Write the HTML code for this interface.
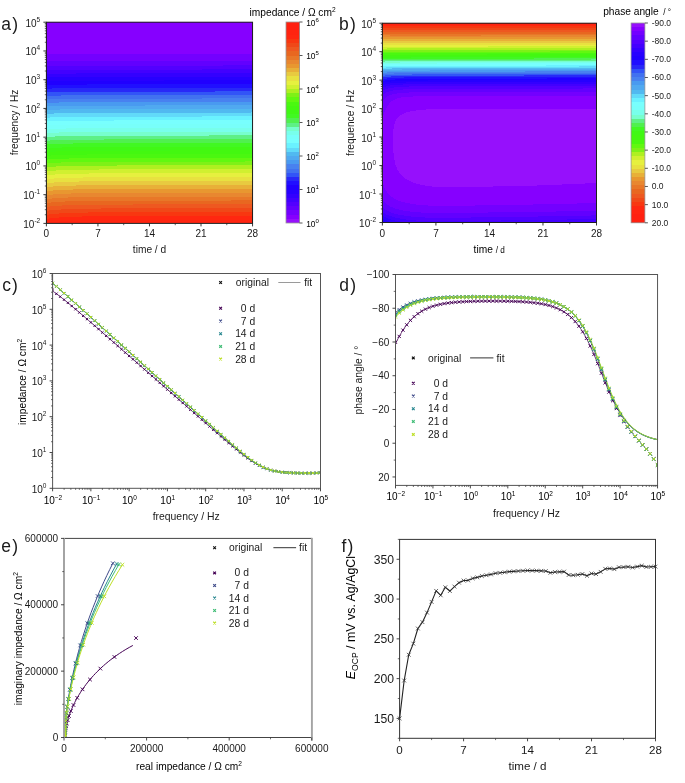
<!DOCTYPE html>
<html><head><meta charset="utf-8"><style>
html,body{margin:0;padding:0;background:#fff;overflow:hidden;}
svg{display:block;filter:blur(0.35px);}
text{font-family:"Liberation Sans", sans-serif;}
</style></head><body>
<svg width="685" height="783" viewBox="0 0 685 783">
<rect width="685" height="783" fill="#fff"/>
<g shape-rendering="crispEdges"><rect x="46.4" y="22.2" width="206.15" height="0.8" fill="#8600ff"/><rect x="46.4" y="23" width="206.15" height="1" fill="#8600ff"/><rect x="46.4" y="24" width="206.15" height="1" fill="#8600ff"/><rect x="46.4" y="25" width="206.15" height="1" fill="#8600ff"/><rect x="46.4" y="26" width="206.15" height="1" fill="#8600ff"/><rect x="46.4" y="27" width="206.15" height="1" fill="#8600ff"/><rect x="46.4" y="28" width="206.15" height="1" fill="#8600ff"/><rect x="46.4" y="29" width="206.15" height="1" fill="#8600ff"/><rect x="46.4" y="30" width="206.15" height="1" fill="#8600ff"/><rect x="46.4" y="31" width="206.15" height="1" fill="#8600ff"/><rect x="46.4" y="32" width="206.15" height="1" fill="#8600ff"/><rect x="46.4" y="33" width="206.15" height="1" fill="#8600ff"/><rect x="46.4" y="34" width="206.15" height="1" fill="#8600ff"/><rect x="46.4" y="35" width="206.15" height="1" fill="#8600ff"/><rect x="46.4" y="36" width="206.15" height="1" fill="#8600ff"/><rect x="46.4" y="37" width="206.15" height="1" fill="#8600ff"/><rect x="46.4" y="38" width="206.15" height="1" fill="#8600ff"/><rect x="46.4" y="39" width="206.15" height="1" fill="#8600ff"/><rect x="46.4" y="40" width="206.15" height="1" fill="#8600ff"/><rect x="46.4" y="41" width="206.15" height="1" fill="#8600ff"/><rect x="46.4" y="42" width="206.15" height="1" fill="#8600ff"/><rect x="46.4" y="43" width="206.15" height="1" fill="#8600ff"/><rect x="46.4" y="44" width="206.15" height="1" fill="#8600ff"/><rect x="46.4" y="45" width="206.15" height="1" fill="#8600ff"/><rect x="46.4" y="46" width="206.15" height="1" fill="#8600ff"/><rect x="46.4" y="47" width="206.15" height="1" fill="#8600ff"/><rect x="46.4" y="48" width="206.15" height="1" fill="#8600ff"/><rect x="46.4" y="49" width="206.15" height="1" fill="#8600ff"/><rect x="46.4" y="50" width="206.15" height="1" fill="#8600ff"/><rect x="46.4" y="51" width="206.15" height="1" fill="#8600ff"/><rect x="46.4" y="52" width="206.15" height="1" fill="#8600ff"/><rect x="46.4" y="53" width="206.15" height="1" fill="#8600ff"/><rect x="46.4" y="54" width="206.15" height="1" fill="#7300ff"/><rect x="46.4" y="55" width="206.15" height="1" fill="#7300ff"/><rect x="46.4" y="56" width="206.15" height="1" fill="#7300ff"/><rect x="46.4" y="57" width="206.15" height="1" fill="#7300ff"/><rect x="46.4" y="58" width="206.15" height="1" fill="#7300ff"/><rect x="46.4" y="59" width="206.15" height="1" fill="#7300ff"/><rect x="46.4" y="60" width="206.15" height="1" fill="#7300ff"/><rect x="46.4" y="61" width="206.15" height="1" fill="#6200ff"/><rect x="46.4" y="62" width="206.15" height="1" fill="#6200ff"/><rect x="46.4" y="63" width="206.15" height="1" fill="#6200ff"/><rect x="46.4" y="64" width="206.15" height="1" fill="#6200ff"/><rect x="46.4" y="65" width="176.6" height="1" fill="#6200ff"/><rect x="223" y="65" width="29.55" height="1" fill="#5200ff"/><rect x="46.4" y="66" width="206.15" height="1" fill="#5200ff"/><rect x="46.4" y="67" width="206.15" height="1" fill="#5200ff"/><rect x="46.4" y="68" width="206.15" height="1" fill="#5200ff"/><rect x="46.4" y="69" width="155.6" height="1" fill="#5200ff"/><rect x="202" y="69" width="50.55" height="1" fill="#4200ff"/><rect x="46.4" y="70" width="206.15" height="1" fill="#4200ff"/><rect x="46.4" y="71" width="206.15" height="1" fill="#4200ff"/><rect x="46.4" y="72" width="206.15" height="1" fill="#4200ff"/><rect x="46.4" y="73" width="29.6" height="1" fill="#4200ff"/><rect x="76" y="73" width="176.55" height="1" fill="#3300ff"/><rect x="46.4" y="74" width="206.15" height="1" fill="#3300ff"/><rect x="46.4" y="75" width="206.15" height="1" fill="#3300ff"/><rect x="46.4" y="76" width="206.15" height="1" fill="#3300ff"/><rect x="46.4" y="77" width="206.15" height="1" fill="#2700ff"/><rect x="46.4" y="78" width="206.15" height="1" fill="#2700ff"/><rect x="46.4" y="79" width="206.15" height="1" fill="#2700ff"/><rect x="46.4" y="80" width="117.6" height="1" fill="#2700ff"/><rect x="164" y="80" width="88.55" height="1" fill="#2000ff"/><rect x="46.4" y="81" width="206.15" height="1" fill="#2000ff"/><rect x="46.4" y="82" width="206.15" height="1" fill="#2000ff"/><rect x="46.4" y="83" width="206.15" height="1" fill="#2000ff"/><rect x="46.4" y="84" width="40.6" height="1" fill="#2000ff"/><rect x="87" y="84" width="165.55" height="1" fill="#200fff"/><rect x="46.4" y="85" width="206.15" height="1" fill="#200fff"/><rect x="46.4" y="86" width="206.15" height="1" fill="#200fff"/><rect x="46.4" y="87" width="206.15" height="1" fill="#200fff"/><rect x="46.4" y="88" width="5.6" height="1" fill="#200fff"/><rect x="52" y="88" width="200.55" height="1" fill="#2828f8"/><rect x="46.4" y="89" width="206.15" height="1" fill="#2828f8"/><rect x="46.4" y="90" width="206.15" height="1" fill="#2828f8"/><rect x="46.4" y="91" width="168.6" height="1" fill="#2828f8"/><rect x="215" y="91" width="37.55" height="1" fill="#3254f7"/><rect x="46.4" y="92" width="206.15" height="1" fill="#3254f7"/><rect x="46.4" y="93" width="206.15" height="1" fill="#3254f7"/><rect x="46.4" y="94" width="206.15" height="1" fill="#3254f7"/><rect x="46.4" y="95" width="14.6" height="1" fill="#3254f7"/><rect x="61" y="95" width="191.55" height="1" fill="#4171f0"/><rect x="46.4" y="96" width="206.15" height="1" fill="#4171f0"/><rect x="46.4" y="97" width="206.15" height="1" fill="#4171f0"/><rect x="46.4" y="98" width="155.6" height="1" fill="#4171f0"/><rect x="202" y="98" width="50.55" height="1" fill="#4881f0"/><rect x="46.4" y="99" width="206.15" height="1" fill="#4881f0"/><rect x="46.4" y="100" width="206.15" height="1" fill="#4881f0"/><rect x="46.4" y="101" width="206.15" height="1" fill="#4881f0"/><rect x="46.4" y="102" width="12.6" height="1" fill="#4881f0"/><rect x="59" y="102" width="193.55" height="1" fill="#499af0"/><rect x="46.4" y="103" width="206.15" height="1" fill="#499af0"/><rect x="46.4" y="104" width="206.15" height="1" fill="#499af0"/><rect x="46.4" y="105" width="98.6" height="1" fill="#499af0"/><rect x="145" y="105" width="107.55" height="1" fill="#50a9f0"/><rect x="46.4" y="106" width="206.15" height="1" fill="#50a9f0"/><rect x="46.4" y="107" width="206.15" height="1" fill="#50a9f0"/><rect x="46.4" y="108" width="206.15" height="1" fill="#50a9f0"/><rect x="46.4" y="109" width="13.6" height="1" fill="#50a9f0"/><rect x="60" y="109" width="192.55" height="1" fill="#51b9f0"/><rect x="46.4" y="110" width="206.15" height="1" fill="#51b9f0"/><rect x="46.4" y="111" width="206.15" height="1" fill="#51b9f0"/><rect x="46.4" y="112" width="204.6" height="1" fill="#51b9f0"/><rect x="251" y="112" width="1.55" height="1" fill="#61daf9"/><rect x="46.4" y="113" width="7.6" height="1" fill="#51b9f0"/><rect x="54" y="113" width="198.55" height="1" fill="#61daf9"/><rect x="46.4" y="114" width="206.15" height="1" fill="#61daf9"/><rect x="46.4" y="115" width="206.15" height="1" fill="#61daf9"/><rect x="46.4" y="116" width="155.6" height="1" fill="#61daf9"/><rect x="202" y="116" width="50.55" height="1" fill="#6af2ff"/><rect x="46.4" y="117" width="3.6" height="1" fill="#61daf9"/><rect x="50" y="117" width="202.55" height="1" fill="#6af2ff"/><rect x="46.4" y="118" width="206.15" height="1" fill="#6af2ff"/><rect x="46.4" y="119" width="206.15" height="1" fill="#6af2ff"/><rect x="46.4" y="120" width="67.6" height="1" fill="#6af2ff"/><rect x="114" y="120" width="138.55" height="1" fill="#78fffe"/><rect x="46.4" y="121" width="0.6" height="1" fill="#6af2ff"/><rect x="47" y="121" width="205.55" height="1" fill="#78fffe"/><rect x="46.4" y="122" width="206.15" height="1" fill="#78fffe"/><rect x="46.4" y="123" width="206.15" height="1" fill="#78fffe"/><rect x="46.4" y="124" width="31.6" height="1" fill="#78fffe"/><rect x="78" y="124" width="174.55" height="1" fill="#78fffa"/><rect x="46.4" y="125" width="206.15" height="1" fill="#78fffa"/><rect x="46.4" y="126" width="206.15" height="1" fill="#78fffa"/><rect x="46.4" y="127" width="206.15" height="1" fill="#78fffa"/><rect x="46.4" y="128" width="19.6" height="1" fill="#78fffa"/><rect x="66" y="128" width="186.55" height="1" fill="#78ffeb"/><rect x="46.4" y="129" width="206.15" height="1" fill="#78ffeb"/><rect x="46.4" y="130" width="206.15" height="1" fill="#78ffeb"/><rect x="46.4" y="131" width="206.15" height="1" fill="#78ffeb"/><rect x="46.4" y="132" width="12.6" height="1" fill="#78ffeb"/><rect x="59" y="132" width="193.55" height="1" fill="#77fecd"/><rect x="46.4" y="133" width="206.15" height="1" fill="#77fecd"/><rect x="46.4" y="134" width="206.15" height="1" fill="#77fecd"/><rect x="46.4" y="135" width="162.6" height="1" fill="#77fecd"/><rect x="209" y="135" width="43.55" height="1" fill="#5ef086"/><rect x="46.4" y="136" width="8.6" height="1" fill="#77fecd"/><rect x="55" y="136" width="197.55" height="1" fill="#5ef086"/><rect x="46.4" y="137" width="206.15" height="1" fill="#5ef086"/><rect x="46.4" y="138" width="206.15" height="1" fill="#5ef086"/><rect x="46.4" y="139" width="57.6" height="1" fill="#5ef086"/><rect x="104" y="139" width="148.55" height="1" fill="#50f04f"/><rect x="46.4" y="140" width="3.6" height="1" fill="#5ef086"/><rect x="50" y="140" width="202.55" height="1" fill="#50f04f"/><rect x="46.4" y="141" width="206.15" height="1" fill="#50f04f"/><rect x="46.4" y="142" width="206.15" height="1" fill="#50f04f"/><rect x="46.4" y="143" width="26.6" height="1" fill="#50f04f"/><rect x="73" y="143" width="179.55" height="1" fill="#41f822"/><rect x="46.4" y="144" width="0.6" height="1" fill="#50f04f"/><rect x="47" y="144" width="205.55" height="1" fill="#41f822"/><rect x="46.4" y="145" width="206.15" height="1" fill="#41f822"/><rect x="46.4" y="146" width="206.15" height="1" fill="#41f822"/><rect x="46.4" y="147" width="15.6" height="1" fill="#41f822"/><rect x="62" y="147" width="190.55" height="1" fill="#40f815"/><rect x="46.4" y="148" width="206.15" height="1" fill="#40f815"/><rect x="46.4" y="149" width="206.15" height="1" fill="#40f815"/><rect x="46.4" y="150" width="123.6" height="1" fill="#40f815"/><rect x="170" y="150" width="82.55" height="1" fill="#43f810"/><rect x="46.4" y="151" width="9.6" height="1" fill="#40f815"/><rect x="56" y="151" width="196.55" height="1" fill="#43f810"/><rect x="46.4" y="152" width="206.15" height="1" fill="#43f810"/><rect x="46.4" y="153" width="206.15" height="1" fill="#43f810"/><rect x="46.4" y="154" width="40.6" height="1" fill="#43f810"/><rect x="87" y="154" width="165.55" height="1" fill="#4af810"/><rect x="46.4" y="155" width="4.6" height="1" fill="#43f810"/><rect x="51" y="155" width="201.55" height="1" fill="#4af810"/><rect x="46.4" y="156" width="206.15" height="1" fill="#4af810"/><rect x="46.4" y="157" width="206.15" height="1" fill="#4af810"/><rect x="46.4" y="158" width="22.6" height="1" fill="#4af810"/><rect x="69" y="158" width="183.55" height="1" fill="#61f810"/><rect x="46.4" y="159" width="1.6" height="1" fill="#4af810"/><rect x="48" y="159" width="204.55" height="1" fill="#61f810"/><rect x="46.4" y="160" width="206.15" height="1" fill="#61f810"/><rect x="46.4" y="161" width="198.6" height="1" fill="#61f810"/><rect x="245" y="161" width="7.55" height="1" fill="#7ef117"/><rect x="46.4" y="162" width="14.6" height="1" fill="#61f810"/><rect x="61" y="162" width="191.55" height="1" fill="#7ef117"/><rect x="46.4" y="163" width="206.15" height="1" fill="#7ef117"/><rect x="46.4" y="164" width="206.15" height="1" fill="#7ef117"/><rect x="46.4" y="165" width="70.6" height="1" fill="#7ef117"/><rect x="117" y="165" width="135.55" height="1" fill="#aef020"/><rect x="46.4" y="166" width="9.6" height="1" fill="#7ef117"/><rect x="56" y="166" width="196.55" height="1" fill="#aef020"/><rect x="46.4" y="167" width="206.15" height="1" fill="#aef020"/><rect x="46.4" y="168" width="206.15" height="1" fill="#aef020"/><rect x="46.4" y="169" width="52.6" height="1" fill="#aef020"/><rect x="99" y="169" width="153.55" height="1" fill="#d0f030"/><rect x="46.4" y="170" width="9.6" height="1" fill="#aef020"/><rect x="56" y="170" width="196.55" height="1" fill="#d0f030"/><rect x="46.4" y="171" width="206.15" height="1" fill="#d0f030"/><rect x="46.4" y="172" width="206.15" height="1" fill="#d0f030"/><rect x="46.4" y="173" width="42.6" height="1" fill="#d0f030"/><rect x="89" y="173" width="163.55" height="1" fill="#e6f03f"/><rect x="46.4" y="174" width="8.6" height="1" fill="#d0f030"/><rect x="55" y="174" width="197.55" height="1" fill="#e6f03f"/><rect x="46.4" y="175" width="206.15" height="1" fill="#e6f03f"/><rect x="46.4" y="176" width="206.15" height="1" fill="#e6f03f"/><rect x="46.4" y="177" width="36.6" height="1" fill="#e6f03f"/><rect x="83" y="177" width="169.55" height="1" fill="#e8e140"/><rect x="46.4" y="178" width="7.6" height="1" fill="#e6f03f"/><rect x="54" y="178" width="198.55" height="1" fill="#e8e140"/><rect x="46.4" y="179" width="206.15" height="1" fill="#e8e140"/><rect x="46.4" y="180" width="206.15" height="1" fill="#e8e140"/><rect x="46.4" y="181" width="32.6" height="1" fill="#e8e140"/><rect x="79" y="181" width="173.55" height="1" fill="#e8ca40"/><rect x="46.4" y="182" width="7.6" height="1" fill="#e8e140"/><rect x="54" y="182" width="198.55" height="1" fill="#e8ca40"/><rect x="46.4" y="183" width="206.15" height="1" fill="#e8ca40"/><rect x="46.4" y="184" width="206.15" height="1" fill="#e8ca40"/><rect x="46.4" y="185" width="29.6" height="1" fill="#e8ca40"/><rect x="76" y="185" width="176.55" height="1" fill="#e8b038"/><rect x="46.4" y="186" width="6.6" height="1" fill="#e8ca40"/><rect x="53" y="186" width="199.55" height="1" fill="#e8b038"/><rect x="46.4" y="187" width="206.15" height="1" fill="#e8b038"/><rect x="46.4" y="188" width="206.15" height="1" fill="#e8b038"/><rect x="46.4" y="189" width="26.6" height="1" fill="#e8b038"/><rect x="73" y="189" width="179.55" height="1" fill="#e89730"/><rect x="46.4" y="190" width="6.6" height="1" fill="#e8b038"/><rect x="53" y="190" width="199.55" height="1" fill="#e89730"/><rect x="46.4" y="191" width="206.15" height="1" fill="#e89730"/><rect x="46.4" y="192" width="206.15" height="1" fill="#e89730"/><rect x="46.4" y="193" width="24.6" height="1" fill="#e89730"/><rect x="71" y="193" width="181.55" height="1" fill="#e88730"/><rect x="46.4" y="194" width="6.6" height="1" fill="#e89730"/><rect x="53" y="194" width="199.55" height="1" fill="#e88730"/><rect x="46.4" y="195" width="206.15" height="1" fill="#e88730"/><rect x="46.4" y="196" width="206.15" height="1" fill="#e88730"/><rect x="46.4" y="197" width="21.6" height="1" fill="#e88730"/><rect x="68" y="197" width="184.55" height="1" fill="#e87728"/><rect x="46.4" y="198" width="5.6" height="1" fill="#e88730"/><rect x="52" y="198" width="200.55" height="1" fill="#e87728"/><rect x="46.4" y="199" width="206.15" height="1" fill="#e87728"/><rect x="46.4" y="200" width="184.6" height="1" fill="#e87728"/><rect x="231" y="200" width="21.55" height="1" fill="#e86720"/><rect x="46.4" y="201" width="18.6" height="1" fill="#e87728"/><rect x="65" y="201" width="187.55" height="1" fill="#e86720"/><rect x="46.4" y="202" width="4.6" height="1" fill="#e87728"/><rect x="51" y="202" width="201.55" height="1" fill="#e86720"/><rect x="46.4" y="203" width="206.15" height="1" fill="#e86720"/><rect x="46.4" y="204" width="86.6" height="1" fill="#e86720"/><rect x="133" y="204" width="119.55" height="1" fill="#ee5820"/><rect x="46.4" y="205" width="15.6" height="1" fill="#e86720"/><rect x="62" y="205" width="190.55" height="1" fill="#ee5820"/><rect x="46.4" y="206" width="3.6" height="1" fill="#e86720"/><rect x="50" y="206" width="202.55" height="1" fill="#ee5820"/><rect x="46.4" y="207" width="206.15" height="1" fill="#ee5820"/><rect x="46.4" y="208" width="54.6" height="1" fill="#ee5820"/><rect x="101" y="208" width="151.55" height="1" fill="#f04818"/><rect x="46.4" y="209" width="14.6" height="1" fill="#ee5820"/><rect x="61" y="209" width="191.55" height="1" fill="#f04818"/><rect x="46.4" y="210" width="2.6" height="1" fill="#ee5820"/><rect x="49" y="210" width="203.55" height="1" fill="#f04818"/><rect x="46.4" y="211" width="206.15" height="1" fill="#f04818"/><rect x="46.4" y="212" width="41.6" height="1" fill="#f04818"/><rect x="88" y="212" width="164.55" height="1" fill="#f83710"/><rect x="46.4" y="213" width="12.6" height="1" fill="#f04818"/><rect x="59" y="213" width="193.55" height="1" fill="#f83710"/><rect x="46.4" y="214" width="2.6" height="1" fill="#f04818"/><rect x="49" y="214" width="203.55" height="1" fill="#f83710"/><rect x="46.4" y="215" width="206.15" height="1" fill="#f83710"/><rect x="46.4" y="216" width="35.6" height="1" fill="#f83710"/><rect x="82" y="216" width="170.55" height="1" fill="#ff2710"/><rect x="46.4" y="217" width="12.6" height="1" fill="#f83710"/><rect x="59" y="217" width="193.55" height="1" fill="#ff2710"/><rect x="46.4" y="218" width="2.6" height="1" fill="#f83710"/><rect x="49" y="218" width="203.55" height="1" fill="#ff2710"/><rect x="46.4" y="219" width="206.15" height="1" fill="#ff2710"/><rect x="46.4" y="220" width="33.6" height="1" fill="#ff2710"/><rect x="80" y="220" width="172.55" height="1" fill="#ff2410"/><rect x="46.4" y="221" width="12.6" height="1" fill="#ff2710"/><rect x="59" y="221" width="193.55" height="1" fill="#ff2410"/><rect x="46.4" y="222" width="3.6" height="1" fill="#ff2710"/><rect x="50" y="222" width="202.55" height="1" fill="#ff2410"/><rect x="46.4" y="223" width="206.15" height="0.4" fill="#ff2410"/></g>
<rect x="46.4" y="22.2" width="206.15" height="201.2" fill="none" stroke="#1e1e1e" stroke-width="1"/>
<line x1="43.4" y1="223.4" x2="46.4" y2="223.4" stroke="#222" stroke-width="0.9"/>
<line x1="44.8" y1="214.75" x2="46.4" y2="214.75" stroke="#222" stroke-width="0.7"/>
<line x1="44.8" y1="209.69" x2="46.4" y2="209.69" stroke="#222" stroke-width="0.7"/>
<line x1="44.8" y1="206.1" x2="46.4" y2="206.1" stroke="#222" stroke-width="0.7"/>
<line x1="44.8" y1="203.31" x2="46.4" y2="203.31" stroke="#222" stroke-width="0.7"/>
<line x1="44.8" y1="201.03" x2="46.4" y2="201.03" stroke="#222" stroke-width="0.7"/>
<line x1="44.8" y1="199.11" x2="46.4" y2="199.11" stroke="#222" stroke-width="0.7"/>
<line x1="44.8" y1="197.44" x2="46.4" y2="197.44" stroke="#222" stroke-width="0.7"/>
<line x1="44.8" y1="195.97" x2="46.4" y2="195.97" stroke="#222" stroke-width="0.7"/>
<line x1="43.4" y1="194.66" x2="46.4" y2="194.66" stroke="#222" stroke-width="0.9"/>
<line x1="44.8" y1="186" x2="46.4" y2="186" stroke="#222" stroke-width="0.7"/>
<line x1="44.8" y1="180.94" x2="46.4" y2="180.94" stroke="#222" stroke-width="0.7"/>
<line x1="44.8" y1="177.35" x2="46.4" y2="177.35" stroke="#222" stroke-width="0.7"/>
<line x1="44.8" y1="174.57" x2="46.4" y2="174.57" stroke="#222" stroke-width="0.7"/>
<line x1="44.8" y1="172.29" x2="46.4" y2="172.29" stroke="#222" stroke-width="0.7"/>
<line x1="44.8" y1="170.37" x2="46.4" y2="170.37" stroke="#222" stroke-width="0.7"/>
<line x1="44.8" y1="168.7" x2="46.4" y2="168.7" stroke="#222" stroke-width="0.7"/>
<line x1="44.8" y1="167.23" x2="46.4" y2="167.23" stroke="#222" stroke-width="0.7"/>
<line x1="43.4" y1="165.91" x2="46.4" y2="165.91" stroke="#222" stroke-width="0.9"/>
<line x1="44.8" y1="157.26" x2="46.4" y2="157.26" stroke="#222" stroke-width="0.7"/>
<line x1="44.8" y1="152.2" x2="46.4" y2="152.2" stroke="#222" stroke-width="0.7"/>
<line x1="44.8" y1="148.61" x2="46.4" y2="148.61" stroke="#222" stroke-width="0.7"/>
<line x1="44.8" y1="145.82" x2="46.4" y2="145.82" stroke="#222" stroke-width="0.7"/>
<line x1="44.8" y1="143.55" x2="46.4" y2="143.55" stroke="#222" stroke-width="0.7"/>
<line x1="44.8" y1="141.62" x2="46.4" y2="141.62" stroke="#222" stroke-width="0.7"/>
<line x1="44.8" y1="139.96" x2="46.4" y2="139.96" stroke="#222" stroke-width="0.7"/>
<line x1="44.8" y1="138.49" x2="46.4" y2="138.49" stroke="#222" stroke-width="0.7"/>
<line x1="43.4" y1="137.17" x2="46.4" y2="137.17" stroke="#222" stroke-width="0.9"/>
<line x1="44.8" y1="128.52" x2="46.4" y2="128.52" stroke="#222" stroke-width="0.7"/>
<line x1="44.8" y1="123.46" x2="46.4" y2="123.46" stroke="#222" stroke-width="0.7"/>
<line x1="44.8" y1="119.87" x2="46.4" y2="119.87" stroke="#222" stroke-width="0.7"/>
<line x1="44.8" y1="117.08" x2="46.4" y2="117.08" stroke="#222" stroke-width="0.7"/>
<line x1="44.8" y1="114.81" x2="46.4" y2="114.81" stroke="#222" stroke-width="0.7"/>
<line x1="44.8" y1="112.88" x2="46.4" y2="112.88" stroke="#222" stroke-width="0.7"/>
<line x1="44.8" y1="111.21" x2="46.4" y2="111.21" stroke="#222" stroke-width="0.7"/>
<line x1="44.8" y1="109.74" x2="46.4" y2="109.74" stroke="#222" stroke-width="0.7"/>
<line x1="43.4" y1="108.43" x2="46.4" y2="108.43" stroke="#222" stroke-width="0.9"/>
<line x1="44.8" y1="99.78" x2="46.4" y2="99.78" stroke="#222" stroke-width="0.7"/>
<line x1="44.8" y1="94.71" x2="46.4" y2="94.71" stroke="#222" stroke-width="0.7"/>
<line x1="44.8" y1="91.12" x2="46.4" y2="91.12" stroke="#222" stroke-width="0.7"/>
<line x1="44.8" y1="88.34" x2="46.4" y2="88.34" stroke="#222" stroke-width="0.7"/>
<line x1="44.8" y1="86.06" x2="46.4" y2="86.06" stroke="#222" stroke-width="0.7"/>
<line x1="44.8" y1="84.14" x2="46.4" y2="84.14" stroke="#222" stroke-width="0.7"/>
<line x1="44.8" y1="82.47" x2="46.4" y2="82.47" stroke="#222" stroke-width="0.7"/>
<line x1="44.8" y1="81" x2="46.4" y2="81" stroke="#222" stroke-width="0.7"/>
<line x1="43.4" y1="79.69" x2="46.4" y2="79.69" stroke="#222" stroke-width="0.9"/>
<line x1="44.8" y1="71.03" x2="46.4" y2="71.03" stroke="#222" stroke-width="0.7"/>
<line x1="44.8" y1="65.97" x2="46.4" y2="65.97" stroke="#222" stroke-width="0.7"/>
<line x1="44.8" y1="62.38" x2="46.4" y2="62.38" stroke="#222" stroke-width="0.7"/>
<line x1="44.8" y1="59.6" x2="46.4" y2="59.6" stroke="#222" stroke-width="0.7"/>
<line x1="44.8" y1="57.32" x2="46.4" y2="57.32" stroke="#222" stroke-width="0.7"/>
<line x1="44.8" y1="55.4" x2="46.4" y2="55.4" stroke="#222" stroke-width="0.7"/>
<line x1="44.8" y1="53.73" x2="46.4" y2="53.73" stroke="#222" stroke-width="0.7"/>
<line x1="44.8" y1="52.26" x2="46.4" y2="52.26" stroke="#222" stroke-width="0.7"/>
<line x1="43.4" y1="50.94" x2="46.4" y2="50.94" stroke="#222" stroke-width="0.9"/>
<line x1="44.8" y1="42.29" x2="46.4" y2="42.29" stroke="#222" stroke-width="0.7"/>
<line x1="44.8" y1="37.23" x2="46.4" y2="37.23" stroke="#222" stroke-width="0.7"/>
<line x1="44.8" y1="33.64" x2="46.4" y2="33.64" stroke="#222" stroke-width="0.7"/>
<line x1="44.8" y1="30.85" x2="46.4" y2="30.85" stroke="#222" stroke-width="0.7"/>
<line x1="44.8" y1="28.58" x2="46.4" y2="28.58" stroke="#222" stroke-width="0.7"/>
<line x1="44.8" y1="26.65" x2="46.4" y2="26.65" stroke="#222" stroke-width="0.7"/>
<line x1="44.8" y1="24.99" x2="46.4" y2="24.99" stroke="#222" stroke-width="0.7"/>
<line x1="44.8" y1="23.52" x2="46.4" y2="23.52" stroke="#222" stroke-width="0.7"/>
<line x1="43.4" y1="22.2" x2="46.4" y2="22.2" stroke="#222" stroke-width="0.9"/>
<text x="40.2" y="227.9" font-size="10" text-anchor="end" fill="#1a1a1a">10<tspan font-size="6.5" dy="-5.0">-2</tspan></text>
<text x="40.2" y="199.16" font-size="10" text-anchor="end" fill="#1a1a1a">10<tspan font-size="6.5" dy="-5.0">-1</tspan></text>
<text x="40.2" y="170.41" font-size="10" text-anchor="end" fill="#1a1a1a">10<tspan font-size="6.5" dy="-5.0">0</tspan></text>
<text x="40.2" y="141.67" font-size="10" text-anchor="end" fill="#1a1a1a">10<tspan font-size="6.5" dy="-5.0">1</tspan></text>
<text x="40.2" y="112.93" font-size="10" text-anchor="end" fill="#1a1a1a">10<tspan font-size="6.5" dy="-5.0">2</tspan></text>
<text x="40.2" y="84.19" font-size="10" text-anchor="end" fill="#1a1a1a">10<tspan font-size="6.5" dy="-5.0">3</tspan></text>
<text x="40.2" y="55.44" font-size="10" text-anchor="end" fill="#1a1a1a">10<tspan font-size="6.5" dy="-5.0">4</tspan></text>
<text x="40.2" y="26.7" font-size="10" text-anchor="end" fill="#1a1a1a">10<tspan font-size="6.5" dy="-5.0">5</tspan></text>
<line x1="46.4" y1="223.4" x2="46.4" y2="226.4" stroke="#222" stroke-width="0.9"/>
<text x="46.4" y="236.6" font-size="10" text-anchor="middle" fill="#1a1a1a">0</text>
<line x1="97.94" y1="223.4" x2="97.94" y2="226.4" stroke="#222" stroke-width="0.9"/>
<text x="97.94" y="236.6" font-size="10" text-anchor="middle" fill="#1a1a1a">7</text>
<line x1="149.47" y1="223.4" x2="149.47" y2="226.4" stroke="#222" stroke-width="0.9"/>
<text x="149.47" y="236.6" font-size="10" text-anchor="middle" fill="#1a1a1a">14</text>
<line x1="201.01" y1="223.4" x2="201.01" y2="226.4" stroke="#222" stroke-width="0.9"/>
<text x="201.01" y="236.6" font-size="10" text-anchor="middle" fill="#1a1a1a">21</text>
<line x1="252.55" y1="223.4" x2="252.55" y2="226.4" stroke="#222" stroke-width="0.9"/>
<text x="252.55" y="236.6" font-size="10" text-anchor="middle" fill="#1a1a1a">28</text>
<line x1="72.17" y1="223.4" x2="72.17" y2="225.2" stroke="#222" stroke-width="0.7"/>
<line x1="123.71" y1="223.4" x2="123.71" y2="225.2" stroke="#222" stroke-width="0.7"/>
<line x1="175.24" y1="223.4" x2="175.24" y2="225.2" stroke="#222" stroke-width="0.7"/>
<line x1="226.78" y1="223.4" x2="226.78" y2="225.2" stroke="#222" stroke-width="0.7"/>
<text x="149.5" y="253.4" font-size="10.2" text-anchor="middle" fill="#1a1a1a">time / d</text>
<text x="18.2" y="122.5" font-size="10.2" text-anchor="middle" fill="#1a1a1a" transform="rotate(-90 18.2 122.5)">frequency / Hz</text>
<text x="1.3" y="29.5" font-size="17.5" text-anchor="start" fill="#1a1a1a">a<tspan dx="1.1">)</tspan></text>
<g shape-rendering="crispEdges"><rect x="286" y="22" width="13.5" height="4" fill="#ff2010"/><rect x="286" y="26" width="13.5" height="4" fill="#ff2010"/><rect x="286" y="30" width="13.5" height="5" fill="#ff2410"/><rect x="286" y="35" width="13.5" height="4" fill="#ff2710"/><rect x="286" y="39" width="13.5" height="4" fill="#f83710"/><rect x="286" y="43" width="13.5" height="4" fill="#f04818"/><rect x="286" y="47" width="13.5" height="4" fill="#ee5820"/><rect x="286" y="51" width="13.5" height="5" fill="#e86720"/><rect x="286" y="56" width="13.5" height="4" fill="#e87728"/><rect x="286" y="60" width="13.5" height="4" fill="#e88730"/><rect x="286" y="64" width="13.5" height="4" fill="#e89730"/><rect x="286" y="68" width="13.5" height="4" fill="#e8b038"/><rect x="286" y="72" width="13.5" height="4" fill="#e8ca40"/><rect x="286" y="76" width="13.5" height="5" fill="#e8e140"/><rect x="286" y="81" width="13.5" height="4" fill="#e6f03f"/><rect x="286" y="85" width="13.5" height="4" fill="#d0f030"/><rect x="286" y="89" width="13.5" height="4" fill="#aef020"/><rect x="286" y="93" width="13.5" height="4" fill="#7ef117"/><rect x="286" y="97" width="13.5" height="5" fill="#61f810"/><rect x="286" y="102" width="13.5" height="4" fill="#4af810"/><rect x="286" y="106" width="13.5" height="4" fill="#43f810"/><rect x="286" y="110" width="13.5" height="4" fill="#40f815"/><rect x="286" y="114" width="13.5" height="4" fill="#41f822"/><rect x="286" y="118" width="13.5" height="5" fill="#50f04f"/><rect x="286" y="123" width="13.5" height="4" fill="#5ef086"/><rect x="286" y="127" width="13.5" height="4" fill="#77fecd"/><rect x="286" y="131" width="13.5" height="4" fill="#78ffeb"/><rect x="286" y="135" width="13.5" height="4" fill="#78fffa"/><rect x="286" y="139" width="13.5" height="4" fill="#78fffe"/><rect x="286" y="143" width="13.5" height="5" fill="#6af2ff"/><rect x="286" y="148" width="13.5" height="4" fill="#61daf9"/><rect x="286" y="152" width="13.5" height="4" fill="#51b9f0"/><rect x="286" y="156" width="13.5" height="4" fill="#50a9f0"/><rect x="286" y="160" width="13.5" height="4" fill="#499af0"/><rect x="286" y="164" width="13.5" height="5" fill="#4881f0"/><rect x="286" y="169" width="13.5" height="4" fill="#4171f0"/><rect x="286" y="173" width="13.5" height="4" fill="#3254f7"/><rect x="286" y="177" width="13.5" height="4" fill="#2828f8"/><rect x="286" y="181" width="13.5" height="4" fill="#200fff"/><rect x="286" y="185" width="13.5" height="5" fill="#2000ff"/><rect x="286" y="190" width="13.5" height="4" fill="#2700ff"/><rect x="286" y="194" width="13.5" height="4" fill="#3300ff"/><rect x="286" y="198" width="13.5" height="4" fill="#4200ff"/><rect x="286" y="202" width="13.5" height="4" fill="#5200ff"/><rect x="286" y="206" width="13.5" height="4" fill="#6200ff"/><rect x="286" y="210" width="13.5" height="5" fill="#7300ff"/><rect x="286" y="215" width="13.5" height="4" fill="#8600ff"/><rect x="286" y="219" width="13.5" height="4" fill="#9610fc"/></g>
<rect x="286" y="22" width="13.5" height="201" fill="none" stroke="#9a9a9a" stroke-width="0.8"/>
<line x1="299.5" y1="223" x2="302.5" y2="223" stroke="#444" stroke-width="0.9"/>
<text x="306.2" y="226.7" font-size="8.4">10<tspan font-size="6" dy="-3.8">0</tspan></text>
<line x1="299.5" y1="189.5" x2="302.5" y2="189.5" stroke="#444" stroke-width="0.9"/>
<text x="306.2" y="193.2" font-size="8.4">10<tspan font-size="6" dy="-3.8">1</tspan></text>
<line x1="299.5" y1="156" x2="302.5" y2="156" stroke="#444" stroke-width="0.9"/>
<text x="306.2" y="159.7" font-size="8.4">10<tspan font-size="6" dy="-3.8">2</tspan></text>
<line x1="299.5" y1="122.5" x2="302.5" y2="122.5" stroke="#444" stroke-width="0.9"/>
<text x="306.2" y="126.2" font-size="8.4">10<tspan font-size="6" dy="-3.8">3</tspan></text>
<line x1="299.5" y1="89" x2="302.5" y2="89" stroke="#444" stroke-width="0.9"/>
<text x="306.2" y="92.7" font-size="8.4">10<tspan font-size="6" dy="-3.8">4</tspan></text>
<line x1="299.5" y1="55.5" x2="302.5" y2="55.5" stroke="#444" stroke-width="0.9"/>
<text x="306.2" y="59.2" font-size="8.4">10<tspan font-size="6" dy="-3.8">5</tspan></text>
<line x1="299.5" y1="22" x2="302.5" y2="22" stroke="#444" stroke-width="0.9"/>
<text x="306.2" y="25.7" font-size="8.4">10<tspan font-size="6" dy="-3.8">6</tspan></text>
<text x="249.6" y="15.5" font-size="10.2">impedance / &#937; cm<tspan font-size="6.6" dy="-4">2</tspan></text>
<g shape-rendering="crispEdges"><rect x="382.4" y="23.2" width="214.1" height="0.8" fill="#ff2410"/><rect x="382.4" y="24" width="214.1" height="1" fill="#ff2410"/><rect x="382.4" y="25" width="214.1" height="1" fill="#ff2710"/><rect x="382.4" y="26" width="214.1" height="1" fill="#f83710"/><rect x="382.4" y="27" width="214.1" height="1" fill="#f83710"/><rect x="382.4" y="28" width="214.1" height="1" fill="#f04818"/><rect x="382.4" y="29" width="214.1" height="1" fill="#f04818"/><rect x="382.4" y="30" width="214.1" height="1" fill="#ee5820"/><rect x="382.4" y="31" width="214.1" height="1" fill="#ee5820"/><rect x="382.4" y="32" width="214.1" height="1" fill="#e86720"/><rect x="382.4" y="33" width="214.1" height="1" fill="#e86720"/><rect x="382.4" y="34" width="214.1" height="1" fill="#e87728"/><rect x="382.4" y="35" width="7.6" height="1" fill="#e88730"/><rect x="390" y="35" width="91" height="1" fill="#e87728"/><rect x="481" y="35" width="115.5" height="1" fill="#e88730"/><rect x="382.4" y="36" width="214.1" height="1" fill="#e88730"/><rect x="382.4" y="37" width="214.1" height="1" fill="#e89730"/><rect x="382.4" y="38" width="214.1" height="1" fill="#e89730"/><rect x="382.4" y="39" width="214.1" height="1" fill="#e8b038"/><rect x="382.4" y="40" width="214.1" height="1" fill="#e8b038"/><rect x="382.4" y="41" width="214.1" height="1" fill="#e8ca40"/><rect x="382.4" y="42" width="214.1" height="1" fill="#e8ca40"/><rect x="382.4" y="43" width="214.1" height="1" fill="#e8e140"/><rect x="382.4" y="44" width="214.1" height="1" fill="#e8e140"/><rect x="382.4" y="45" width="214.1" height="1" fill="#e6f03f"/><rect x="382.4" y="46" width="105.6" height="1" fill="#e6f03f"/><rect x="488" y="46" width="108.5" height="1" fill="#d0f030"/><rect x="382.4" y="47" width="214.1" height="1" fill="#d0f030"/><rect x="382.4" y="48" width="4.6" height="1" fill="#d0f030"/><rect x="387" y="48" width="209.5" height="1" fill="#aef020"/><rect x="382.4" y="49" width="214.1" height="1" fill="#aef020"/><rect x="382.4" y="50" width="214.1" height="1" fill="#7ef117"/><rect x="382.4" y="51" width="167.6" height="1" fill="#7ef117"/><rect x="550" y="51" width="46.5" height="1" fill="#61f810"/><rect x="382.4" y="52" width="214.1" height="1" fill="#61f810"/><rect x="382.4" y="53" width="214.1" height="1" fill="#4af810"/><rect x="382.4" y="54" width="104.6" height="1" fill="#4af810"/><rect x="487" y="54" width="109.5" height="1" fill="#43f810"/><rect x="382.4" y="55" width="214.1" height="1" fill="#43f810"/><rect x="382.4" y="56" width="214.1" height="1" fill="#40f815"/><rect x="382.4" y="57" width="28.6" height="1" fill="#40f815"/><rect x="411" y="57" width="185.5" height="1" fill="#41f822"/><rect x="382.4" y="58" width="151.6" height="1" fill="#41f822"/><rect x="534" y="58" width="62.5" height="1" fill="#50f04f"/><rect x="382.4" y="59" width="208.6" height="1" fill="#50f04f"/><rect x="591" y="59" width="5.5" height="1" fill="#5ef086"/><rect x="382.4" y="60" width="214.1" height="1" fill="#5ef086"/><rect x="382.4" y="61" width="2.6" height="1" fill="#5ef086"/><rect x="385" y="61" width="211.5" height="1" fill="#77fecd"/><rect x="382.4" y="62" width="17.6" height="1" fill="#77fecd"/><rect x="400" y="62" width="196.5" height="1" fill="#78ffeb"/><rect x="382.4" y="63" width="54.6" height="1" fill="#78ffeb"/><rect x="437" y="63" width="159.5" height="1" fill="#78fffa"/><rect x="382.4" y="64" width="102.6" height="1" fill="#78fffa"/><rect x="485" y="64" width="111.5" height="1" fill="#78fffe"/><rect x="382.4" y="65" width="163.6" height="1" fill="#78fffe"/><rect x="546" y="65" width="50.5" height="1" fill="#6af2ff"/><rect x="382.4" y="66" width="196.6" height="1" fill="#6af2ff"/><rect x="579" y="66" width="17.5" height="1" fill="#61daf9"/><rect x="382.4" y="67" width="3.6" height="1" fill="#6af2ff"/><rect x="386" y="67" width="210.5" height="1" fill="#61daf9"/><rect x="382.4" y="68" width="9.6" height="1" fill="#61daf9"/><rect x="392" y="68" width="204.5" height="1" fill="#51b9f0"/><rect x="382.4" y="69" width="19.6" height="1" fill="#51b9f0"/><rect x="402" y="69" width="194.5" height="1" fill="#50a9f0"/><rect x="382.4" y="70" width="47.6" height="1" fill="#50a9f0"/><rect x="430" y="70" width="166.5" height="1" fill="#499af0"/><rect x="382.4" y="71" width="0.6" height="1" fill="#50a9f0"/><rect x="383" y="71" width="142" height="1" fill="#499af0"/><rect x="525" y="71" width="71.5" height="1" fill="#4881f0"/><rect x="382.4" y="72" width="4.6" height="1" fill="#499af0"/><rect x="387" y="72" width="209.5" height="1" fill="#4881f0"/><rect x="382.4" y="73" width="11.6" height="1" fill="#4881f0"/><rect x="394" y="73" width="202.5" height="1" fill="#4171f0"/><rect x="382.4" y="74" width="29.6" height="1" fill="#4171f0"/><rect x="412" y="74" width="184.5" height="1" fill="#3254f7"/><rect x="382.4" y="75" width="2.6" height="1" fill="#4171f0"/><rect x="385" y="75" width="139" height="1" fill="#3254f7"/><rect x="524" y="75" width="72.5" height="1" fill="#2828f8"/><rect x="382.4" y="76" width="8.6" height="1" fill="#3254f7"/><rect x="391" y="76" width="205.5" height="1" fill="#2828f8"/><rect x="382.4" y="77" width="21.6" height="1" fill="#2828f8"/><rect x="404" y="77" width="192.5" height="1" fill="#200fff"/><rect x="382.4" y="78" width="4.6" height="1" fill="#2828f8"/><rect x="387" y="78" width="160" height="1" fill="#200fff"/><rect x="547" y="78" width="49.5" height="1" fill="#2000ff"/><rect x="382.4" y="79" width="12.6" height="1" fill="#200fff"/><rect x="395" y="79" width="201.5" height="1" fill="#2000ff"/><rect x="382.4" y="80" width="2.6" height="1" fill="#200fff"/><rect x="385" y="80" width="43" height="1" fill="#2000ff"/><rect x="428" y="80" width="168.5" height="1" fill="#2700ff"/><rect x="382.4" y="81" width="8.6" height="1" fill="#2000ff"/><rect x="391" y="81" width="205.5" height="1" fill="#2700ff"/><rect x="382.4" y="82" width="1.6" height="1" fill="#2000ff"/><rect x="384" y="82" width="22" height="1" fill="#2700ff"/><rect x="406" y="82" width="190.5" height="1" fill="#3300ff"/><rect x="382.4" y="83" width="7.6" height="1" fill="#2700ff"/><rect x="390" y="83" width="206.5" height="1" fill="#3300ff"/><rect x="382.4" y="84" width="2.6" height="1" fill="#2700ff"/><rect x="385" y="84" width="18" height="1" fill="#3300ff"/><rect x="403" y="84" width="193.5" height="1" fill="#4200ff"/><rect x="382.4" y="85" width="7.6" height="1" fill="#3300ff"/><rect x="390" y="85" width="206.5" height="1" fill="#4200ff"/><rect x="382.4" y="86" width="3.6" height="1" fill="#3300ff"/><rect x="386" y="86" width="23" height="1" fill="#4200ff"/><rect x="409" y="86" width="187.5" height="1" fill="#5200ff"/><rect x="382.4" y="87" width="0.6" height="1" fill="#3300ff"/><rect x="383" y="87" width="11" height="1" fill="#4200ff"/><rect x="394" y="87" width="202.5" height="1" fill="#5200ff"/><rect x="382.4" y="88" width="5.6" height="1" fill="#4200ff"/><rect x="388" y="88" width="195" height="1" fill="#5200ff"/><rect x="583" y="88" width="13.5" height="1" fill="#6200ff"/><rect x="382.4" y="89" width="2.6" height="1" fill="#4200ff"/><rect x="385" y="89" width="18" height="1" fill="#5200ff"/><rect x="403" y="89" width="193.5" height="1" fill="#6200ff"/><rect x="382.4" y="90" width="0.6" height="1" fill="#4200ff"/><rect x="383" y="90" width="10" height="1" fill="#5200ff"/><rect x="393" y="90" width="203.5" height="1" fill="#6200ff"/><rect x="382.4" y="91" width="6.6" height="1" fill="#5200ff"/><rect x="389" y="91" width="207.5" height="1" fill="#6200ff"/><rect x="382.4" y="92" width="3.6" height="1" fill="#5200ff"/><rect x="386" y="92" width="23" height="1" fill="#6200ff"/><rect x="409" y="92" width="187.5" height="1" fill="#7300ff"/><rect x="382.4" y="93" width="2.6" height="1" fill="#5200ff"/><rect x="385" y="93" width="12" height="1" fill="#6200ff"/><rect x="397" y="93" width="199.5" height="1" fill="#7300ff"/><rect x="382.4" y="94" width="0.6" height="1" fill="#5200ff"/><rect x="383" y="94" width="9" height="1" fill="#6200ff"/><rect x="392" y="94" width="204.5" height="1" fill="#7300ff"/><rect x="382.4" y="95" width="6.6" height="1" fill="#6200ff"/><rect x="389" y="95" width="207.5" height="1" fill="#7300ff"/><rect x="382.4" y="96" width="4.6" height="1" fill="#6200ff"/><rect x="387" y="96" width="26" height="1" fill="#7300ff"/><rect x="413" y="96" width="183.5" height="1" fill="#8600ff"/><rect x="382.4" y="97" width="3.6" height="1" fill="#6200ff"/><rect x="386" y="97" width="15" height="1" fill="#7300ff"/><rect x="401" y="97" width="195.5" height="1" fill="#8600ff"/><rect x="382.4" y="98" width="2.6" height="1" fill="#6200ff"/><rect x="385" y="98" width="12" height="1" fill="#7300ff"/><rect x="397" y="98" width="199.5" height="1" fill="#8600ff"/><rect x="382.4" y="99" width="1.6" height="1" fill="#6200ff"/><rect x="384" y="99" width="11" height="1" fill="#7300ff"/><rect x="395" y="99" width="201.5" height="1" fill="#8600ff"/><rect x="382.4" y="100" width="0.6" height="1" fill="#6200ff"/><rect x="383" y="100" width="10" height="1" fill="#7300ff"/><rect x="393" y="100" width="203.5" height="1" fill="#8600ff"/><rect x="382.4" y="101" width="0.6" height="1" fill="#6200ff"/><rect x="383" y="101" width="8" height="1" fill="#7300ff"/><rect x="391" y="101" width="205.5" height="1" fill="#8600ff"/><rect x="382.4" y="102" width="7.6" height="1" fill="#7300ff"/><rect x="390" y="102" width="206.5" height="1" fill="#8600ff"/><rect x="382.4" y="103" width="6.6" height="1" fill="#7300ff"/><rect x="389" y="103" width="207.5" height="1" fill="#8600ff"/><rect x="382.4" y="104" width="6.6" height="1" fill="#7300ff"/><rect x="389" y="104" width="207.5" height="1" fill="#8600ff"/><rect x="382.4" y="105" width="5.6" height="1" fill="#7300ff"/><rect x="388" y="105" width="208.5" height="1" fill="#8600ff"/><rect x="382.4" y="106" width="4.6" height="1" fill="#7300ff"/><rect x="387" y="106" width="209.5" height="1" fill="#8600ff"/><rect x="382.4" y="107" width="4.6" height="1" fill="#7300ff"/><rect x="387" y="107" width="209.5" height="1" fill="#8600ff"/><rect x="382.4" y="108" width="3.6" height="1" fill="#7300ff"/><rect x="386" y="108" width="210.5" height="1" fill="#8600ff"/><rect x="382.4" y="109" width="3.6" height="1" fill="#7300ff"/><rect x="386" y="109" width="40" height="1" fill="#8600ff"/><rect x="426" y="109" width="170.5" height="1" fill="#9610fc"/><rect x="382.4" y="110" width="2.6" height="1" fill="#7300ff"/><rect x="385" y="110" width="31" height="1" fill="#8600ff"/><rect x="416" y="110" width="180.5" height="1" fill="#9610fc"/><rect x="382.4" y="111" width="2.6" height="1" fill="#7300ff"/><rect x="385" y="111" width="25" height="1" fill="#8600ff"/><rect x="410" y="111" width="186.5" height="1" fill="#9610fc"/><rect x="382.4" y="112" width="1.6" height="1" fill="#7300ff"/><rect x="384" y="112" width="22" height="1" fill="#8600ff"/><rect x="406" y="112" width="190.5" height="1" fill="#9610fc"/><rect x="382.4" y="113" width="1.6" height="1" fill="#7300ff"/><rect x="384" y="113" width="20" height="1" fill="#8600ff"/><rect x="404" y="113" width="192.5" height="1" fill="#9610fc"/><rect x="382.4" y="114" width="1.6" height="1" fill="#7300ff"/><rect x="384" y="114" width="18" height="1" fill="#8600ff"/><rect x="402" y="114" width="194.5" height="1" fill="#9610fc"/><rect x="382.4" y="115" width="0.6" height="1" fill="#7300ff"/><rect x="383" y="115" width="17" height="1" fill="#8600ff"/><rect x="400" y="115" width="196.5" height="1" fill="#9610fc"/><rect x="382.4" y="116" width="0.6" height="1" fill="#7300ff"/><rect x="383" y="116" width="16" height="1" fill="#8600ff"/><rect x="399" y="116" width="197.5" height="1" fill="#9610fc"/><rect x="382.4" y="117" width="0.6" height="1" fill="#7300ff"/><rect x="383" y="117" width="15" height="1" fill="#8600ff"/><rect x="398" y="117" width="198.5" height="1" fill="#9610fc"/><rect x="382.4" y="118" width="0.6" height="1" fill="#7300ff"/><rect x="383" y="118" width="14" height="1" fill="#8600ff"/><rect x="397" y="118" width="199.5" height="1" fill="#9610fc"/><rect x="382.4" y="119" width="13.6" height="1" fill="#8600ff"/><rect x="396" y="119" width="200.5" height="1" fill="#9610fc"/><rect x="382.4" y="120" width="13.6" height="1" fill="#8600ff"/><rect x="396" y="120" width="200.5" height="1" fill="#9610fc"/><rect x="382.4" y="121" width="12.6" height="1" fill="#8600ff"/><rect x="395" y="121" width="201.5" height="1" fill="#9610fc"/><rect x="382.4" y="122" width="12.6" height="1" fill="#8600ff"/><rect x="395" y="122" width="201.5" height="1" fill="#9610fc"/><rect x="382.4" y="123" width="12.6" height="1" fill="#8600ff"/><rect x="395" y="123" width="201.5" height="1" fill="#9610fc"/><rect x="382.4" y="124" width="11.6" height="1" fill="#8600ff"/><rect x="394" y="124" width="202.5" height="1" fill="#9610fc"/><rect x="382.4" y="125" width="11.6" height="1" fill="#8600ff"/><rect x="394" y="125" width="202.5" height="1" fill="#9610fc"/><rect x="382.4" y="126" width="11.6" height="1" fill="#8600ff"/><rect x="394" y="126" width="202.5" height="1" fill="#9610fc"/><rect x="382.4" y="127" width="11.6" height="1" fill="#8600ff"/><rect x="394" y="127" width="202.5" height="1" fill="#9610fc"/><rect x="382.4" y="128" width="11.6" height="1" fill="#8600ff"/><rect x="394" y="128" width="202.5" height="1" fill="#9610fc"/><rect x="382.4" y="129" width="10.6" height="1" fill="#8600ff"/><rect x="393" y="129" width="203.5" height="1" fill="#9610fc"/><rect x="382.4" y="130" width="10.6" height="1" fill="#8600ff"/><rect x="393" y="130" width="203.5" height="1" fill="#9610fc"/><rect x="382.4" y="131" width="10.6" height="1" fill="#8600ff"/><rect x="393" y="131" width="203.5" height="1" fill="#9610fc"/><rect x="382.4" y="132" width="10.6" height="1" fill="#8600ff"/><rect x="393" y="132" width="203.5" height="1" fill="#9610fc"/><rect x="382.4" y="133" width="10.6" height="1" fill="#8600ff"/><rect x="393" y="133" width="203.5" height="1" fill="#9610fc"/><rect x="382.4" y="134" width="10.6" height="1" fill="#8600ff"/><rect x="393" y="134" width="203.5" height="1" fill="#9610fc"/><rect x="382.4" y="135" width="10.6" height="1" fill="#8600ff"/><rect x="393" y="135" width="203.5" height="1" fill="#9610fc"/><rect x="382.4" y="136" width="10.6" height="1" fill="#8600ff"/><rect x="393" y="136" width="203.5" height="1" fill="#9610fc"/><rect x="382.4" y="137" width="10.6" height="1" fill="#8600ff"/><rect x="393" y="137" width="203.5" height="1" fill="#9610fc"/><rect x="382.4" y="138" width="10.6" height="1" fill="#8600ff"/><rect x="393" y="138" width="203.5" height="1" fill="#9610fc"/><rect x="382.4" y="139" width="10.6" height="1" fill="#8600ff"/><rect x="393" y="139" width="203.5" height="1" fill="#9610fc"/><rect x="382.4" y="140" width="10.6" height="1" fill="#8600ff"/><rect x="393" y="140" width="203.5" height="1" fill="#9610fc"/><rect x="382.4" y="141" width="10.6" height="1" fill="#8600ff"/><rect x="393" y="141" width="203.5" height="1" fill="#9610fc"/><rect x="382.4" y="142" width="10.6" height="1" fill="#8600ff"/><rect x="393" y="142" width="203.5" height="1" fill="#9610fc"/><rect x="382.4" y="143" width="10.6" height="1" fill="#8600ff"/><rect x="393" y="143" width="203.5" height="1" fill="#9610fc"/><rect x="382.4" y="144" width="10.6" height="1" fill="#8600ff"/><rect x="393" y="144" width="203.5" height="1" fill="#9610fc"/><rect x="382.4" y="145" width="10.6" height="1" fill="#8600ff"/><rect x="393" y="145" width="203.5" height="1" fill="#9610fc"/><rect x="382.4" y="146" width="10.6" height="1" fill="#8600ff"/><rect x="393" y="146" width="203.5" height="1" fill="#9610fc"/><rect x="382.4" y="147" width="10.6" height="1" fill="#8600ff"/><rect x="393" y="147" width="203.5" height="1" fill="#9610fc"/><rect x="382.4" y="148" width="10.6" height="1" fill="#8600ff"/><rect x="393" y="148" width="203.5" height="1" fill="#9610fc"/><rect x="382.4" y="149" width="10.6" height="1" fill="#8600ff"/><rect x="393" y="149" width="203.5" height="1" fill="#9610fc"/><rect x="382.4" y="150" width="10.6" height="1" fill="#8600ff"/><rect x="393" y="150" width="203.5" height="1" fill="#9610fc"/><rect x="382.4" y="151" width="10.6" height="1" fill="#8600ff"/><rect x="393" y="151" width="203.5" height="1" fill="#9610fc"/><rect x="382.4" y="152" width="10.6" height="1" fill="#8600ff"/><rect x="393" y="152" width="203.5" height="1" fill="#9610fc"/><rect x="382.4" y="153" width="11.6" height="1" fill="#8600ff"/><rect x="394" y="153" width="202.5" height="1" fill="#9610fc"/><rect x="382.4" y="154" width="11.6" height="1" fill="#8600ff"/><rect x="394" y="154" width="202.5" height="1" fill="#9610fc"/><rect x="382.4" y="155" width="11.6" height="1" fill="#8600ff"/><rect x="394" y="155" width="202.5" height="1" fill="#9610fc"/><rect x="382.4" y="156" width="11.6" height="1" fill="#8600ff"/><rect x="394" y="156" width="202.5" height="1" fill="#9610fc"/><rect x="382.4" y="157" width="11.6" height="1" fill="#8600ff"/><rect x="394" y="157" width="202.5" height="1" fill="#9610fc"/><rect x="382.4" y="158" width="11.6" height="1" fill="#8600ff"/><rect x="394" y="158" width="202.5" height="1" fill="#9610fc"/><rect x="382.4" y="159" width="11.6" height="1" fill="#8600ff"/><rect x="394" y="159" width="202.5" height="1" fill="#9610fc"/><rect x="382.4" y="160" width="12.6" height="1" fill="#8600ff"/><rect x="395" y="160" width="201.5" height="1" fill="#9610fc"/><rect x="382.4" y="161" width="12.6" height="1" fill="#8600ff"/><rect x="395" y="161" width="201.5" height="1" fill="#9610fc"/><rect x="382.4" y="162" width="12.6" height="1" fill="#8600ff"/><rect x="395" y="162" width="201.5" height="1" fill="#9610fc"/><rect x="382.4" y="163" width="12.6" height="1" fill="#8600ff"/><rect x="395" y="163" width="201.5" height="1" fill="#9610fc"/><rect x="382.4" y="164" width="12.6" height="1" fill="#8600ff"/><rect x="395" y="164" width="201.5" height="1" fill="#9610fc"/><rect x="382.4" y="165" width="13.6" height="1" fill="#8600ff"/><rect x="396" y="165" width="200.5" height="1" fill="#9610fc"/><rect x="382.4" y="166" width="13.6" height="1" fill="#8600ff"/><rect x="396" y="166" width="200.5" height="1" fill="#9610fc"/><rect x="382.4" y="167" width="14.6" height="1" fill="#8600ff"/><rect x="397" y="167" width="199.5" height="1" fill="#9610fc"/><rect x="382.4" y="168" width="14.6" height="1" fill="#8600ff"/><rect x="397" y="168" width="199.5" height="1" fill="#9610fc"/><rect x="382.4" y="169" width="14.6" height="1" fill="#8600ff"/><rect x="397" y="169" width="199.5" height="1" fill="#9610fc"/><rect x="382.4" y="170" width="15.6" height="1" fill="#8600ff"/><rect x="398" y="170" width="198.5" height="1" fill="#9610fc"/><rect x="382.4" y="171" width="16.6" height="1" fill="#8600ff"/><rect x="399" y="171" width="197.5" height="1" fill="#9610fc"/><rect x="382.4" y="172" width="16.6" height="1" fill="#8600ff"/><rect x="399" y="172" width="197.5" height="1" fill="#9610fc"/><rect x="382.4" y="173" width="17.6" height="1" fill="#8600ff"/><rect x="400" y="173" width="196.5" height="1" fill="#9610fc"/><rect x="382.4" y="174" width="18.6" height="1" fill="#8600ff"/><rect x="401" y="174" width="195.5" height="1" fill="#9610fc"/><rect x="382.4" y="175" width="19.6" height="1" fill="#8600ff"/><rect x="402" y="175" width="194.5" height="1" fill="#9610fc"/><rect x="382.4" y="176" width="20.6" height="1" fill="#8600ff"/><rect x="403" y="176" width="193.5" height="1" fill="#9610fc"/><rect x="382.4" y="177" width="21.6" height="1" fill="#8600ff"/><rect x="404" y="177" width="192.5" height="1" fill="#9610fc"/><rect x="382.4" y="178" width="22.6" height="1" fill="#8600ff"/><rect x="405" y="178" width="191.5" height="1" fill="#9610fc"/><rect x="382.4" y="179" width="24.6" height="1" fill="#8600ff"/><rect x="407" y="179" width="189.5" height="1" fill="#9610fc"/><rect x="382.4" y="180" width="26.6" height="1" fill="#8600ff"/><rect x="409" y="180" width="187.5" height="1" fill="#9610fc"/><rect x="382.4" y="181" width="0.6" height="1" fill="#7300ff"/><rect x="383" y="181" width="28" height="1" fill="#8600ff"/><rect x="411" y="181" width="185.5" height="1" fill="#9610fc"/><rect x="382.4" y="182" width="0.6" height="1" fill="#7300ff"/><rect x="383" y="182" width="30" height="1" fill="#8600ff"/><rect x="413" y="182" width="183.5" height="1" fill="#9610fc"/><rect x="382.4" y="183" width="0.6" height="1" fill="#7300ff"/><rect x="383" y="183" width="33" height="1" fill="#8600ff"/><rect x="416" y="183" width="169" height="1" fill="#9610fc"/><rect x="585" y="183" width="11.5" height="1" fill="#8600ff"/><rect x="382.4" y="184" width="0.6" height="1" fill="#7300ff"/><rect x="383" y="184" width="37" height="1" fill="#8600ff"/><rect x="420" y="184" width="142" height="1" fill="#9610fc"/><rect x="562" y="184" width="34.5" height="1" fill="#8600ff"/><rect x="382.4" y="185" width="1.6" height="1" fill="#7300ff"/><rect x="384" y="185" width="41" height="1" fill="#8600ff"/><rect x="425" y="185" width="112" height="1" fill="#9610fc"/><rect x="537" y="185" width="59.5" height="1" fill="#8600ff"/><rect x="382.4" y="186" width="1.6" height="1" fill="#7300ff"/><rect x="384" y="186" width="48" height="1" fill="#8600ff"/><rect x="432" y="186" width="61" height="1" fill="#9610fc"/><rect x="493" y="186" width="103.5" height="1" fill="#8600ff"/><rect x="382.4" y="187" width="1.6" height="1" fill="#7300ff"/><rect x="384" y="187" width="212.5" height="1" fill="#8600ff"/><rect x="382.4" y="188" width="2.6" height="1" fill="#7300ff"/><rect x="385" y="188" width="211.5" height="1" fill="#8600ff"/><rect x="382.4" y="189" width="2.6" height="1" fill="#7300ff"/><rect x="385" y="189" width="211.5" height="1" fill="#8600ff"/><rect x="382.4" y="190" width="3.6" height="1" fill="#7300ff"/><rect x="386" y="190" width="210.5" height="1" fill="#8600ff"/><rect x="382.4" y="191" width="4.6" height="1" fill="#7300ff"/><rect x="387" y="191" width="209.5" height="1" fill="#8600ff"/><rect x="382.4" y="192" width="4.6" height="1" fill="#7300ff"/><rect x="387" y="192" width="209.5" height="1" fill="#8600ff"/><rect x="382.4" y="193" width="5.6" height="1" fill="#7300ff"/><rect x="388" y="193" width="208.5" height="1" fill="#8600ff"/><rect x="382.4" y="194" width="6.6" height="1" fill="#7300ff"/><rect x="389" y="194" width="207.5" height="1" fill="#8600ff"/><rect x="382.4" y="195" width="7.6" height="1" fill="#7300ff"/><rect x="390" y="195" width="206.5" height="1" fill="#8600ff"/><rect x="382.4" y="196" width="8.6" height="1" fill="#7300ff"/><rect x="391" y="196" width="205.5" height="1" fill="#8600ff"/><rect x="382.4" y="197" width="10.6" height="1" fill="#7300ff"/><rect x="393" y="197" width="203.5" height="1" fill="#8600ff"/><rect x="382.4" y="198" width="11.6" height="1" fill="#7300ff"/><rect x="394" y="198" width="202.5" height="1" fill="#8600ff"/><rect x="382.4" y="199" width="13.6" height="1" fill="#7300ff"/><rect x="396" y="199" width="200.5" height="1" fill="#8600ff"/><rect x="382.4" y="200" width="0.6" height="1" fill="#6200ff"/><rect x="383" y="200" width="15" height="1" fill="#7300ff"/><rect x="398" y="200" width="198.5" height="1" fill="#8600ff"/><rect x="382.4" y="201" width="1.6" height="1" fill="#6200ff"/><rect x="384" y="201" width="17" height="1" fill="#7300ff"/><rect x="401" y="201" width="195.5" height="1" fill="#8600ff"/><rect x="382.4" y="202" width="2.6" height="1" fill="#6200ff"/><rect x="385" y="202" width="20" height="1" fill="#7300ff"/><rect x="405" y="202" width="191.5" height="1" fill="#8600ff"/><rect x="382.4" y="203" width="3.6" height="1" fill="#6200ff"/><rect x="386" y="203" width="24" height="1" fill="#7300ff"/><rect x="410" y="203" width="167" height="1" fill="#8600ff"/><rect x="577" y="203" width="19.5" height="1" fill="#7300ff"/><rect x="382.4" y="204" width="4.6" height="1" fill="#6200ff"/><rect x="387" y="204" width="29" height="1" fill="#7300ff"/><rect x="416" y="204" width="117" height="1" fill="#8600ff"/><rect x="533" y="204" width="63.5" height="1" fill="#7300ff"/><rect x="382.4" y="205" width="6.6" height="1" fill="#6200ff"/><rect x="389" y="205" width="39" height="1" fill="#7300ff"/><rect x="428" y="205" width="47" height="1" fill="#8600ff"/><rect x="475" y="205" width="121.5" height="1" fill="#7300ff"/><rect x="382.4" y="206" width="7.6" height="1" fill="#6200ff"/><rect x="390" y="206" width="206.5" height="1" fill="#7300ff"/><rect x="382.4" y="207" width="10.6" height="1" fill="#6200ff"/><rect x="393" y="207" width="203.5" height="1" fill="#7300ff"/><rect x="382.4" y="208" width="1.6" height="1" fill="#5200ff"/><rect x="384" y="208" width="11" height="1" fill="#6200ff"/><rect x="395" y="208" width="201.5" height="1" fill="#7300ff"/><rect x="382.4" y="209" width="2.6" height="1" fill="#5200ff"/><rect x="385" y="209" width="14" height="1" fill="#6200ff"/><rect x="399" y="209" width="197.5" height="1" fill="#7300ff"/><rect x="382.4" y="210" width="4.6" height="1" fill="#5200ff"/><rect x="387" y="210" width="16" height="1" fill="#6200ff"/><rect x="403" y="210" width="193.5" height="1" fill="#7300ff"/><rect x="382.4" y="211" width="6.6" height="1" fill="#5200ff"/><rect x="389" y="211" width="21" height="1" fill="#6200ff"/><rect x="410" y="211" width="146" height="1" fill="#7300ff"/><rect x="556" y="211" width="40.5" height="1" fill="#6200ff"/><rect x="382.4" y="212" width="0.6" height="1" fill="#4200ff"/><rect x="383" y="212" width="8" height="1" fill="#5200ff"/><rect x="391" y="212" width="30" height="1" fill="#6200ff"/><rect x="421" y="212" width="67" height="1" fill="#7300ff"/><rect x="488" y="212" width="108.5" height="1" fill="#6200ff"/><rect x="382.4" y="213" width="2.6" height="1" fill="#4200ff"/><rect x="385" y="213" width="9" height="1" fill="#5200ff"/><rect x="394" y="213" width="202.5" height="1" fill="#6200ff"/><rect x="382.4" y="214" width="3.6" height="1" fill="#4200ff"/><rect x="386" y="214" width="12" height="1" fill="#5200ff"/><rect x="398" y="214" width="198.5" height="1" fill="#6200ff"/><rect x="382.4" y="215" width="6.6" height="1" fill="#4200ff"/><rect x="389" y="215" width="15" height="1" fill="#5200ff"/><rect x="404" y="215" width="187" height="1" fill="#6200ff"/><rect x="591" y="215" width="5.5" height="1" fill="#5200ff"/><rect x="382.4" y="216" width="1.6" height="1" fill="#3300ff"/><rect x="384" y="216" width="8" height="1" fill="#4200ff"/><rect x="392" y="216" width="19" height="1" fill="#5200ff"/><rect x="411" y="216" width="127" height="1" fill="#6200ff"/><rect x="538" y="216" width="58.5" height="1" fill="#5200ff"/><rect x="382.4" y="217" width="3.6" height="1" fill="#3300ff"/><rect x="386" y="217" width="9" height="1" fill="#4200ff"/><rect x="395" y="217" width="30" height="1" fill="#5200ff"/><rect x="425" y="217" width="46" height="1" fill="#6200ff"/><rect x="471" y="217" width="125.5" height="1" fill="#5200ff"/><rect x="382.4" y="218" width="5.6" height="1" fill="#3300ff"/><rect x="388" y="218" width="12" height="1" fill="#4200ff"/><rect x="400" y="218" width="196.5" height="1" fill="#5200ff"/><rect x="382.4" y="219" width="1.6" height="1" fill="#2700ff"/><rect x="384" y="219" width="7" height="1" fill="#3300ff"/><rect x="391" y="219" width="15" height="1" fill="#4200ff"/><rect x="406" y="219" width="161" height="1" fill="#5200ff"/><rect x="567" y="219" width="29.5" height="1" fill="#4200ff"/><rect x="382.4" y="220" width="4.6" height="1" fill="#2700ff"/><rect x="387" y="220" width="8" height="1" fill="#3300ff"/><rect x="395" y="220" width="21" height="1" fill="#4200ff"/><rect x="416" y="220" width="85" height="1" fill="#5200ff"/><rect x="501" y="220" width="95.5" height="1" fill="#4200ff"/><rect x="382.4" y="221" width="1.6" height="1" fill="#2000ff"/><rect x="384" y="221" width="5" height="1" fill="#2700ff"/><rect x="389" y="221" width="11" height="1" fill="#3300ff"/><rect x="400" y="221" width="196.5" height="1" fill="#4200ff"/><rect x="382.4" y="222" width="3.6" height="0.5" fill="#2000ff"/><rect x="386" y="222" width="7" height="0.5" fill="#2700ff"/><rect x="393" y="222" width="14" height="0.5" fill="#3300ff"/><rect x="407" y="222" width="151" height="0.5" fill="#4200ff"/><rect x="558" y="222" width="38.5" height="0.5" fill="#3300ff"/></g>
<rect x="382.4" y="23.2" width="214.1" height="199.3" fill="none" stroke="#1e1e1e" stroke-width="1"/>
<line x1="379.4" y1="222.5" x2="382.4" y2="222.5" stroke="#222" stroke-width="0.9"/>
<line x1="380.8" y1="213.93" x2="382.4" y2="213.93" stroke="#222" stroke-width="0.7"/>
<line x1="380.8" y1="208.92" x2="382.4" y2="208.92" stroke="#222" stroke-width="0.7"/>
<line x1="380.8" y1="205.36" x2="382.4" y2="205.36" stroke="#222" stroke-width="0.7"/>
<line x1="380.8" y1="202.6" x2="382.4" y2="202.6" stroke="#222" stroke-width="0.7"/>
<line x1="380.8" y1="200.34" x2="382.4" y2="200.34" stroke="#222" stroke-width="0.7"/>
<line x1="380.8" y1="198.44" x2="382.4" y2="198.44" stroke="#222" stroke-width="0.7"/>
<line x1="380.8" y1="196.79" x2="382.4" y2="196.79" stroke="#222" stroke-width="0.7"/>
<line x1="380.8" y1="195.33" x2="382.4" y2="195.33" stroke="#222" stroke-width="0.7"/>
<line x1="379.4" y1="194.03" x2="382.4" y2="194.03" stroke="#222" stroke-width="0.9"/>
<line x1="380.8" y1="185.46" x2="382.4" y2="185.46" stroke="#222" stroke-width="0.7"/>
<line x1="380.8" y1="180.44" x2="382.4" y2="180.44" stroke="#222" stroke-width="0.7"/>
<line x1="380.8" y1="176.89" x2="382.4" y2="176.89" stroke="#222" stroke-width="0.7"/>
<line x1="380.8" y1="174.13" x2="382.4" y2="174.13" stroke="#222" stroke-width="0.7"/>
<line x1="380.8" y1="171.87" x2="382.4" y2="171.87" stroke="#222" stroke-width="0.7"/>
<line x1="380.8" y1="169.97" x2="382.4" y2="169.97" stroke="#222" stroke-width="0.7"/>
<line x1="380.8" y1="168.32" x2="382.4" y2="168.32" stroke="#222" stroke-width="0.7"/>
<line x1="380.8" y1="166.86" x2="382.4" y2="166.86" stroke="#222" stroke-width="0.7"/>
<line x1="379.4" y1="165.56" x2="382.4" y2="165.56" stroke="#222" stroke-width="0.9"/>
<line x1="380.8" y1="156.99" x2="382.4" y2="156.99" stroke="#222" stroke-width="0.7"/>
<line x1="380.8" y1="151.97" x2="382.4" y2="151.97" stroke="#222" stroke-width="0.7"/>
<line x1="380.8" y1="148.42" x2="382.4" y2="148.42" stroke="#222" stroke-width="0.7"/>
<line x1="380.8" y1="145.66" x2="382.4" y2="145.66" stroke="#222" stroke-width="0.7"/>
<line x1="380.8" y1="143.4" x2="382.4" y2="143.4" stroke="#222" stroke-width="0.7"/>
<line x1="380.8" y1="141.5" x2="382.4" y2="141.5" stroke="#222" stroke-width="0.7"/>
<line x1="380.8" y1="139.84" x2="382.4" y2="139.84" stroke="#222" stroke-width="0.7"/>
<line x1="380.8" y1="138.39" x2="382.4" y2="138.39" stroke="#222" stroke-width="0.7"/>
<line x1="379.4" y1="137.09" x2="382.4" y2="137.09" stroke="#222" stroke-width="0.9"/>
<line x1="380.8" y1="128.51" x2="382.4" y2="128.51" stroke="#222" stroke-width="0.7"/>
<line x1="380.8" y1="123.5" x2="382.4" y2="123.5" stroke="#222" stroke-width="0.7"/>
<line x1="380.8" y1="119.94" x2="382.4" y2="119.94" stroke="#222" stroke-width="0.7"/>
<line x1="380.8" y1="117.19" x2="382.4" y2="117.19" stroke="#222" stroke-width="0.7"/>
<line x1="380.8" y1="114.93" x2="382.4" y2="114.93" stroke="#222" stroke-width="0.7"/>
<line x1="380.8" y1="113.02" x2="382.4" y2="113.02" stroke="#222" stroke-width="0.7"/>
<line x1="380.8" y1="111.37" x2="382.4" y2="111.37" stroke="#222" stroke-width="0.7"/>
<line x1="380.8" y1="109.92" x2="382.4" y2="109.92" stroke="#222" stroke-width="0.7"/>
<line x1="379.4" y1="108.61" x2="382.4" y2="108.61" stroke="#222" stroke-width="0.9"/>
<line x1="380.8" y1="100.04" x2="382.4" y2="100.04" stroke="#222" stroke-width="0.7"/>
<line x1="380.8" y1="95.03" x2="382.4" y2="95.03" stroke="#222" stroke-width="0.7"/>
<line x1="380.8" y1="91.47" x2="382.4" y2="91.47" stroke="#222" stroke-width="0.7"/>
<line x1="380.8" y1="88.71" x2="382.4" y2="88.71" stroke="#222" stroke-width="0.7"/>
<line x1="380.8" y1="86.46" x2="382.4" y2="86.46" stroke="#222" stroke-width="0.7"/>
<line x1="380.8" y1="84.55" x2="382.4" y2="84.55" stroke="#222" stroke-width="0.7"/>
<line x1="380.8" y1="82.9" x2="382.4" y2="82.9" stroke="#222" stroke-width="0.7"/>
<line x1="380.8" y1="81.45" x2="382.4" y2="81.45" stroke="#222" stroke-width="0.7"/>
<line x1="379.4" y1="80.14" x2="382.4" y2="80.14" stroke="#222" stroke-width="0.9"/>
<line x1="380.8" y1="71.57" x2="382.4" y2="71.57" stroke="#222" stroke-width="0.7"/>
<line x1="380.8" y1="66.56" x2="382.4" y2="66.56" stroke="#222" stroke-width="0.7"/>
<line x1="380.8" y1="63" x2="382.4" y2="63" stroke="#222" stroke-width="0.7"/>
<line x1="380.8" y1="60.24" x2="382.4" y2="60.24" stroke="#222" stroke-width="0.7"/>
<line x1="380.8" y1="57.99" x2="382.4" y2="57.99" stroke="#222" stroke-width="0.7"/>
<line x1="380.8" y1="56.08" x2="382.4" y2="56.08" stroke="#222" stroke-width="0.7"/>
<line x1="380.8" y1="54.43" x2="382.4" y2="54.43" stroke="#222" stroke-width="0.7"/>
<line x1="380.8" y1="52.97" x2="382.4" y2="52.97" stroke="#222" stroke-width="0.7"/>
<line x1="379.4" y1="51.67" x2="382.4" y2="51.67" stroke="#222" stroke-width="0.9"/>
<line x1="380.8" y1="43.1" x2="382.4" y2="43.1" stroke="#222" stroke-width="0.7"/>
<line x1="380.8" y1="38.09" x2="382.4" y2="38.09" stroke="#222" stroke-width="0.7"/>
<line x1="380.8" y1="34.53" x2="382.4" y2="34.53" stroke="#222" stroke-width="0.7"/>
<line x1="380.8" y1="31.77" x2="382.4" y2="31.77" stroke="#222" stroke-width="0.7"/>
<line x1="380.8" y1="29.52" x2="382.4" y2="29.52" stroke="#222" stroke-width="0.7"/>
<line x1="380.8" y1="27.61" x2="382.4" y2="27.61" stroke="#222" stroke-width="0.7"/>
<line x1="380.8" y1="25.96" x2="382.4" y2="25.96" stroke="#222" stroke-width="0.7"/>
<line x1="380.8" y1="24.5" x2="382.4" y2="24.5" stroke="#222" stroke-width="0.7"/>
<line x1="379.4" y1="23.2" x2="382.4" y2="23.2" stroke="#222" stroke-width="0.9"/>
<text x="376" y="227" font-size="10" text-anchor="end" fill="#1a1a1a">10<tspan font-size="6.5" dy="-5.0">-2</tspan></text>
<text x="376" y="198.53" font-size="10" text-anchor="end" fill="#1a1a1a">10<tspan font-size="6.5" dy="-5.0">-1</tspan></text>
<text x="376" y="170.06" font-size="10" text-anchor="end" fill="#1a1a1a">10<tspan font-size="6.5" dy="-5.0">0</tspan></text>
<text x="376" y="141.59" font-size="10" text-anchor="end" fill="#1a1a1a">10<tspan font-size="6.5" dy="-5.0">1</tspan></text>
<text x="376" y="113.11" font-size="10" text-anchor="end" fill="#1a1a1a">10<tspan font-size="6.5" dy="-5.0">2</tspan></text>
<text x="376" y="84.64" font-size="10" text-anchor="end" fill="#1a1a1a">10<tspan font-size="6.5" dy="-5.0">3</tspan></text>
<text x="376" y="56.17" font-size="10" text-anchor="end" fill="#1a1a1a">10<tspan font-size="6.5" dy="-5.0">4</tspan></text>
<text x="376" y="27.7" font-size="10" text-anchor="end" fill="#1a1a1a">10<tspan font-size="6.5" dy="-5.0">5</tspan></text>
<line x1="382.4" y1="222.5" x2="382.4" y2="225.5" stroke="#222" stroke-width="0.9"/>
<text x="382.4" y="236.6" font-size="10" text-anchor="middle" fill="#1a1a1a">0</text>
<line x1="435.92" y1="222.5" x2="435.92" y2="225.5" stroke="#222" stroke-width="0.9"/>
<text x="435.92" y="236.6" font-size="10" text-anchor="middle" fill="#1a1a1a">7</text>
<line x1="489.45" y1="222.5" x2="489.45" y2="225.5" stroke="#222" stroke-width="0.9"/>
<text x="489.45" y="236.6" font-size="10" text-anchor="middle" fill="#1a1a1a">14</text>
<line x1="542.98" y1="222.5" x2="542.98" y2="225.5" stroke="#222" stroke-width="0.9"/>
<text x="542.98" y="236.6" font-size="10" text-anchor="middle" fill="#1a1a1a">21</text>
<line x1="596.5" y1="222.5" x2="596.5" y2="225.5" stroke="#222" stroke-width="0.9"/>
<text x="596.5" y="236.6" font-size="10" text-anchor="middle" fill="#1a1a1a">28</text>
<line x1="409.16" y1="222.5" x2="409.16" y2="224.3" stroke="#222" stroke-width="0.7"/>
<line x1="462.69" y1="222.5" x2="462.69" y2="224.3" stroke="#222" stroke-width="0.7"/>
<line x1="516.21" y1="222.5" x2="516.21" y2="224.3" stroke="#222" stroke-width="0.7"/>
<line x1="569.74" y1="222.5" x2="569.74" y2="224.3" stroke="#222" stroke-width="0.7"/>
<text x="473.6" y="253.4" font-size="10.2">time <tspan font-size="8.2">/ d</tspan></text>
<text x="353.6" y="122.8" font-size="10.2" text-anchor="middle" fill="#1a1a1a" transform="rotate(-90 353.6 122.8)">frequence / Hz</text>
<text x="339.1" y="29.6" font-size="17.5" text-anchor="start" fill="#1a1a1a">b<tspan dx="1.1">)</tspan></text>
<g shape-rendering="crispEdges"><rect x="631.1" y="23" width="13.8" height="4" fill="#9610fc"/><rect x="631.1" y="27" width="13.8" height="4" fill="#8600ff"/><rect x="631.1" y="31" width="13.8" height="4" fill="#7300ff"/><rect x="631.1" y="35" width="13.8" height="5" fill="#6200ff"/><rect x="631.1" y="40" width="13.8" height="4" fill="#5200ff"/><rect x="631.1" y="44" width="13.8" height="4" fill="#4200ff"/><rect x="631.1" y="48" width="13.8" height="4" fill="#3300ff"/><rect x="631.1" y="52" width="13.8" height="4" fill="#2700ff"/><rect x="631.1" y="56" width="13.8" height="4" fill="#2000ff"/><rect x="631.1" y="60" width="13.8" height="5" fill="#200fff"/><rect x="631.1" y="65" width="13.8" height="4" fill="#2828f8"/><rect x="631.1" y="69" width="13.8" height="4" fill="#3254f7"/><rect x="631.1" y="73" width="13.8" height="4" fill="#4171f0"/><rect x="631.1" y="77" width="13.8" height="4" fill="#4881f0"/><rect x="631.1" y="81" width="13.8" height="4" fill="#499af0"/><rect x="631.1" y="85" width="13.8" height="5" fill="#50a9f0"/><rect x="631.1" y="90" width="13.8" height="4" fill="#51b9f0"/><rect x="631.1" y="94" width="13.8" height="4" fill="#61daf9"/><rect x="631.1" y="98" width="13.8" height="4" fill="#6af2ff"/><rect x="631.1" y="102" width="13.8" height="4" fill="#78fffe"/><rect x="631.1" y="106" width="13.8" height="4" fill="#78fffa"/><rect x="631.1" y="110" width="13.8" height="5" fill="#78ffeb"/><rect x="631.1" y="115" width="13.8" height="4" fill="#77fecd"/><rect x="631.1" y="119" width="13.8" height="4" fill="#5ef086"/><rect x="631.1" y="123" width="13.8" height="4" fill="#50f04f"/><rect x="631.1" y="127" width="13.8" height="4" fill="#41f822"/><rect x="631.1" y="131" width="13.8" height="4" fill="#40f815"/><rect x="631.1" y="135" width="13.8" height="5" fill="#43f810"/><rect x="631.1" y="140" width="13.8" height="4" fill="#4af810"/><rect x="631.1" y="144" width="13.8" height="4" fill="#61f810"/><rect x="631.1" y="148" width="13.8" height="4" fill="#7ef117"/><rect x="631.1" y="152" width="13.8" height="4" fill="#aef020"/><rect x="631.1" y="156" width="13.8" height="4" fill="#d0f030"/><rect x="631.1" y="160" width="13.8" height="5" fill="#e6f03f"/><rect x="631.1" y="165" width="13.8" height="4" fill="#e8e140"/><rect x="631.1" y="169" width="13.8" height="4" fill="#e8ca40"/><rect x="631.1" y="173" width="13.8" height="4" fill="#e8b038"/><rect x="631.1" y="177" width="13.8" height="4" fill="#e89730"/><rect x="631.1" y="181" width="13.8" height="4" fill="#e88730"/><rect x="631.1" y="185" width="13.8" height="4" fill="#e87728"/><rect x="631.1" y="189" width="13.8" height="5" fill="#e86720"/><rect x="631.1" y="194" width="13.8" height="4" fill="#ee5820"/><rect x="631.1" y="198" width="13.8" height="4" fill="#f04818"/><rect x="631.1" y="202" width="13.8" height="4" fill="#f83710"/><rect x="631.1" y="206" width="13.8" height="4" fill="#ff2710"/><rect x="631.1" y="210" width="13.8" height="4" fill="#ff2410"/><rect x="631.1" y="214" width="13.8" height="5" fill="#ff2010"/><rect x="631.1" y="219" width="13.8" height="3.8" fill="#ff2010"/></g>
<rect x="631.1" y="23" width="13.8" height="199.8" fill="none" stroke="#9a9a9a" stroke-width="0.8"/>
<line x1="644.9" y1="23" x2="647.9" y2="23" stroke="#444" stroke-width="0.9"/>
<text x="651.7" y="26" font-size="8.5" text-anchor="start" fill="#1a1a1a">-90.0</text>
<line x1="644.9" y1="41.16" x2="647.9" y2="41.16" stroke="#444" stroke-width="0.9"/>
<text x="651.7" y="44.16" font-size="8.5" text-anchor="start" fill="#1a1a1a">-80.0</text>
<line x1="644.9" y1="59.33" x2="647.9" y2="59.33" stroke="#444" stroke-width="0.9"/>
<text x="651.7" y="62.33" font-size="8.5" text-anchor="start" fill="#1a1a1a">-70.0</text>
<line x1="644.9" y1="77.49" x2="647.9" y2="77.49" stroke="#444" stroke-width="0.9"/>
<text x="651.7" y="80.49" font-size="8.5" text-anchor="start" fill="#1a1a1a">-60.0</text>
<line x1="644.9" y1="95.65" x2="647.9" y2="95.65" stroke="#444" stroke-width="0.9"/>
<text x="651.7" y="98.65" font-size="8.5" text-anchor="start" fill="#1a1a1a">-50.0</text>
<line x1="644.9" y1="113.82" x2="647.9" y2="113.82" stroke="#444" stroke-width="0.9"/>
<text x="651.7" y="116.82" font-size="8.5" text-anchor="start" fill="#1a1a1a">-40.0</text>
<line x1="644.9" y1="131.98" x2="647.9" y2="131.98" stroke="#444" stroke-width="0.9"/>
<text x="651.7" y="134.98" font-size="8.5" text-anchor="start" fill="#1a1a1a">-30.0</text>
<line x1="644.9" y1="150.15" x2="647.9" y2="150.15" stroke="#444" stroke-width="0.9"/>
<text x="651.7" y="153.15" font-size="8.5" text-anchor="start" fill="#1a1a1a">-20.0</text>
<line x1="644.9" y1="168.31" x2="647.9" y2="168.31" stroke="#444" stroke-width="0.9"/>
<text x="651.7" y="171.31" font-size="8.5" text-anchor="start" fill="#1a1a1a">-10.0</text>
<line x1="644.9" y1="186.47" x2="647.9" y2="186.47" stroke="#444" stroke-width="0.9"/>
<text x="651.7" y="189.47" font-size="8.5" text-anchor="start" fill="#1a1a1a">0.0</text>
<line x1="644.9" y1="204.64" x2="647.9" y2="204.64" stroke="#444" stroke-width="0.9"/>
<text x="651.7" y="207.64" font-size="8.5" text-anchor="start" fill="#1a1a1a">10.0</text>
<line x1="644.9" y1="222.8" x2="647.9" y2="222.8" stroke="#444" stroke-width="0.9"/>
<text x="651.7" y="225.8" font-size="8.5" text-anchor="start" fill="#1a1a1a">20.0</text>
<text x="603.2" y="15.3" font-size="10.2">phase angle <tspan font-size="8.2" dx="1.6">/ &#176;</tspan></text>
<defs><clipPath id="clipc"><rect x="52.6" y="273.5" width="267.9" height="214.8"/></clipPath></defs>
<g clip-path="url(#clipc)"><polyline points="52.6,291.04 53.5,291.66 54.39,292.29 55.29,292.93 56.18,293.58 57.08,294.24 57.98,294.91 58.87,295.59 59.77,296.28 60.66,296.97 61.56,297.67 62.46,298.38 63.35,299.09 64.25,299.81 65.14,300.53 66.04,301.26 66.94,302 67.83,302.73 68.73,303.47 69.62,304.22 70.52,304.97 71.42,305.72 72.31,306.47 73.21,307.23 74.1,307.98 75,308.74 75.9,309.51 76.79,310.27 77.69,311.04 78.58,311.8 79.48,312.57 80.38,313.34 81.27,314.11 82.17,314.89 83.06,315.66 83.96,316.43 84.86,317.21 85.75,317.99 86.65,318.76 87.54,319.54 88.44,320.32 89.34,321.1 90.23,321.87 91.13,322.65 92.02,323.43 92.92,324.22 93.82,325 94.71,325.78 95.61,326.56 96.5,327.34 97.4,328.12 98.3,328.91 99.19,329.69 100.09,330.47 100.98,331.26 101.88,332.04 102.78,332.82 103.67,333.61 104.57,334.39 105.46,335.17 106.36,335.96 107.26,336.74 108.15,337.53 109.05,338.31 109.94,339.1 110.84,339.88 111.74,340.67 112.63,341.45 113.53,342.24 114.42,343.02 115.32,343.81 116.22,344.59 117.11,345.38 118.01,346.16 118.9,346.95 119.8,347.74 120.69,348.52 121.59,349.31 122.49,350.09 123.38,350.88 124.28,351.66 125.17,352.45 126.07,353.24 126.97,354.02 127.86,354.81 128.76,355.59 129.65,356.38 130.55,357.17 131.45,357.95 132.34,358.74 133.24,359.53 134.13,360.31 135.03,361.1 135.93,361.88 136.82,362.67 137.72,363.46 138.61,364.24 139.51,365.03 140.41,365.82 141.3,366.6 142.2,367.39 143.09,368.17 143.99,368.96 144.89,369.75 145.78,370.53 146.68,371.32 147.57,372.11 148.47,372.89 149.37,373.68 150.26,374.47 151.16,375.25 152.05,376.04 152.95,376.82 153.85,377.61 154.74,378.4 155.64,379.18 156.53,379.97 157.43,380.76 158.33,381.54 159.22,382.33 160.12,383.12 161.01,383.9 161.91,384.69 162.81,385.47 163.7,386.26 164.6,387.05 165.49,387.83 166.39,388.62 167.29,389.41 168.18,390.19 169.08,390.98 169.97,391.76 170.87,392.55 171.77,393.34 172.66,394.12 173.56,394.91 174.45,395.7 175.35,396.48 176.25,397.27 177.14,398.05 178.04,398.84 178.93,399.63 179.83,400.41 180.73,401.2 181.62,401.98 182.52,402.77 183.41,403.55 184.31,404.34 185.21,405.13 186.1,405.91 187,406.7 187.89,407.48 188.79,408.27 189.69,409.05 190.58,409.84 191.48,410.62 192.37,411.41 193.27,412.19 194.17,412.98 195.06,413.76 195.96,414.55 196.85,415.33 197.75,416.12 198.65,416.9 199.54,417.68 200.44,418.47 201.33,419.25 202.23,420.03 203.13,420.82 204.02,421.6 204.92,422.38 205.81,423.17 206.71,423.95 207.61,424.73 208.5,425.51 209.4,426.29 210.29,427.07 211.19,427.85 212.09,428.63 212.98,429.41 213.88,430.19 214.77,430.97 215.67,431.75 216.57,432.53 217.46,433.3 218.36,434.08 219.25,434.85 220.15,435.63 221.05,436.4 221.94,437.17 222.84,437.95 223.73,438.72 224.63,439.48 225.53,440.25 226.42,441.02 227.32,441.78 228.21,442.54 229.11,443.3 230.01,444.06 230.9,444.82 231.8,445.57 232.69,446.32 233.59,447.07 234.49,447.81 235.38,448.55 236.28,449.29 237.17,450.02 238.07,450.75 238.97,451.48 239.86,452.19 240.76,452.91 241.65,453.61 242.55,454.31 243.45,455.01 244.34,455.69 245.24,456.37 246.13,457.04 247.03,457.7 247.93,458.35 248.82,458.99 249.72,459.62 250.61,460.23 251.51,460.84 252.41,461.43 253.3,462.01 254.2,462.57 255.09,463.12 255.99,463.65 256.88,464.17 257.78,464.67 258.68,465.15 259.57,465.62 260.47,466.07 261.36,466.5 262.26,466.91 263.16,467.3 264.05,467.68 264.95,468.04 265.84,468.38 266.74,468.7 267.64,469 268.53,469.29 269.43,469.56 270.32,469.82 271.22,470.06 272.12,470.28 273.01,470.49 273.91,470.69 274.8,470.87 275.7,471.05 276.6,471.21 277.49,471.35 278.39,471.49 279.28,471.62 280.18,471.74 281.08,471.85 281.97,471.95 282.87,472.04 283.76,472.13 284.66,472.21 285.56,472.29 286.45,472.35 287.35,472.42 288.24,472.48 289.14,472.53 290.04,472.58 290.93,472.63 291.83,472.67 292.72,472.71 293.62,472.75 294.52,472.78 295.41,472.81 296.31,472.84 297.2,472.87 298.1,472.89 299,472.91 299.89,472.93 300.79,472.95 301.68,472.97 302.58,472.99 303.48,473.01 304.37,473.02 305.27,473.03 306.16,473.05 307.06,473.06 307.96,473.07 308.85,473.08 309.75,473.09 310.64,473.1 311.54,473.1 312.44,473.11 313.33,473.12 314.23,473.13 315.12,473.13 316.02,473.14 316.92,473.14 317.81,473.15 318.71,473.15 319.6,473.16 320.5,473.16" fill="none" stroke="#440154" stroke-width="0.7" stroke-linejoin="round"/><polyline points="52.6,283.13 53.5,283.91 54.39,284.69 55.29,285.48 56.18,286.27 57.08,287.06 57.98,287.85 58.87,288.64 59.77,289.44 60.66,290.23 61.56,291.03 62.46,291.82 63.35,292.62 64.25,293.42 65.14,294.22 66.04,295.02 66.94,295.83 67.83,296.63 68.73,297.43 69.62,298.23 70.52,299.04 71.42,299.84 72.31,300.65 73.21,301.45 74.1,302.26 75,303.06 75.9,303.87 76.79,304.68 77.69,305.48 78.58,306.29 79.48,307.1 80.38,307.9 81.27,308.71 82.17,309.52 83.06,310.33 83.96,311.13 84.86,311.94 85.75,312.75 86.65,313.56 87.54,314.37 88.44,315.17 89.34,315.98 90.23,316.79 91.13,317.6 92.02,318.41 92.92,319.22 93.82,320.03 94.71,320.83 95.61,321.64 96.5,322.45 97.4,323.26 98.3,324.07 99.19,324.88 100.09,325.69 100.98,326.5 101.88,327.31 102.78,328.11 103.67,328.92 104.57,329.73 105.46,330.54 106.36,331.35 107.26,332.16 108.15,332.97 109.05,333.78 109.94,334.59 110.84,335.4 111.74,336.21 112.63,337.02 113.53,337.83 114.42,338.64 115.32,339.45 116.22,340.25 117.11,341.06 118.01,341.87 118.9,342.68 119.8,343.49 120.69,344.3 121.59,345.11 122.49,345.92 123.38,346.73 124.28,347.54 125.17,348.35 126.07,349.16 126.97,349.97 127.86,350.78 128.76,351.59 129.65,352.4 130.55,353.21 131.45,354.02 132.34,354.83 133.24,355.63 134.13,356.44 135.03,357.25 135.93,358.06 136.82,358.87 137.72,359.68 138.61,360.49 139.51,361.3 140.41,362.11 141.3,362.92 142.2,363.73 143.09,364.54 143.99,365.35 144.89,366.16 145.78,366.97 146.68,367.78 147.57,368.59 148.47,369.4 149.37,370.21 150.26,371.02 151.16,371.83 152.05,372.64 152.95,373.44 153.85,374.25 154.74,375.06 155.64,375.87 156.53,376.68 157.43,377.49 158.33,378.3 159.22,379.11 160.12,379.92 161.01,380.73 161.91,381.54 162.81,382.35 163.7,383.16 164.6,383.97 165.49,384.78 166.39,385.59 167.29,386.4 168.18,387.21 169.08,388.02 169.97,388.83 170.87,389.63 171.77,390.44 172.66,391.25 173.56,392.06 174.45,392.87 175.35,393.68 176.25,394.49 177.14,395.3 178.04,396.11 178.93,396.92 179.83,397.73 180.73,398.54 181.62,399.35 182.52,400.16 183.41,400.96 184.31,401.77 185.21,402.58 186.1,403.39 187,404.2 187.89,405.01 188.79,405.82 189.69,406.63 190.58,407.44 191.48,408.25 192.37,409.05 193.27,409.86 194.17,410.67 195.06,411.48 195.96,412.29 196.85,413.1 197.75,413.91 198.65,414.71 199.54,415.52 200.44,416.33 201.33,417.14 202.23,417.95 203.13,418.75 204.02,419.56 204.92,420.37 205.81,421.18 206.71,421.98 207.61,422.79 208.5,423.6 209.4,424.4 210.29,425.21 211.19,426.01 212.09,426.82 212.98,427.62 213.88,428.43 214.77,429.23 215.67,430.04 216.57,430.84 217.46,431.64 218.36,432.45 219.25,433.25 220.15,434.05 221.05,434.85 221.94,435.65 222.84,436.45 223.73,437.25 224.63,438.04 225.53,438.84 226.42,439.64 227.32,440.43 228.21,441.22 229.11,442.01 230.01,442.8 230.9,443.59 231.8,444.37 232.69,445.15 233.59,445.93 234.49,446.71 235.38,447.48 236.28,448.25 237.17,449.02 238.07,449.78 238.97,450.54 239.86,451.29 240.76,452.04 241.65,452.79 242.55,453.52 243.45,454.25 244.34,454.98 245.24,455.69 246.13,456.4 247.03,457.1 247.93,457.79 248.82,458.47 249.72,459.14 250.61,459.79 251.51,460.43 252.41,461.06 253.3,461.68 254.2,462.28 255.09,462.87 255.99,463.44 256.88,463.99 257.78,464.52 258.68,465.04 259.57,465.54 260.47,466.02 261.36,466.48 262.26,466.92 263.16,467.34 264.05,467.74 264.95,468.12 265.84,468.48 266.74,468.82 267.64,469.14 268.53,469.44 269.43,469.72 270.32,469.99 271.22,470.24 272.12,470.47 273.01,470.69 273.91,470.89 274.8,471.07 275.7,471.25 276.6,471.4 277.49,471.55 278.39,471.69 279.28,471.81 280.18,471.93 281.08,472.04 281.97,472.13 282.87,472.22 283.76,472.31 284.66,472.38 285.56,472.45 286.45,472.52 287.35,472.57 288.24,472.63 289.14,472.68 290.04,472.72 290.93,472.76 291.83,472.8 292.72,472.83 293.62,472.86 294.52,472.89 295.41,472.92 296.31,472.94 297.2,472.97 298.1,472.99 299,473 299.89,473.02 300.79,473.04 301.68,473.05 302.58,473.07 303.48,473.08 304.37,473.09 305.27,473.1 306.16,473.11 307.06,473.12 307.96,473.12 308.85,473.13 309.75,473.14 310.64,473.15 311.54,473.15 312.44,473.16 313.33,473.16 314.23,473.17 315.12,473.17 316.02,473.17 316.92,473.18 317.81,473.18 318.71,473.18 319.6,473.19 320.5,473.19" fill="none" stroke="#3e4a89" stroke-width="0.7" stroke-linejoin="round"/><polyline points="52.6,283.13 53.5,283.91 54.39,284.68 55.29,285.46 56.18,286.25 57.08,287.03 57.98,287.82 58.87,288.61 59.77,289.4 60.66,290.19 61.56,290.99 62.46,291.78 63.35,292.58 64.25,293.38 65.14,294.17 66.04,294.97 66.94,295.77 67.83,296.57 68.73,297.37 69.62,298.18 70.52,298.98 71.42,299.78 72.31,300.59 73.21,301.39 74.1,302.19 75,303 75.9,303.8 76.79,304.61 77.69,305.41 78.58,306.22 79.48,307.03 80.38,307.83 81.27,308.64 82.17,309.45 83.06,310.25 83.96,311.06 84.86,311.87 85.75,312.67 86.65,313.48 87.54,314.29 88.44,315.1 89.34,315.9 90.23,316.71 91.13,317.52 92.02,318.33 92.92,319.14 93.82,319.94 94.71,320.75 95.61,321.56 96.5,322.37 97.4,323.18 98.3,323.99 99.19,324.8 100.09,325.6 100.98,326.41 101.88,327.22 102.78,328.03 103.67,328.84 104.57,329.65 105.46,330.46 106.36,331.26 107.26,332.07 108.15,332.88 109.05,333.69 109.94,334.5 110.84,335.31 111.74,336.12 112.63,336.93 113.53,337.74 114.42,338.54 115.32,339.35 116.22,340.16 117.11,340.97 118.01,341.78 118.9,342.59 119.8,343.4 120.69,344.21 121.59,345.02 122.49,345.83 123.38,346.63 124.28,347.44 125.17,348.25 126.07,349.06 126.97,349.87 127.86,350.68 128.76,351.49 129.65,352.3 130.55,353.11 131.45,353.92 132.34,354.73 133.24,355.53 134.13,356.34 135.03,357.15 135.93,357.96 136.82,358.77 137.72,359.58 138.61,360.39 139.51,361.2 140.41,362.01 141.3,362.82 142.2,363.63 143.09,364.43 143.99,365.24 144.89,366.05 145.78,366.86 146.68,367.67 147.57,368.48 148.47,369.29 149.37,370.1 150.26,370.91 151.16,371.72 152.05,372.53 152.95,373.34 153.85,374.14 154.74,374.95 155.64,375.76 156.53,376.57 157.43,377.38 158.33,378.19 159.22,379 160.12,379.81 161.01,380.62 161.91,381.43 162.81,382.24 163.7,383.04 164.6,383.85 165.49,384.66 166.39,385.47 167.29,386.28 168.18,387.09 169.08,387.9 169.97,388.71 170.87,389.52 171.77,390.33 172.66,391.13 173.56,391.94 174.45,392.75 175.35,393.56 176.25,394.37 177.14,395.18 178.04,395.99 178.93,396.8 179.83,397.61 180.73,398.41 181.62,399.22 182.52,400.03 183.41,400.84 184.31,401.65 185.21,402.46 186.1,403.27 187,404.08 187.89,404.88 188.79,405.69 189.69,406.5 190.58,407.31 191.48,408.12 192.37,408.93 193.27,409.73 194.17,410.54 195.06,411.35 195.96,412.16 196.85,412.97 197.75,413.77 198.65,414.58 199.54,415.39 200.44,416.2 201.33,417.01 202.23,417.81 203.13,418.62 204.02,419.43 204.92,420.23 205.81,421.04 206.71,421.85 207.61,422.65 208.5,423.46 209.4,424.27 210.29,425.07 211.19,425.88 212.09,426.68 212.98,427.49 213.88,428.29 214.77,429.1 215.67,429.9 216.57,430.7 217.46,431.51 218.36,432.31 219.25,433.11 220.15,433.91 221.05,434.71 221.94,435.51 222.84,436.31 223.73,437.11 224.63,437.9 225.53,438.7 226.42,439.49 227.32,440.29 228.21,441.08 229.11,441.87 230.01,442.66 230.9,443.44 231.8,444.23 232.69,445.01 233.59,445.79 234.49,446.56 235.38,447.34 236.28,448.11 237.17,448.88 238.07,449.64 238.97,450.4 239.86,451.15 240.76,451.9 241.65,452.64 242.55,453.38 243.45,454.11 244.34,454.84 245.24,455.56 246.13,456.26 247.03,456.96 247.93,457.65 248.82,458.33 249.72,459 250.61,459.66 251.51,460.31 252.41,460.94 253.3,461.56 254.2,462.16 255.09,462.75 255.99,463.32 256.88,463.88 257.78,464.42 258.68,464.94 259.57,465.44 260.47,465.92 261.36,466.38 262.26,466.83 263.16,467.25 264.05,467.65 264.95,468.04 265.84,468.4 266.74,468.74 267.64,469.07 268.53,469.37 269.43,469.66 270.32,469.93 271.22,470.18 272.12,470.42 273.01,470.64 273.91,470.84 274.8,471.03 275.7,471.21 276.6,471.37 277.49,471.52 278.39,471.66 279.28,471.78 280.18,471.9 281.08,472.01 281.97,472.11 282.87,472.2 283.76,472.29 284.66,472.36 285.56,472.43 286.45,472.5 287.35,472.56 288.24,472.61 289.14,472.66 290.04,472.71 290.93,472.75 291.83,472.79 292.72,472.82 293.62,472.86 294.52,472.89 295.41,472.91 296.31,472.94 297.2,472.96 298.1,472.98 299,473 299.89,473.02 300.79,473.03 301.68,473.05 302.58,473.06 303.48,473.07 304.37,473.09 305.27,473.1 306.16,473.11 307.06,473.11 307.96,473.12 308.85,473.13 309.75,473.14 310.64,473.14 311.54,473.15 312.44,473.15 313.33,473.16 314.23,473.16 315.12,473.17 316.02,473.17 316.92,473.18 317.81,473.18 318.71,473.18 319.6,473.19 320.5,473.19" fill="none" stroke="#25858e" stroke-width="0.7" stroke-linejoin="round"/><polyline points="52.6,283.13 53.5,283.9 54.39,284.68 55.29,285.45 56.18,286.23 57.08,287.02 57.98,287.8 58.87,288.59 59.77,289.38 60.66,290.17 61.56,290.96 62.46,291.75 63.35,292.55 64.25,293.34 65.14,294.14 66.04,294.94 66.94,295.74 67.83,296.54 68.73,297.34 69.62,298.14 70.52,298.94 71.42,299.74 72.31,300.54 73.21,301.35 74.1,302.15 75,302.95 75.9,303.76 76.79,304.56 77.69,305.37 78.58,306.17 79.48,306.98 80.38,307.78 81.27,308.59 82.17,309.4 83.06,310.2 83.96,311.01 84.86,311.81 85.75,312.62 86.65,313.43 87.54,314.23 88.44,315.04 89.34,315.85 90.23,316.66 91.13,317.46 92.02,318.27 92.92,319.08 93.82,319.89 94.71,320.69 95.61,321.5 96.5,322.31 97.4,323.12 98.3,323.93 99.19,324.73 100.09,325.54 100.98,326.35 101.88,327.16 102.78,327.97 103.67,328.78 104.57,329.58 105.46,330.39 106.36,331.2 107.26,332.01 108.15,332.82 109.05,333.63 109.94,334.43 110.84,335.24 111.74,336.05 112.63,336.86 113.53,337.67 114.42,338.48 115.32,339.28 116.22,340.09 117.11,340.9 118.01,341.71 118.9,342.52 119.8,343.33 120.69,344.14 121.59,344.94 122.49,345.75 123.38,346.56 124.28,347.37 125.17,348.18 126.07,348.99 126.97,349.8 127.86,350.6 128.76,351.41 129.65,352.22 130.55,353.03 131.45,353.84 132.34,354.65 133.24,355.46 134.13,356.27 135.03,357.07 135.93,357.88 136.82,358.69 137.72,359.5 138.61,360.31 139.51,361.12 140.41,361.93 141.3,362.74 142.2,363.54 143.09,364.35 143.99,365.16 144.89,365.97 145.78,366.78 146.68,367.59 147.57,368.4 148.47,369.2 149.37,370.01 150.26,370.82 151.16,371.63 152.05,372.44 152.95,373.25 153.85,374.06 154.74,374.87 155.64,375.67 156.53,376.48 157.43,377.29 158.33,378.1 159.22,378.91 160.12,379.72 161.01,380.53 161.91,381.34 162.81,382.14 163.7,382.95 164.6,383.76 165.49,384.57 166.39,385.38 167.29,386.19 168.18,387 169.08,387.8 169.97,388.61 170.87,389.42 171.77,390.23 172.66,391.04 173.56,391.85 174.45,392.66 175.35,393.46 176.25,394.27 177.14,395.08 178.04,395.89 178.93,396.7 179.83,397.51 180.73,398.31 181.62,399.12 182.52,399.93 183.41,400.74 184.31,401.55 185.21,402.36 186.1,403.16 187,403.97 187.89,404.78 188.79,405.59 189.69,406.4 190.58,407.2 191.48,408.01 192.37,408.82 193.27,409.63 194.17,410.44 195.06,411.24 195.96,412.05 196.85,412.86 197.75,413.67 198.65,414.47 199.54,415.28 200.44,416.09 201.33,416.9 202.23,417.7 203.13,418.51 204.02,419.32 204.92,420.12 205.81,420.93 206.71,421.74 207.61,422.54 208.5,423.35 209.4,424.15 210.29,424.96 211.19,425.76 212.09,426.57 212.98,427.37 213.88,428.18 214.77,428.98 215.67,429.78 216.57,430.59 217.46,431.39 218.36,432.19 219.25,432.99 220.15,433.79 221.05,434.59 221.94,435.39 222.84,436.19 223.73,436.99 224.63,437.78 225.53,438.58 226.42,439.37 227.32,440.17 228.21,440.96 229.11,441.75 230.01,442.53 230.9,443.32 231.8,444.1 232.69,444.89 233.59,445.67 234.49,446.44 235.38,447.22 236.28,447.99 237.17,448.75 238.07,449.52 238.97,450.28 239.86,451.03 240.76,451.78 241.65,452.52 242.55,453.26 243.45,453.99 244.34,454.72 245.24,455.44 246.13,456.15 247.03,456.85 247.93,457.54 248.82,458.22 249.72,458.89 250.61,459.55 251.51,460.2 252.41,460.83 253.3,461.45 254.2,462.06 255.09,462.65 255.99,463.22 256.88,463.78 257.78,464.32 258.68,464.84 259.57,465.35 260.47,465.83 261.36,466.3 262.26,466.75 263.16,467.17 264.05,467.58 264.95,467.97 265.84,468.33 266.74,468.68 267.64,469.01 268.53,469.32 269.43,469.61 270.32,469.88 271.22,470.13 272.12,470.37 273.01,470.59 273.91,470.8 274.8,470.99 275.7,471.17 276.6,471.34 277.49,471.49 278.39,471.63 279.28,471.76 280.18,471.88 281.08,471.99 281.97,472.09 282.87,472.18 283.76,472.27 284.66,472.35 285.56,472.42 286.45,472.48 287.35,472.55 288.24,472.6 289.14,472.65 290.04,472.7 290.93,472.74 291.83,472.78 292.72,472.82 293.62,472.85 294.52,472.88 295.41,472.91 296.31,472.93 297.2,472.95 298.1,472.98 299,472.99 299.89,473.01 300.79,473.03 301.68,473.04 302.58,473.06 303.48,473.07 304.37,473.08 305.27,473.09 306.16,473.1 307.06,473.11 307.96,473.12 308.85,473.13 309.75,473.13 310.64,473.14 311.54,473.15 312.44,473.15 313.33,473.16 314.23,473.16 315.12,473.17 316.02,473.17 316.92,473.18 317.81,473.18 318.71,473.18 319.6,473.19 320.5,473.19" fill="none" stroke="#3dbc74" stroke-width="0.7" stroke-linejoin="round"/><polyline points="52.6,283.09 53.5,283.86 54.39,284.63 55.29,285.4 56.18,286.18 57.08,286.96 57.98,287.74 58.87,288.52 59.77,289.3 60.66,290.09 61.56,290.88 62.46,291.67 63.35,292.46 64.25,293.26 65.14,294.05 66.04,294.85 66.94,295.64 67.83,296.44 68.73,297.24 69.62,298.04 70.52,298.84 71.42,299.64 72.31,300.44 73.21,301.24 74.1,302.04 75,302.84 75.9,303.65 76.79,304.45 77.69,305.25 78.58,306.06 79.48,306.86 80.38,307.66 81.27,308.47 82.17,309.27 83.06,310.08 83.96,310.88 84.86,311.69 85.75,312.5 86.65,313.3 87.54,314.11 88.44,314.91 89.34,315.72 90.23,316.53 91.13,317.33 92.02,318.14 92.92,318.95 93.82,319.75 94.71,320.56 95.61,321.37 96.5,322.17 97.4,322.98 98.3,323.79 99.19,324.59 100.09,325.4 100.98,326.21 101.88,327.02 102.78,327.82 103.67,328.63 104.57,329.44 105.46,330.24 106.36,331.05 107.26,331.86 108.15,332.67 109.05,333.47 109.94,334.28 110.84,335.09 111.74,335.9 112.63,336.7 113.53,337.51 114.42,338.32 115.32,339.13 116.22,339.94 117.11,340.74 118.01,341.55 118.9,342.36 119.8,343.17 120.69,343.97 121.59,344.78 122.49,345.59 123.38,346.4 124.28,347.2 125.17,348.01 126.07,348.82 126.97,349.63 127.86,350.44 128.76,351.24 129.65,352.05 130.55,352.86 131.45,353.67 132.34,354.48 133.24,355.28 134.13,356.09 135.03,356.9 135.93,357.71 136.82,358.51 137.72,359.32 138.61,360.13 139.51,360.94 140.41,361.75 141.3,362.55 142.2,363.36 143.09,364.17 143.99,364.98 144.89,365.78 145.78,366.59 146.68,367.4 147.57,368.21 148.47,369.02 149.37,369.82 150.26,370.63 151.16,371.44 152.05,372.25 152.95,373.06 153.85,373.86 154.74,374.67 155.64,375.48 156.53,376.29 157.43,377.09 158.33,377.9 159.22,378.71 160.12,379.52 161.01,380.33 161.91,381.13 162.81,381.94 163.7,382.75 164.6,383.56 165.49,384.37 166.39,385.17 167.29,385.98 168.18,386.79 169.08,387.6 169.97,388.4 170.87,389.21 171.77,390.02 172.66,390.83 173.56,391.63 174.45,392.44 175.35,393.25 176.25,394.06 177.14,394.87 178.04,395.67 178.93,396.48 179.83,397.29 180.73,398.1 181.62,398.9 182.52,399.71 183.41,400.52 184.31,401.33 185.21,402.13 186.1,402.94 187,403.75 187.89,404.56 188.79,405.36 189.69,406.17 190.58,406.98 191.48,407.78 192.37,408.59 193.27,409.4 194.17,410.2 195.06,411.01 195.96,411.82 196.85,412.63 197.75,413.43 198.65,414.24 199.54,415.05 200.44,415.85 201.33,416.66 202.23,417.46 203.13,418.27 204.02,419.08 204.92,419.88 205.81,420.69 206.71,421.49 207.61,422.3 208.5,423.1 209.4,423.91 210.29,424.71 211.19,425.52 212.09,426.32 212.98,427.12 213.88,427.93 214.77,428.73 215.67,429.53 216.57,430.33 217.46,431.14 218.36,431.94 219.25,432.74 220.15,433.54 221.05,434.34 221.94,435.13 222.84,435.93 223.73,436.73 224.63,437.52 225.53,438.32 226.42,439.11 227.32,439.91 228.21,440.7 229.11,441.49 230.01,442.27 230.9,443.06 231.8,443.84 232.69,444.62 233.59,445.4 234.49,446.18 235.38,446.95 236.28,447.72 237.17,448.49 238.07,449.26 238.97,450.01 239.86,450.77 240.76,451.52 241.65,452.27 242.55,453 243.45,453.74 244.34,454.46 245.24,455.18 246.13,455.89 247.03,456.6 247.93,457.29 248.82,457.98 249.72,458.65 250.61,459.31 251.51,459.96 252.41,460.6 253.3,461.22 254.2,461.83 255.09,462.43 255.99,463.01 256.88,463.57 257.78,464.12 258.68,464.65 259.57,465.16 260.47,465.65 261.36,466.12 262.26,466.57 263.16,467.01 264.05,467.42 264.95,467.81 265.84,468.19 266.74,468.54 267.64,468.88 268.53,469.19 269.43,469.49 270.32,469.77 271.22,470.03 272.12,470.27 273.01,470.5 273.91,470.71 274.8,470.91 275.7,471.1 276.6,471.27 277.49,471.42 278.39,471.57 279.28,471.7 280.18,471.83 281.08,471.94 281.97,472.04 282.87,472.14 283.76,472.23 284.66,472.31 285.56,472.38 286.45,472.45 287.35,472.52 288.24,472.57 289.14,472.63 290.04,472.67 290.93,472.72 291.83,472.76 292.72,472.8 293.62,472.83 294.52,472.86 295.41,472.89 296.31,472.92 297.2,472.94 298.1,472.96 299,472.98 299.89,473 300.79,473.02 301.68,473.03 302.58,473.05 303.48,473.06 304.37,473.07 305.27,473.09 306.16,473.1 307.06,473.11 307.96,473.11 308.85,473.12 309.75,473.13 310.64,473.14 311.54,473.14 312.44,473.15 313.33,473.15 314.23,473.16 315.12,473.16 316.02,473.17 316.92,473.17 317.81,473.18 318.71,473.18 319.6,473.18 320.5,473.19" fill="none" stroke="#bddf26" stroke-width="0.7" stroke-linejoin="round"/><path d="M51.4 288.77L53.8 291.17M51.4 291.17L53.8 288.77" stroke="#440154" stroke-width="1.0"/><path d="M55.23 292.56L57.63 294.96M55.23 294.96L57.63 292.56" stroke="#440154" stroke-width="1.0"/><path d="M59.05 295.45L61.45 297.85M59.05 297.85L61.45 295.45" stroke="#440154" stroke-width="1.0"/><path d="M62.88 298.48L65.28 300.88M62.88 300.88L65.28 298.48" stroke="#440154" stroke-width="1.0"/><path d="M66.71 301.6L69.11 304M66.71 304L69.11 301.6" stroke="#440154" stroke-width="1.0"/><path d="M70.54 304.79L72.94 307.19M70.54 307.19L72.94 304.79" stroke="#440154" stroke-width="1.0"/><path d="M74.36 308.02L76.76 310.42M74.36 310.42L76.76 308.02" stroke="#440154" stroke-width="1.0"/><path d="M78.19 311.3L80.59 313.7M78.19 313.7L80.59 311.3" stroke="#440154" stroke-width="1.0"/><path d="M82.02 314.59L84.42 316.99M82.02 316.99L84.42 314.59" stroke="#440154" stroke-width="1.0"/><path d="M85.84 317.91L88.24 320.31M85.84 320.31L88.24 317.91" stroke="#440154" stroke-width="1.0"/><path d="M89.67 321.23L92.07 323.63M89.67 323.63L92.07 321.23" stroke="#440154" stroke-width="1.0"/><path d="M93.5 324.57L95.9 326.97M93.5 326.97L95.9 324.57" stroke="#440154" stroke-width="1.0"/><path d="M97.33 327.91L99.73 330.31M97.33 330.31L99.73 327.91" stroke="#440154" stroke-width="1.0"/><path d="M101.15 331.25L103.55 333.65M101.15 333.65L103.55 331.25" stroke="#440154" stroke-width="1.0"/><path d="M104.98 334.6L107.38 337M104.98 337L107.38 334.6" stroke="#440154" stroke-width="1.0"/><path d="M108.81 337.95L111.21 340.35M108.81 340.35L111.21 337.95" stroke="#440154" stroke-width="1.0"/><path d="M112.63 341.31L115.03 343.71M112.63 343.71L115.03 341.31" stroke="#440154" stroke-width="1.0"/><path d="M116.46 344.66L118.86 347.06M116.46 347.06L118.86 344.66" stroke="#440154" stroke-width="1.0"/><path d="M120.29 348.02L122.69 350.42M120.29 350.42L122.69 348.02" stroke="#440154" stroke-width="1.0"/><path d="M124.12 351.37L126.52 353.77M124.12 353.77L126.52 351.37" stroke="#440154" stroke-width="1.0"/><path d="M127.94 354.73L130.34 357.13M127.94 357.13L130.34 354.73" stroke="#440154" stroke-width="1.0"/><path d="M131.77 358.09L134.17 360.49M131.77 360.49L134.17 358.09" stroke="#440154" stroke-width="1.0"/><path d="M135.6 361.45L138 363.85M135.6 363.85L138 361.45" stroke="#440154" stroke-width="1.0"/><path d="M139.42 364.81L141.82 367.21M139.42 367.21L141.82 364.81" stroke="#440154" stroke-width="1.0"/><path d="M143.25 368.17L145.65 370.57M143.25 370.57L145.65 368.17" stroke="#440154" stroke-width="1.0"/><path d="M147.08 371.52L149.48 373.92M147.08 373.92L149.48 371.52" stroke="#440154" stroke-width="1.0"/><path d="M150.91 374.88L153.31 377.28M150.91 377.28L153.31 374.88" stroke="#440154" stroke-width="1.0"/><path d="M154.73 378.24L157.13 380.64M154.73 380.64L157.13 378.24" stroke="#440154" stroke-width="1.0"/><path d="M158.56 381.6L160.96 384M158.56 384L160.96 381.6" stroke="#440154" stroke-width="1.0"/><path d="M162.39 384.96L164.79 387.36M162.39 387.36L164.79 384.96" stroke="#440154" stroke-width="1.0"/><path d="M166.21 388.32L168.61 390.72M166.21 390.72L168.61 388.32" stroke="#440154" stroke-width="1.0"/><path d="M170.04 391.68L172.44 394.08M170.04 394.08L172.44 391.68" stroke="#440154" stroke-width="1.0"/><path d="M173.87 395.03L176.27 397.43M173.87 397.43L176.27 395.03" stroke="#440154" stroke-width="1.0"/><path d="M177.7 398.39L180.1 400.79M177.7 400.79L180.1 398.39" stroke="#440154" stroke-width="1.0"/><path d="M181.52 401.75L183.92 404.15M181.52 404.15L183.92 401.75" stroke="#440154" stroke-width="1.0"/><path d="M185.35 405.1L187.75 407.5M185.35 407.5L187.75 405.1" stroke="#440154" stroke-width="1.0"/><path d="M189.18 408.46L191.58 410.86M189.18 410.86L191.58 408.46" stroke="#440154" stroke-width="1.0"/><path d="M193 411.81L195.4 414.21M193 414.21L195.4 411.81" stroke="#440154" stroke-width="1.0"/><path d="M196.83 415.16L199.23 417.56M196.83 417.56L199.23 415.16" stroke="#440154" stroke-width="1.0"/><path d="M200.66 418.51L203.06 420.91M200.66 420.91L203.06 418.51" stroke="#440154" stroke-width="1.0"/><path d="M204.49 421.85L206.89 424.25M204.49 424.25L206.89 421.85" stroke="#440154" stroke-width="1.0"/><path d="M208.31 425.19L210.71 427.59M208.31 427.59L210.71 425.19" stroke="#440154" stroke-width="1.0"/><path d="M212.14 428.53L214.54 430.93M212.14 430.93L214.54 428.53" stroke="#440154" stroke-width="1.0"/><path d="M215.97 431.85L218.37 434.25M215.97 434.25L218.37 431.85" stroke="#440154" stroke-width="1.0"/><path d="M219.79 435.16L222.19 437.56M219.79 437.56L222.19 435.16" stroke="#440154" stroke-width="1.0"/><path d="M223.62 438.45L226.02 440.85M223.62 440.85L226.02 438.45" stroke="#440154" stroke-width="1.0"/><path d="M227.45 441.72L229.85 444.12M227.45 444.12L229.85 441.72" stroke="#440154" stroke-width="1.0"/><path d="M231.28 444.94L233.68 447.34M231.28 447.34L233.68 444.94" stroke="#440154" stroke-width="1.0"/><path d="M235.1 448.12L237.5 450.52M235.1 450.52L237.5 448.12" stroke="#440154" stroke-width="1.0"/><path d="M238.93 451.22L241.33 453.62M238.93 453.62L241.33 451.22" stroke="#440154" stroke-width="1.0"/><path d="M242.76 454.21L245.16 456.61M242.76 456.61L245.16 454.21" stroke="#440154" stroke-width="1.0"/><path d="M246.58 457.07L248.98 459.47M246.58 459.47L248.98 457.07" stroke="#440154" stroke-width="1.0"/><path d="M250.41 459.73L252.81 462.13M250.41 462.13L252.81 459.73" stroke="#440154" stroke-width="1.0"/><path d="M254.24 462.16L256.64 464.56M254.24 464.56L256.64 462.16" stroke="#440154" stroke-width="1.0"/><path d="M258.07 464.31L260.47 466.71M258.07 466.71L260.47 464.31" stroke="#440154" stroke-width="1.0"/><path d="M261.89 466.13L264.29 468.53M261.89 468.53L264.29 466.13" stroke="#440154" stroke-width="1.0"/><path d="M265.72 467.63L268.12 470.03M265.72 470.03L268.12 467.63" stroke="#440154" stroke-width="1.0"/><path d="M269.55 468.82L271.95 471.22M269.55 471.22L271.95 468.82" stroke="#440154" stroke-width="1.0"/><path d="M273.37 469.73L275.77 472.13M273.37 472.13L275.77 469.73" stroke="#440154" stroke-width="1.0"/><path d="M277.2 470.4L279.6 472.8M277.2 472.8L279.6 470.4" stroke="#440154" stroke-width="1.0"/><path d="M281.03 470.89L283.43 473.29M281.03 473.29L283.43 470.89" stroke="#440154" stroke-width="1.0"/><path d="M284.86 471.24L287.26 473.64M284.86 473.64L287.26 471.24" stroke="#440154" stroke-width="1.0"/><path d="M288.68 471.49L291.08 473.89M288.68 473.89L291.08 471.49" stroke="#440154" stroke-width="1.0"/><path d="M292.51 471.66L294.91 474.06M292.51 474.06L294.91 471.66" stroke="#440154" stroke-width="1.0"/><path d="M296.34 471.78L298.74 474.18M296.34 474.18L298.74 471.78" stroke="#440154" stroke-width="1.0"/><path d="M300.16 471.86L302.56 474.26M300.16 474.26L302.56 471.86" stroke="#440154" stroke-width="1.0"/><path d="M303.99 471.89L306.39 474.29M303.99 474.29L306.39 471.89" stroke="#440154" stroke-width="1.0"/><path d="M307.82 471.89L310.22 474.29M307.82 474.29L310.22 471.89" stroke="#440154" stroke-width="1.0"/><path d="M311.65 471.85L314.05 474.25M311.65 474.25L314.05 471.85" stroke="#440154" stroke-width="1.0"/><path d="M315.47 471.75L317.87 474.15M315.47 474.15L317.87 471.75" stroke="#440154" stroke-width="1.0"/><path d="M319.3 471.58L321.7 473.98M319.3 473.98L321.7 471.58" stroke="#440154" stroke-width="1.0"/><path d="M51.4 281.93L53.8 284.33M51.4 284.33L53.8 281.93" stroke="#3e4a89" stroke-width="1.0"/><path d="M55.23 285.28L57.63 287.68M55.23 287.68L57.63 285.28" stroke="#3e4a89" stroke-width="1.0"/><path d="M59.05 288.67L61.45 291.07M59.05 291.07L61.45 288.67" stroke="#3e4a89" stroke-width="1.0"/><path d="M62.88 292.07L65.28 294.47M62.88 294.47L65.28 292.07" stroke="#3e4a89" stroke-width="1.0"/><path d="M66.71 295.5L69.11 297.9M66.71 297.9L69.11 295.5" stroke="#3e4a89" stroke-width="1.0"/><path d="M70.54 298.93L72.94 301.33M70.54 301.33L72.94 298.93" stroke="#3e4a89" stroke-width="1.0"/><path d="M74.36 302.37L76.76 304.77M74.36 304.77L76.76 302.37" stroke="#3e4a89" stroke-width="1.0"/><path d="M78.19 305.82L80.59 308.22M78.19 308.22L80.59 305.82" stroke="#3e4a89" stroke-width="1.0"/><path d="M82.02 309.26L84.42 311.66M82.02 311.66L84.42 309.26" stroke="#3e4a89" stroke-width="1.0"/><path d="M85.84 312.72L88.24 315.12M85.84 315.12L88.24 312.72" stroke="#3e4a89" stroke-width="1.0"/><path d="M89.67 316.17L92.07 318.57M89.67 318.57L92.07 316.17" stroke="#3e4a89" stroke-width="1.0"/><path d="M93.5 319.62L95.9 322.02M93.5 322.02L95.9 319.62" stroke="#3e4a89" stroke-width="1.0"/><path d="M97.33 323.08L99.73 325.48M97.33 325.48L99.73 323.08" stroke="#3e4a89" stroke-width="1.0"/><path d="M101.15 326.53L103.55 328.93M101.15 328.93L103.55 326.53" stroke="#3e4a89" stroke-width="1.0"/><path d="M104.98 329.99L107.38 332.39M104.98 332.39L107.38 329.99" stroke="#3e4a89" stroke-width="1.0"/><path d="M108.81 333.45L111.21 335.85M108.81 335.85L111.21 333.45" stroke="#3e4a89" stroke-width="1.0"/><path d="M112.63 336.9L115.03 339.3M112.63 339.3L115.03 336.9" stroke="#3e4a89" stroke-width="1.0"/><path d="M116.46 340.36L118.86 342.76M116.46 342.76L118.86 340.36" stroke="#3e4a89" stroke-width="1.0"/><path d="M120.29 343.82L122.69 346.22M120.29 346.22L122.69 343.82" stroke="#3e4a89" stroke-width="1.0"/><path d="M124.12 347.28L126.52 349.68M124.12 349.68L126.52 347.28" stroke="#3e4a89" stroke-width="1.0"/><path d="M127.94 350.73L130.34 353.13M127.94 353.13L130.34 350.73" stroke="#3e4a89" stroke-width="1.0"/><path d="M131.77 354.19L134.17 356.59M131.77 356.59L134.17 354.19" stroke="#3e4a89" stroke-width="1.0"/><path d="M135.6 357.65L138 360.05M135.6 360.05L138 357.65" stroke="#3e4a89" stroke-width="1.0"/><path d="M139.42 361.11L141.82 363.51M139.42 363.51L141.82 361.11" stroke="#3e4a89" stroke-width="1.0"/><path d="M143.25 364.57L145.65 366.97M143.25 366.97L145.65 364.57" stroke="#3e4a89" stroke-width="1.0"/><path d="M147.08 368.02L149.48 370.42M147.08 370.42L149.48 368.02" stroke="#3e4a89" stroke-width="1.0"/><path d="M150.91 371.48L153.31 373.88M150.91 373.88L153.31 371.48" stroke="#3e4a89" stroke-width="1.0"/><path d="M154.73 374.94L157.13 377.34M154.73 377.34L157.13 374.94" stroke="#3e4a89" stroke-width="1.0"/><path d="M158.56 378.4L160.96 380.8M158.56 380.8L160.96 378.4" stroke="#3e4a89" stroke-width="1.0"/><path d="M162.39 381.86L164.79 384.26M162.39 384.26L164.79 381.86" stroke="#3e4a89" stroke-width="1.0"/><path d="M166.21 385.31L168.61 387.71M166.21 387.71L168.61 385.31" stroke="#3e4a89" stroke-width="1.0"/><path d="M170.04 388.77L172.44 391.17M170.04 391.17L172.44 388.77" stroke="#3e4a89" stroke-width="1.0"/><path d="M173.87 392.23L176.27 394.63M173.87 394.63L176.27 392.23" stroke="#3e4a89" stroke-width="1.0"/><path d="M177.7 395.68L180.1 398.08M177.7 398.08L180.1 395.68" stroke="#3e4a89" stroke-width="1.0"/><path d="M181.52 399.14L183.92 401.54M181.52 401.54L183.92 399.14" stroke="#3e4a89" stroke-width="1.0"/><path d="M185.35 402.6L187.75 405M185.35 405L187.75 402.6" stroke="#3e4a89" stroke-width="1.0"/><path d="M189.18 406.05L191.58 408.45M189.18 408.45L191.58 406.05" stroke="#3e4a89" stroke-width="1.0"/><path d="M193 409.51L195.4 411.91M193 411.91L195.4 409.51" stroke="#3e4a89" stroke-width="1.0"/><path d="M196.83 412.96L199.23 415.36M196.83 415.36L199.23 412.96" stroke="#3e4a89" stroke-width="1.0"/><path d="M200.66 416.41L203.06 418.81M200.66 418.81L203.06 416.41" stroke="#3e4a89" stroke-width="1.0"/><path d="M204.49 419.86L206.89 422.26M204.49 422.26L206.89 419.86" stroke="#3e4a89" stroke-width="1.0"/><path d="M208.31 423.31L210.71 425.71M208.31 425.71L210.71 423.31" stroke="#3e4a89" stroke-width="1.0"/><path d="M212.14 426.75L214.54 429.15M212.14 429.15L214.54 426.75" stroke="#3e4a89" stroke-width="1.0"/><path d="M215.97 430.18L218.37 432.58M215.97 432.58L218.37 430.18" stroke="#3e4a89" stroke-width="1.0"/><path d="M219.79 433.61L222.19 436.01M219.79 436.01L222.19 433.61" stroke="#3e4a89" stroke-width="1.0"/><path d="M223.62 437.02L226.02 439.42M223.62 439.42L226.02 437.02" stroke="#3e4a89" stroke-width="1.0"/><path d="M227.45 440.41L229.85 442.81M227.45 442.81L229.85 440.41" stroke="#3e4a89" stroke-width="1.0"/><path d="M231.28 443.77L233.68 446.17M231.28 446.17L233.68 443.77" stroke="#3e4a89" stroke-width="1.0"/><path d="M235.1 447.08L237.5 449.48M235.1 449.48L237.5 447.08" stroke="#3e4a89" stroke-width="1.0"/><path d="M238.93 450.33L241.33 452.73M238.93 452.73L241.33 450.33" stroke="#3e4a89" stroke-width="1.0"/><path d="M242.76 453.48L245.16 455.88M242.76 455.88L245.16 453.48" stroke="#3e4a89" stroke-width="1.0"/><path d="M246.58 456.5L248.98 458.9M246.58 458.9L248.98 456.5" stroke="#3e4a89" stroke-width="1.0"/><path d="M250.41 459.33L252.81 461.73M250.41 461.73L252.81 459.33" stroke="#3e4a89" stroke-width="1.0"/><path d="M254.24 461.92L256.64 464.32M254.24 464.32L256.64 461.92" stroke="#3e4a89" stroke-width="1.0"/><path d="M258.07 464.22L260.47 466.62M258.07 466.62L260.47 464.22" stroke="#3e4a89" stroke-width="1.0"/><path d="M261.89 466.17L264.29 468.57M261.89 468.57L264.29 466.17" stroke="#3e4a89" stroke-width="1.0"/><path d="M265.72 467.76L268.12 470.16M265.72 470.16L268.12 467.76" stroke="#3e4a89" stroke-width="1.0"/><path d="M269.55 469L271.95 471.4M269.55 471.4L271.95 469" stroke="#3e4a89" stroke-width="1.0"/><path d="M273.37 469.93L275.77 472.33M273.37 472.33L275.77 469.93" stroke="#3e4a89" stroke-width="1.0"/><path d="M277.2 470.6L279.6 473M277.2 473L279.6 470.6" stroke="#3e4a89" stroke-width="1.0"/><path d="M281.03 471.08L283.43 473.48M281.03 473.48L283.43 471.08" stroke="#3e4a89" stroke-width="1.0"/><path d="M284.86 471.41L287.26 473.81M284.86 473.81L287.26 471.41" stroke="#3e4a89" stroke-width="1.0"/><path d="M288.68 471.63L291.08 474.03M288.68 474.03L291.08 471.63" stroke="#3e4a89" stroke-width="1.0"/><path d="M292.51 471.78L294.91 474.18M292.51 474.18L294.91 471.78" stroke="#3e4a89" stroke-width="1.0"/><path d="M296.34 471.88L298.74 474.28M296.34 474.28L298.74 471.88" stroke="#3e4a89" stroke-width="1.0"/><path d="M300.16 471.93L302.56 474.33M300.16 474.33L302.56 471.93" stroke="#3e4a89" stroke-width="1.0"/><path d="M303.99 471.95L306.39 474.35M303.99 474.35L306.39 471.95" stroke="#3e4a89" stroke-width="1.0"/><path d="M307.82 471.94L310.22 474.34M307.82 474.34L310.22 471.94" stroke="#3e4a89" stroke-width="1.0"/><path d="M311.65 471.89L314.05 474.29M311.65 474.29L314.05 471.89" stroke="#3e4a89" stroke-width="1.0"/><path d="M315.47 471.78L317.87 474.18M315.47 474.18L317.87 471.78" stroke="#3e4a89" stroke-width="1.0"/><path d="M319.3 471.6L321.7 474M319.3 474L321.7 471.6" stroke="#3e4a89" stroke-width="1.0"/><path d="M51.4 281.93L53.8 284.33M51.4 284.33L53.8 281.93" stroke="#25858e" stroke-width="1.0"/><path d="M55.23 285.26L57.63 287.66M55.23 287.66L57.63 285.26" stroke="#25858e" stroke-width="1.0"/><path d="M59.05 288.63L61.45 291.03M59.05 291.03L61.45 288.63" stroke="#25858e" stroke-width="1.0"/><path d="M62.88 292.03L65.28 294.43M62.88 294.43L65.28 292.03" stroke="#25858e" stroke-width="1.0"/><path d="M66.71 295.44L69.11 297.84M66.71 297.84L69.11 295.44" stroke="#25858e" stroke-width="1.0"/><path d="M70.54 298.87L72.94 301.27M70.54 301.27L72.94 298.87" stroke="#25858e" stroke-width="1.0"/><path d="M74.36 302.3L76.76 304.7M74.36 304.7L76.76 302.3" stroke="#25858e" stroke-width="1.0"/><path d="M78.19 305.75L80.59 308.15M78.19 308.15L80.59 305.75" stroke="#25858e" stroke-width="1.0"/><path d="M82.02 309.19L84.42 311.59M82.02 311.59L84.42 309.19" stroke="#25858e" stroke-width="1.0"/><path d="M85.84 312.64L88.24 315.04M85.84 315.04L88.24 312.64" stroke="#25858e" stroke-width="1.0"/><path d="M89.67 316.09L92.07 318.49M89.67 318.49L92.07 316.09" stroke="#25858e" stroke-width="1.0"/><path d="M93.5 319.54L95.9 321.94M93.5 321.94L95.9 319.54" stroke="#25858e" stroke-width="1.0"/><path d="M97.33 322.99L99.73 325.39M97.33 325.39L99.73 322.99" stroke="#25858e" stroke-width="1.0"/><path d="M101.15 326.45L103.55 328.85M101.15 328.85L103.55 326.45" stroke="#25858e" stroke-width="1.0"/><path d="M104.98 329.9L107.38 332.3M104.98 332.3L107.38 329.9" stroke="#25858e" stroke-width="1.0"/><path d="M108.81 333.36L111.21 335.76M108.81 335.76L111.21 333.36" stroke="#25858e" stroke-width="1.0"/><path d="M112.63 336.81L115.03 339.21M112.63 339.21L115.03 336.81" stroke="#25858e" stroke-width="1.0"/><path d="M116.46 340.27L118.86 342.67M116.46 342.67L118.86 340.27" stroke="#25858e" stroke-width="1.0"/><path d="M120.29 343.72L122.69 346.12M120.29 346.12L122.69 343.72" stroke="#25858e" stroke-width="1.0"/><path d="M124.12 347.18L126.52 349.58M124.12 349.58L126.52 347.18" stroke="#25858e" stroke-width="1.0"/><path d="M127.94 350.64L130.34 353.04M127.94 353.04L130.34 350.64" stroke="#25858e" stroke-width="1.0"/><path d="M131.77 354.09L134.17 356.49M131.77 356.49L134.17 354.09" stroke="#25858e" stroke-width="1.0"/><path d="M135.6 357.55L138 359.95M135.6 359.95L138 357.55" stroke="#25858e" stroke-width="1.0"/><path d="M139.42 361L141.82 363.4M139.42 363.4L141.82 361" stroke="#25858e" stroke-width="1.0"/><path d="M143.25 364.46L145.65 366.86M143.25 366.86L145.65 364.46" stroke="#25858e" stroke-width="1.0"/><path d="M147.08 367.92L149.48 370.32M147.08 370.32L149.48 367.92" stroke="#25858e" stroke-width="1.0"/><path d="M150.91 371.37L153.31 373.77M150.91 373.77L153.31 371.37" stroke="#25858e" stroke-width="1.0"/><path d="M154.73 374.83L157.13 377.23M154.73 377.23L157.13 374.83" stroke="#25858e" stroke-width="1.0"/><path d="M158.56 378.28L160.96 380.68M158.56 380.68L160.96 378.28" stroke="#25858e" stroke-width="1.0"/><path d="M162.39 381.74L164.79 384.14M162.39 384.14L164.79 381.74" stroke="#25858e" stroke-width="1.0"/><path d="M166.21 385.2L168.61 387.6M166.21 387.6L168.61 385.2" stroke="#25858e" stroke-width="1.0"/><path d="M170.04 388.65L172.44 391.05M170.04 391.05L172.44 388.65" stroke="#25858e" stroke-width="1.0"/><path d="M173.87 392.11L176.27 394.51M173.87 394.51L176.27 392.11" stroke="#25858e" stroke-width="1.0"/><path d="M177.7 395.56L180.1 397.96M177.7 397.96L180.1 395.56" stroke="#25858e" stroke-width="1.0"/><path d="M181.52 399.02L183.92 401.42M181.52 401.42L183.92 399.02" stroke="#25858e" stroke-width="1.0"/><path d="M185.35 402.47L187.75 404.87M185.35 404.87L187.75 402.47" stroke="#25858e" stroke-width="1.0"/><path d="M189.18 405.92L191.58 408.32M189.18 408.32L191.58 405.92" stroke="#25858e" stroke-width="1.0"/><path d="M193 409.38L195.4 411.78M193 411.78L195.4 409.38" stroke="#25858e" stroke-width="1.0"/><path d="M196.83 412.83L199.23 415.23M196.83 415.23L199.23 412.83" stroke="#25858e" stroke-width="1.0"/><path d="M200.66 416.28L203.06 418.68M200.66 418.68L203.06 416.28" stroke="#25858e" stroke-width="1.0"/><path d="M204.49 419.73L206.89 422.13M204.49 422.13L206.89 419.73" stroke="#25858e" stroke-width="1.0"/><path d="M208.31 423.17L210.71 425.57M208.31 425.57L210.71 423.17" stroke="#25858e" stroke-width="1.0"/><path d="M212.14 426.61L214.54 429.01M212.14 429.01L214.54 426.61" stroke="#25858e" stroke-width="1.0"/><path d="M215.97 430.04L218.37 432.44M215.97 432.44L218.37 430.04" stroke="#25858e" stroke-width="1.0"/><path d="M219.79 433.47L222.19 435.87M219.79 435.87L222.19 433.47" stroke="#25858e" stroke-width="1.0"/><path d="M223.62 436.87L226.02 439.27M223.62 439.27L226.02 436.87" stroke="#25858e" stroke-width="1.0"/><path d="M227.45 440.26L229.85 442.66M227.45 442.66L229.85 440.26" stroke="#25858e" stroke-width="1.0"/><path d="M231.28 443.62L233.68 446.02M231.28 446.02L233.68 443.62" stroke="#25858e" stroke-width="1.0"/><path d="M235.1 446.94L237.5 449.34M235.1 449.34L237.5 446.94" stroke="#25858e" stroke-width="1.0"/><path d="M238.93 450.18L241.33 452.58M238.93 452.58L241.33 450.18" stroke="#25858e" stroke-width="1.0"/><path d="M242.76 453.34L245.16 455.74M242.76 455.74L245.16 453.34" stroke="#25858e" stroke-width="1.0"/><path d="M246.58 456.36L248.98 458.76M246.58 458.76L248.98 456.36" stroke="#25858e" stroke-width="1.0"/><path d="M250.41 459.2L252.81 461.6M250.41 461.6L252.81 459.2" stroke="#25858e" stroke-width="1.0"/><path d="M254.24 461.81L256.64 464.21M254.24 464.21L256.64 461.81" stroke="#25858e" stroke-width="1.0"/><path d="M258.07 464.12L260.47 466.52M258.07 466.52L260.47 464.12" stroke="#25858e" stroke-width="1.0"/><path d="M261.89 466.08L264.29 468.48M261.89 468.48L264.29 466.08" stroke="#25858e" stroke-width="1.0"/><path d="M265.72 467.69L268.12 470.09M265.72 470.09L268.12 467.69" stroke="#25858e" stroke-width="1.0"/><path d="M269.55 468.94L271.95 471.34M269.55 471.34L271.95 468.94" stroke="#25858e" stroke-width="1.0"/><path d="M273.37 469.89L275.77 472.29M273.37 472.29L275.77 469.89" stroke="#25858e" stroke-width="1.0"/><path d="M277.2 470.57L279.6 472.97M277.2 472.97L279.6 470.57" stroke="#25858e" stroke-width="1.0"/><path d="M281.03 471.06L283.43 473.46M281.03 473.46L283.43 471.06" stroke="#25858e" stroke-width="1.0"/><path d="M284.86 471.39L287.26 473.79M284.86 473.79L287.26 471.39" stroke="#25858e" stroke-width="1.0"/><path d="M288.68 471.62L291.08 474.02M288.68 474.02L291.08 471.62" stroke="#25858e" stroke-width="1.0"/><path d="M292.51 471.78L294.91 474.18M292.51 474.18L294.91 471.78" stroke="#25858e" stroke-width="1.0"/><path d="M296.34 471.87L298.74 474.27M296.34 474.27L298.74 471.87" stroke="#25858e" stroke-width="1.0"/><path d="M300.16 471.93L302.56 474.33M300.16 474.33L302.56 471.93" stroke="#25858e" stroke-width="1.0"/><path d="M303.99 471.95L306.39 474.35M303.99 474.35L306.39 471.95" stroke="#25858e" stroke-width="1.0"/><path d="M307.82 471.94L310.22 474.34M307.82 474.34L310.22 471.94" stroke="#25858e" stroke-width="1.0"/><path d="M311.65 471.89L314.05 474.29M311.65 474.29L314.05 471.89" stroke="#25858e" stroke-width="1.0"/><path d="M315.47 471.78L317.87 474.18M315.47 474.18L317.87 471.78" stroke="#25858e" stroke-width="1.0"/><path d="M319.3 471.6L321.7 474M319.3 474L321.7 471.6" stroke="#25858e" stroke-width="1.0"/><path d="M51.4 281.93L53.8 284.33M51.4 284.33L53.8 281.93" stroke="#3dbc74" stroke-width="1.0"/><path d="M55.23 285.25L57.63 287.65M55.23 287.65L57.63 285.25" stroke="#3dbc74" stroke-width="1.0"/><path d="M59.05 288.61L61.45 291.01M59.05 291.01L61.45 288.61" stroke="#3dbc74" stroke-width="1.0"/><path d="M62.88 292L65.28 294.4M62.88 294.4L65.28 292" stroke="#3dbc74" stroke-width="1.0"/><path d="M66.71 295.4L69.11 297.8M66.71 297.8L69.11 295.4" stroke="#3dbc74" stroke-width="1.0"/><path d="M70.54 298.83L72.94 301.23M70.54 301.23L72.94 298.83" stroke="#3dbc74" stroke-width="1.0"/><path d="M74.36 302.26L76.76 304.66M74.36 304.66L76.76 302.26" stroke="#3dbc74" stroke-width="1.0"/><path d="M78.19 305.7L80.59 308.1M78.19 308.1L80.59 305.7" stroke="#3dbc74" stroke-width="1.0"/><path d="M82.02 309.14L84.42 311.54M82.02 311.54L84.42 309.14" stroke="#3dbc74" stroke-width="1.0"/><path d="M85.84 312.59L88.24 314.99M85.84 314.99L88.24 312.59" stroke="#3dbc74" stroke-width="1.0"/><path d="M89.67 316.03L92.07 318.43M89.67 318.43L92.07 316.03" stroke="#3dbc74" stroke-width="1.0"/><path d="M93.5 319.48L95.9 321.88M93.5 321.88L95.9 319.48" stroke="#3dbc74" stroke-width="1.0"/><path d="M97.33 322.93L99.73 325.33M97.33 325.33L99.73 322.93" stroke="#3dbc74" stroke-width="1.0"/><path d="M101.15 326.39L103.55 328.79M101.15 328.79L103.55 326.39" stroke="#3dbc74" stroke-width="1.0"/><path d="M104.98 329.84L107.38 332.24M104.98 332.24L107.38 329.84" stroke="#3dbc74" stroke-width="1.0"/><path d="M108.81 333.29L111.21 335.69M108.81 335.69L111.21 333.29" stroke="#3dbc74" stroke-width="1.0"/><path d="M112.63 336.74L115.03 339.14M112.63 339.14L115.03 336.74" stroke="#3dbc74" stroke-width="1.0"/><path d="M116.46 340.2L118.86 342.6M116.46 342.6L118.86 340.2" stroke="#3dbc74" stroke-width="1.0"/><path d="M120.29 343.65L122.69 346.05M120.29 346.05L122.69 343.65" stroke="#3dbc74" stroke-width="1.0"/><path d="M124.12 347.11L126.52 349.51M124.12 349.51L126.52 347.11" stroke="#3dbc74" stroke-width="1.0"/><path d="M127.94 350.56L130.34 352.96M127.94 352.96L130.34 350.56" stroke="#3dbc74" stroke-width="1.0"/><path d="M131.77 354.01L134.17 356.41M131.77 356.41L134.17 354.01" stroke="#3dbc74" stroke-width="1.0"/><path d="M135.6 357.47L138 359.87M135.6 359.87L138 357.47" stroke="#3dbc74" stroke-width="1.0"/><path d="M139.42 360.92L141.82 363.32M139.42 363.32L141.82 360.92" stroke="#3dbc74" stroke-width="1.0"/><path d="M143.25 364.38L145.65 366.78M143.25 366.78L145.65 364.38" stroke="#3dbc74" stroke-width="1.0"/><path d="M147.08 367.83L149.48 370.23M147.08 370.23L149.48 367.83" stroke="#3dbc74" stroke-width="1.0"/><path d="M150.91 371.29L153.31 373.69M150.91 373.69L153.31 371.29" stroke="#3dbc74" stroke-width="1.0"/><path d="M154.73 374.74L157.13 377.14M154.73 377.14L157.13 374.74" stroke="#3dbc74" stroke-width="1.0"/><path d="M158.56 378.19L160.96 380.59M158.56 380.59L160.96 378.19" stroke="#3dbc74" stroke-width="1.0"/><path d="M162.39 381.65L164.79 384.05M162.39 384.05L164.79 381.65" stroke="#3dbc74" stroke-width="1.0"/><path d="M166.21 385.1L168.61 387.5M166.21 387.5L168.61 385.1" stroke="#3dbc74" stroke-width="1.0"/><path d="M170.04 388.56L172.44 390.96M170.04 390.96L172.44 388.56" stroke="#3dbc74" stroke-width="1.0"/><path d="M173.87 392.01L176.27 394.41M173.87 394.41L176.27 392.01" stroke="#3dbc74" stroke-width="1.0"/><path d="M177.7 395.46L180.1 397.86M177.7 397.86L180.1 395.46" stroke="#3dbc74" stroke-width="1.0"/><path d="M181.52 398.92L183.92 401.32M181.52 401.32L183.92 398.92" stroke="#3dbc74" stroke-width="1.0"/><path d="M185.35 402.37L187.75 404.77M185.35 404.77L187.75 402.37" stroke="#3dbc74" stroke-width="1.0"/><path d="M189.18 405.82L191.58 408.22M189.18 408.22L191.58 405.82" stroke="#3dbc74" stroke-width="1.0"/><path d="M193 409.27L195.4 411.67M193 411.67L195.4 409.27" stroke="#3dbc74" stroke-width="1.0"/><path d="M196.83 412.72L199.23 415.12M196.83 415.12L199.23 412.72" stroke="#3dbc74" stroke-width="1.0"/><path d="M200.66 416.17L203.06 418.57M200.66 418.57L203.06 416.17" stroke="#3dbc74" stroke-width="1.0"/><path d="M204.49 419.61L206.89 422.01M204.49 422.01L206.89 419.61" stroke="#3dbc74" stroke-width="1.0"/><path d="M208.31 423.06L210.71 425.46M208.31 425.46L210.71 423.06" stroke="#3dbc74" stroke-width="1.0"/><path d="M212.14 426.49L214.54 428.89M212.14 428.89L214.54 426.49" stroke="#3dbc74" stroke-width="1.0"/><path d="M215.97 429.93L218.37 432.33M215.97 432.33L218.37 429.93" stroke="#3dbc74" stroke-width="1.0"/><path d="M219.79 433.35L222.19 435.75M219.79 435.75L222.19 433.35" stroke="#3dbc74" stroke-width="1.0"/><path d="M223.62 436.75L226.02 439.15M223.62 439.15L226.02 436.75" stroke="#3dbc74" stroke-width="1.0"/><path d="M227.45 440.14L229.85 442.54M227.45 442.54L229.85 440.14" stroke="#3dbc74" stroke-width="1.0"/><path d="M231.28 443.5L233.68 445.9M231.28 445.9L233.68 443.5" stroke="#3dbc74" stroke-width="1.0"/><path d="M235.1 446.81L237.5 449.21M235.1 449.21L237.5 446.81" stroke="#3dbc74" stroke-width="1.0"/><path d="M238.93 450.06L241.33 452.46M238.93 452.46L241.33 450.06" stroke="#3dbc74" stroke-width="1.0"/><path d="M242.76 453.22L245.16 455.62M242.76 455.62L245.16 453.22" stroke="#3dbc74" stroke-width="1.0"/><path d="M246.58 456.25L248.98 458.65M246.58 458.65L248.98 456.25" stroke="#3dbc74" stroke-width="1.0"/><path d="M250.41 459.1L252.81 461.5M250.41 461.5L252.81 459.1" stroke="#3dbc74" stroke-width="1.0"/><path d="M254.24 461.71L256.64 464.11M254.24 464.11L256.64 461.71" stroke="#3dbc74" stroke-width="1.0"/><path d="M258.07 464.02L260.47 466.42M258.07 466.42L260.47 464.02" stroke="#3dbc74" stroke-width="1.0"/><path d="M261.89 466L264.29 468.4M261.89 468.4L264.29 466" stroke="#3dbc74" stroke-width="1.0"/><path d="M265.72 467.62L268.12 470.02M265.72 470.02L268.12 467.62" stroke="#3dbc74" stroke-width="1.0"/><path d="M269.55 468.89L271.95 471.29M269.55 471.29L271.95 468.89" stroke="#3dbc74" stroke-width="1.0"/><path d="M273.37 469.85L275.77 472.25M273.37 472.25L275.77 469.85" stroke="#3dbc74" stroke-width="1.0"/><path d="M277.2 470.54L279.6 472.94M277.2 472.94L279.6 470.54" stroke="#3dbc74" stroke-width="1.0"/><path d="M281.03 471.04L283.43 473.44M281.03 473.44L283.43 471.04" stroke="#3dbc74" stroke-width="1.0"/><path d="M284.86 471.38L287.26 473.78M284.86 473.78L287.26 471.38" stroke="#3dbc74" stroke-width="1.0"/><path d="M288.68 471.61L291.08 474.01M288.68 474.01L291.08 471.61" stroke="#3dbc74" stroke-width="1.0"/><path d="M292.51 471.77L294.91 474.17M292.51 474.17L294.91 471.77" stroke="#3dbc74" stroke-width="1.0"/><path d="M296.34 471.87L298.74 474.27M296.34 474.27L298.74 471.87" stroke="#3dbc74" stroke-width="1.0"/><path d="M300.16 471.93L302.56 474.33M300.16 474.33L302.56 471.93" stroke="#3dbc74" stroke-width="1.0"/><path d="M303.99 471.95L306.39 474.35M303.99 474.35L306.39 471.95" stroke="#3dbc74" stroke-width="1.0"/><path d="M307.82 471.94L310.22 474.34M307.82 474.34L310.22 471.94" stroke="#3dbc74" stroke-width="1.0"/><path d="M311.65 471.89L314.05 474.29M311.65 474.29L314.05 471.89" stroke="#3dbc74" stroke-width="1.0"/><path d="M315.47 471.78L317.87 474.18M315.47 474.18L317.87 471.78" stroke="#3dbc74" stroke-width="1.0"/><path d="M319.3 471.6L321.7 474M319.3 474L321.7 471.6" stroke="#3dbc74" stroke-width="1.0"/><path d="M51.4 281.89L53.8 284.29M51.4 284.29L53.8 281.89" stroke="#bddf26" stroke-width="1.0"/><path d="M55.23 285.19L57.63 287.59M55.23 287.59L57.63 285.19" stroke="#bddf26" stroke-width="1.0"/><path d="M59.05 288.53L61.45 290.93M59.05 290.93L61.45 288.53" stroke="#bddf26" stroke-width="1.0"/><path d="M62.88 291.91L65.28 294.31M62.88 294.31L65.28 291.91" stroke="#bddf26" stroke-width="1.0"/><path d="M66.71 295.31L69.11 297.71M66.71 297.71L69.11 295.31" stroke="#bddf26" stroke-width="1.0"/><path d="M70.54 298.72L72.94 301.12M70.54 301.12L72.94 298.72" stroke="#bddf26" stroke-width="1.0"/><path d="M74.36 302.15L76.76 304.55M74.36 304.55L76.76 302.15" stroke="#bddf26" stroke-width="1.0"/><path d="M78.19 305.58L80.59 307.98M78.19 307.98L80.59 305.58" stroke="#bddf26" stroke-width="1.0"/><path d="M82.02 309.02L84.42 311.42M82.02 311.42L84.42 309.02" stroke="#bddf26" stroke-width="1.0"/><path d="M85.84 312.46L88.24 314.86M85.84 314.86L88.24 312.46" stroke="#bddf26" stroke-width="1.0"/><path d="M89.67 315.9L92.07 318.3M89.67 318.3L92.07 315.9" stroke="#bddf26" stroke-width="1.0"/><path d="M93.5 319.35L95.9 321.75M93.5 321.75L95.9 319.35" stroke="#bddf26" stroke-width="1.0"/><path d="M97.33 322.79L99.73 325.19M97.33 325.19L99.73 322.79" stroke="#bddf26" stroke-width="1.0"/><path d="M101.15 326.24L103.55 328.64M101.15 328.64L103.55 326.24" stroke="#bddf26" stroke-width="1.0"/><path d="M104.98 329.69L107.38 332.09M104.98 332.09L107.38 329.69" stroke="#bddf26" stroke-width="1.0"/><path d="M108.81 333.14L111.21 335.54M108.81 335.54L111.21 333.14" stroke="#bddf26" stroke-width="1.0"/><path d="M112.63 336.59L115.03 338.99M112.63 338.99L115.03 336.59" stroke="#bddf26" stroke-width="1.0"/><path d="M116.46 340.04L118.86 342.44M116.46 342.44L118.86 340.04" stroke="#bddf26" stroke-width="1.0"/><path d="M120.29 343.49L122.69 345.89M120.29 345.89L122.69 343.49" stroke="#bddf26" stroke-width="1.0"/><path d="M124.12 346.94L126.52 349.34M124.12 349.34L126.52 346.94" stroke="#bddf26" stroke-width="1.0"/><path d="M127.94 350.39L130.34 352.79M127.94 352.79L130.34 350.39" stroke="#bddf26" stroke-width="1.0"/><path d="M131.77 353.84L134.17 356.24M131.77 356.24L134.17 353.84" stroke="#bddf26" stroke-width="1.0"/><path d="M135.6 357.29L138 359.69M135.6 359.69L138 357.29" stroke="#bddf26" stroke-width="1.0"/><path d="M139.42 360.74L141.82 363.14M139.42 363.14L141.82 360.74" stroke="#bddf26" stroke-width="1.0"/><path d="M143.25 364.19L145.65 366.59M143.25 366.59L145.65 364.19" stroke="#bddf26" stroke-width="1.0"/><path d="M147.08 367.64L149.48 370.04M147.08 370.04L149.48 367.64" stroke="#bddf26" stroke-width="1.0"/><path d="M150.91 371.09L153.31 373.49M150.91 373.49L153.31 371.09" stroke="#bddf26" stroke-width="1.0"/><path d="M154.73 374.54L157.13 376.94M154.73 376.94L157.13 374.54" stroke="#bddf26" stroke-width="1.0"/><path d="M158.56 378L160.96 380.4M158.56 380.4L160.96 378" stroke="#bddf26" stroke-width="1.0"/><path d="M162.39 381.45L164.79 383.85M162.39 383.85L164.79 381.45" stroke="#bddf26" stroke-width="1.0"/><path d="M166.21 384.9L168.61 387.3M166.21 387.3L168.61 384.9" stroke="#bddf26" stroke-width="1.0"/><path d="M170.04 388.35L172.44 390.75M170.04 390.75L172.44 388.35" stroke="#bddf26" stroke-width="1.0"/><path d="M173.87 391.8L176.27 394.2M173.87 394.2L176.27 391.8" stroke="#bddf26" stroke-width="1.0"/><path d="M177.7 395.25L180.1 397.65M177.7 397.65L180.1 395.25" stroke="#bddf26" stroke-width="1.0"/><path d="M181.52 398.7L183.92 401.1M181.52 401.1L183.92 398.7" stroke="#bddf26" stroke-width="1.0"/><path d="M185.35 402.14L187.75 404.54M185.35 404.54L187.75 402.14" stroke="#bddf26" stroke-width="1.0"/><path d="M189.18 405.59L191.58 407.99M189.18 407.99L191.58 405.59" stroke="#bddf26" stroke-width="1.0"/><path d="M193 409.04L195.4 411.44M193 411.44L195.4 409.04" stroke="#bddf26" stroke-width="1.0"/><path d="M196.83 412.49L199.23 414.89M196.83 414.89L199.23 412.49" stroke="#bddf26" stroke-width="1.0"/><path d="M200.66 415.93L203.06 418.33M200.66 418.33L203.06 415.93" stroke="#bddf26" stroke-width="1.0"/><path d="M204.49 419.37L206.89 421.77M204.49 421.77L206.89 419.37" stroke="#bddf26" stroke-width="1.0"/><path d="M208.31 422.81L210.71 425.21M208.31 425.21L210.71 422.81" stroke="#bddf26" stroke-width="1.0"/><path d="M212.14 426.25L214.54 428.65M212.14 428.65L214.54 426.25" stroke="#bddf26" stroke-width="1.0"/><path d="M215.97 429.67L218.37 432.07M215.97 432.07L218.37 429.67" stroke="#bddf26" stroke-width="1.0"/><path d="M219.79 433.09L222.19 435.49M219.79 435.49L222.19 433.09" stroke="#bddf26" stroke-width="1.0"/><path d="M223.62 436.5L226.02 438.9M223.62 438.9L226.02 436.5" stroke="#bddf26" stroke-width="1.0"/><path d="M227.45 439.88L229.85 442.28M227.45 442.28L229.85 439.88" stroke="#bddf26" stroke-width="1.0"/><path d="M231.28 443.24L233.68 445.64M231.28 445.64L233.68 443.24" stroke="#bddf26" stroke-width="1.0"/><path d="M235.1 446.55L237.5 448.95M235.1 448.95L237.5 446.55" stroke="#bddf26" stroke-width="1.0"/><path d="M238.93 449.8L241.33 452.2M238.93 452.2L241.33 449.8" stroke="#bddf26" stroke-width="1.0"/><path d="M242.76 452.96L245.16 455.36M242.76 455.36L245.16 452.96" stroke="#bddf26" stroke-width="1.0"/><path d="M246.58 456L248.98 458.4M246.58 458.4L248.98 456" stroke="#bddf26" stroke-width="1.0"/><path d="M250.41 458.86L252.81 461.26M250.41 461.26L252.81 458.86" stroke="#bddf26" stroke-width="1.0"/><path d="M254.24 461.49L256.64 463.89M254.24 463.89L256.64 461.49" stroke="#bddf26" stroke-width="1.0"/><path d="M258.07 463.83L260.47 466.23M258.07 466.23L260.47 463.83" stroke="#bddf26" stroke-width="1.0"/><path d="M261.89 465.84L264.29 468.24M261.89 468.24L264.29 465.84" stroke="#bddf26" stroke-width="1.0"/><path d="M265.72 467.49L268.12 469.89M265.72 469.89L268.12 467.49" stroke="#bddf26" stroke-width="1.0"/><path d="M269.55 468.79L271.95 471.19M269.55 471.19L271.95 468.79" stroke="#bddf26" stroke-width="1.0"/><path d="M273.37 469.77L275.77 472.17M273.37 472.17L275.77 469.77" stroke="#bddf26" stroke-width="1.0"/><path d="M277.2 470.48L279.6 472.88M277.2 472.88L279.6 470.48" stroke="#bddf26" stroke-width="1.0"/><path d="M281.03 470.99L283.43 473.39M281.03 473.39L283.43 470.99" stroke="#bddf26" stroke-width="1.0"/><path d="M284.86 471.35L287.26 473.75M284.86 473.75L287.26 471.35" stroke="#bddf26" stroke-width="1.0"/><path d="M288.68 471.59L291.08 473.99M288.68 473.99L291.08 471.59" stroke="#bddf26" stroke-width="1.0"/><path d="M292.51 471.75L294.91 474.15M292.51 474.15L294.91 471.75" stroke="#bddf26" stroke-width="1.0"/><path d="M296.34 471.86L298.74 474.26M296.34 474.26L298.74 471.86" stroke="#bddf26" stroke-width="1.0"/><path d="M300.16 471.92L302.56 474.32M300.16 474.32L302.56 471.92" stroke="#bddf26" stroke-width="1.0"/><path d="M303.99 471.95L306.39 474.35M303.99 474.35L306.39 471.95" stroke="#bddf26" stroke-width="1.0"/><path d="M307.82 471.94L310.22 474.34M307.82 474.34L310.22 471.94" stroke="#bddf26" stroke-width="1.0"/><path d="M311.65 471.89L314.05 474.29M311.65 474.29L314.05 471.89" stroke="#bddf26" stroke-width="1.0"/><path d="M315.47 471.78L317.87 474.18M315.47 474.18L317.87 471.78" stroke="#bddf26" stroke-width="1.0"/><path d="M319.3 471.6L321.7 474M319.3 474L321.7 471.6" stroke="#bddf26" stroke-width="1.0"/></g>
<rect x="52.6" y="273.5" width="267.9" height="214.8" fill="none" stroke="#555" stroke-width="1"/>
<line x1="49.6" y1="488.3" x2="52.6" y2="488.3" stroke="#333" stroke-width="0.9"/>
<line x1="51" y1="477.52" x2="52.6" y2="477.52" stroke="#333" stroke-width="0.7"/>
<line x1="51" y1="471.22" x2="52.6" y2="471.22" stroke="#333" stroke-width="0.7"/>
<line x1="51" y1="466.75" x2="52.6" y2="466.75" stroke="#333" stroke-width="0.7"/>
<line x1="51" y1="463.28" x2="52.6" y2="463.28" stroke="#333" stroke-width="0.7"/>
<line x1="51" y1="460.44" x2="52.6" y2="460.44" stroke="#333" stroke-width="0.7"/>
<line x1="51" y1="458.05" x2="52.6" y2="458.05" stroke="#333" stroke-width="0.7"/>
<line x1="51" y1="455.97" x2="52.6" y2="455.97" stroke="#333" stroke-width="0.7"/>
<line x1="51" y1="454.14" x2="52.6" y2="454.14" stroke="#333" stroke-width="0.7"/>
<line x1="49.6" y1="452.5" x2="52.6" y2="452.5" stroke="#333" stroke-width="0.9"/>
<line x1="51" y1="441.72" x2="52.6" y2="441.72" stroke="#333" stroke-width="0.7"/>
<line x1="51" y1="435.42" x2="52.6" y2="435.42" stroke="#333" stroke-width="0.7"/>
<line x1="51" y1="430.95" x2="52.6" y2="430.95" stroke="#333" stroke-width="0.7"/>
<line x1="51" y1="427.48" x2="52.6" y2="427.48" stroke="#333" stroke-width="0.7"/>
<line x1="51" y1="424.64" x2="52.6" y2="424.64" stroke="#333" stroke-width="0.7"/>
<line x1="51" y1="422.25" x2="52.6" y2="422.25" stroke="#333" stroke-width="0.7"/>
<line x1="51" y1="420.17" x2="52.6" y2="420.17" stroke="#333" stroke-width="0.7"/>
<line x1="51" y1="418.34" x2="52.6" y2="418.34" stroke="#333" stroke-width="0.7"/>
<line x1="49.6" y1="416.7" x2="52.6" y2="416.7" stroke="#333" stroke-width="0.9"/>
<line x1="51" y1="405.92" x2="52.6" y2="405.92" stroke="#333" stroke-width="0.7"/>
<line x1="51" y1="399.62" x2="52.6" y2="399.62" stroke="#333" stroke-width="0.7"/>
<line x1="51" y1="395.15" x2="52.6" y2="395.15" stroke="#333" stroke-width="0.7"/>
<line x1="51" y1="391.68" x2="52.6" y2="391.68" stroke="#333" stroke-width="0.7"/>
<line x1="51" y1="388.84" x2="52.6" y2="388.84" stroke="#333" stroke-width="0.7"/>
<line x1="51" y1="386.45" x2="52.6" y2="386.45" stroke="#333" stroke-width="0.7"/>
<line x1="51" y1="384.37" x2="52.6" y2="384.37" stroke="#333" stroke-width="0.7"/>
<line x1="51" y1="382.54" x2="52.6" y2="382.54" stroke="#333" stroke-width="0.7"/>
<line x1="49.6" y1="380.9" x2="52.6" y2="380.9" stroke="#333" stroke-width="0.9"/>
<line x1="51" y1="370.12" x2="52.6" y2="370.12" stroke="#333" stroke-width="0.7"/>
<line x1="51" y1="363.82" x2="52.6" y2="363.82" stroke="#333" stroke-width="0.7"/>
<line x1="51" y1="359.35" x2="52.6" y2="359.35" stroke="#333" stroke-width="0.7"/>
<line x1="51" y1="355.88" x2="52.6" y2="355.88" stroke="#333" stroke-width="0.7"/>
<line x1="51" y1="353.04" x2="52.6" y2="353.04" stroke="#333" stroke-width="0.7"/>
<line x1="51" y1="350.65" x2="52.6" y2="350.65" stroke="#333" stroke-width="0.7"/>
<line x1="51" y1="348.57" x2="52.6" y2="348.57" stroke="#333" stroke-width="0.7"/>
<line x1="51" y1="346.74" x2="52.6" y2="346.74" stroke="#333" stroke-width="0.7"/>
<line x1="49.6" y1="345.1" x2="52.6" y2="345.1" stroke="#333" stroke-width="0.9"/>
<line x1="51" y1="334.32" x2="52.6" y2="334.32" stroke="#333" stroke-width="0.7"/>
<line x1="51" y1="328.02" x2="52.6" y2="328.02" stroke="#333" stroke-width="0.7"/>
<line x1="51" y1="323.55" x2="52.6" y2="323.55" stroke="#333" stroke-width="0.7"/>
<line x1="51" y1="320.08" x2="52.6" y2="320.08" stroke="#333" stroke-width="0.7"/>
<line x1="51" y1="317.24" x2="52.6" y2="317.24" stroke="#333" stroke-width="0.7"/>
<line x1="51" y1="314.85" x2="52.6" y2="314.85" stroke="#333" stroke-width="0.7"/>
<line x1="51" y1="312.77" x2="52.6" y2="312.77" stroke="#333" stroke-width="0.7"/>
<line x1="51" y1="310.94" x2="52.6" y2="310.94" stroke="#333" stroke-width="0.7"/>
<line x1="49.6" y1="309.3" x2="52.6" y2="309.3" stroke="#333" stroke-width="0.9"/>
<line x1="51" y1="298.52" x2="52.6" y2="298.52" stroke="#333" stroke-width="0.7"/>
<line x1="51" y1="292.22" x2="52.6" y2="292.22" stroke="#333" stroke-width="0.7"/>
<line x1="51" y1="287.75" x2="52.6" y2="287.75" stroke="#333" stroke-width="0.7"/>
<line x1="51" y1="284.28" x2="52.6" y2="284.28" stroke="#333" stroke-width="0.7"/>
<line x1="51" y1="281.44" x2="52.6" y2="281.44" stroke="#333" stroke-width="0.7"/>
<line x1="51" y1="279.05" x2="52.6" y2="279.05" stroke="#333" stroke-width="0.7"/>
<line x1="51" y1="276.97" x2="52.6" y2="276.97" stroke="#333" stroke-width="0.7"/>
<line x1="51" y1="275.14" x2="52.6" y2="275.14" stroke="#333" stroke-width="0.7"/>
<line x1="49.6" y1="273.5" x2="52.6" y2="273.5" stroke="#333" stroke-width="0.9"/>
<line x1="52.6" y1="488.3" x2="52.6" y2="491.3" stroke="#333" stroke-width="0.9"/>
<line x1="64.12" y1="488.3" x2="64.12" y2="489.9" stroke="#333" stroke-width="0.7"/>
<line x1="70.86" y1="488.3" x2="70.86" y2="489.9" stroke="#333" stroke-width="0.7"/>
<line x1="75.64" y1="488.3" x2="75.64" y2="489.9" stroke="#333" stroke-width="0.7"/>
<line x1="79.35" y1="488.3" x2="79.35" y2="489.9" stroke="#333" stroke-width="0.7"/>
<line x1="82.38" y1="488.3" x2="82.38" y2="489.9" stroke="#333" stroke-width="0.7"/>
<line x1="84.94" y1="488.3" x2="84.94" y2="489.9" stroke="#333" stroke-width="0.7"/>
<line x1="87.16" y1="488.3" x2="87.16" y2="489.9" stroke="#333" stroke-width="0.7"/>
<line x1="89.12" y1="488.3" x2="89.12" y2="489.9" stroke="#333" stroke-width="0.7"/>
<line x1="90.87" y1="488.3" x2="90.87" y2="491.3" stroke="#333" stroke-width="0.9"/>
<line x1="102.39" y1="488.3" x2="102.39" y2="489.9" stroke="#333" stroke-width="0.7"/>
<line x1="109.13" y1="488.3" x2="109.13" y2="489.9" stroke="#333" stroke-width="0.7"/>
<line x1="113.91" y1="488.3" x2="113.91" y2="489.9" stroke="#333" stroke-width="0.7"/>
<line x1="117.62" y1="488.3" x2="117.62" y2="489.9" stroke="#333" stroke-width="0.7"/>
<line x1="120.65" y1="488.3" x2="120.65" y2="489.9" stroke="#333" stroke-width="0.7"/>
<line x1="123.21" y1="488.3" x2="123.21" y2="489.9" stroke="#333" stroke-width="0.7"/>
<line x1="125.43" y1="488.3" x2="125.43" y2="489.9" stroke="#333" stroke-width="0.7"/>
<line x1="127.39" y1="488.3" x2="127.39" y2="489.9" stroke="#333" stroke-width="0.7"/>
<line x1="129.14" y1="488.3" x2="129.14" y2="491.3" stroke="#333" stroke-width="0.9"/>
<line x1="140.66" y1="488.3" x2="140.66" y2="489.9" stroke="#333" stroke-width="0.7"/>
<line x1="147.4" y1="488.3" x2="147.4" y2="489.9" stroke="#333" stroke-width="0.7"/>
<line x1="152.18" y1="488.3" x2="152.18" y2="489.9" stroke="#333" stroke-width="0.7"/>
<line x1="155.89" y1="488.3" x2="155.89" y2="489.9" stroke="#333" stroke-width="0.7"/>
<line x1="158.92" y1="488.3" x2="158.92" y2="489.9" stroke="#333" stroke-width="0.7"/>
<line x1="161.49" y1="488.3" x2="161.49" y2="489.9" stroke="#333" stroke-width="0.7"/>
<line x1="163.71" y1="488.3" x2="163.71" y2="489.9" stroke="#333" stroke-width="0.7"/>
<line x1="165.66" y1="488.3" x2="165.66" y2="489.9" stroke="#333" stroke-width="0.7"/>
<line x1="167.41" y1="488.3" x2="167.41" y2="491.3" stroke="#333" stroke-width="0.9"/>
<line x1="178.94" y1="488.3" x2="178.94" y2="489.9" stroke="#333" stroke-width="0.7"/>
<line x1="185.67" y1="488.3" x2="185.67" y2="489.9" stroke="#333" stroke-width="0.7"/>
<line x1="190.46" y1="488.3" x2="190.46" y2="489.9" stroke="#333" stroke-width="0.7"/>
<line x1="194.16" y1="488.3" x2="194.16" y2="489.9" stroke="#333" stroke-width="0.7"/>
<line x1="197.2" y1="488.3" x2="197.2" y2="489.9" stroke="#333" stroke-width="0.7"/>
<line x1="199.76" y1="488.3" x2="199.76" y2="489.9" stroke="#333" stroke-width="0.7"/>
<line x1="201.98" y1="488.3" x2="201.98" y2="489.9" stroke="#333" stroke-width="0.7"/>
<line x1="203.93" y1="488.3" x2="203.93" y2="489.9" stroke="#333" stroke-width="0.7"/>
<line x1="205.69" y1="488.3" x2="205.69" y2="491.3" stroke="#333" stroke-width="0.9"/>
<line x1="217.21" y1="488.3" x2="217.21" y2="489.9" stroke="#333" stroke-width="0.7"/>
<line x1="223.95" y1="488.3" x2="223.95" y2="489.9" stroke="#333" stroke-width="0.7"/>
<line x1="228.73" y1="488.3" x2="228.73" y2="489.9" stroke="#333" stroke-width="0.7"/>
<line x1="232.44" y1="488.3" x2="232.44" y2="489.9" stroke="#333" stroke-width="0.7"/>
<line x1="235.47" y1="488.3" x2="235.47" y2="489.9" stroke="#333" stroke-width="0.7"/>
<line x1="238.03" y1="488.3" x2="238.03" y2="489.9" stroke="#333" stroke-width="0.7"/>
<line x1="240.25" y1="488.3" x2="240.25" y2="489.9" stroke="#333" stroke-width="0.7"/>
<line x1="242.21" y1="488.3" x2="242.21" y2="489.9" stroke="#333" stroke-width="0.7"/>
<line x1="243.96" y1="488.3" x2="243.96" y2="491.3" stroke="#333" stroke-width="0.9"/>
<line x1="255.48" y1="488.3" x2="255.48" y2="489.9" stroke="#333" stroke-width="0.7"/>
<line x1="262.22" y1="488.3" x2="262.22" y2="489.9" stroke="#333" stroke-width="0.7"/>
<line x1="267" y1="488.3" x2="267" y2="489.9" stroke="#333" stroke-width="0.7"/>
<line x1="270.71" y1="488.3" x2="270.71" y2="489.9" stroke="#333" stroke-width="0.7"/>
<line x1="273.74" y1="488.3" x2="273.74" y2="489.9" stroke="#333" stroke-width="0.7"/>
<line x1="276.3" y1="488.3" x2="276.3" y2="489.9" stroke="#333" stroke-width="0.7"/>
<line x1="278.52" y1="488.3" x2="278.52" y2="489.9" stroke="#333" stroke-width="0.7"/>
<line x1="280.48" y1="488.3" x2="280.48" y2="489.9" stroke="#333" stroke-width="0.7"/>
<line x1="282.23" y1="488.3" x2="282.23" y2="491.3" stroke="#333" stroke-width="0.9"/>
<line x1="293.75" y1="488.3" x2="293.75" y2="489.9" stroke="#333" stroke-width="0.7"/>
<line x1="300.49" y1="488.3" x2="300.49" y2="489.9" stroke="#333" stroke-width="0.7"/>
<line x1="305.27" y1="488.3" x2="305.27" y2="489.9" stroke="#333" stroke-width="0.7"/>
<line x1="308.98" y1="488.3" x2="308.98" y2="489.9" stroke="#333" stroke-width="0.7"/>
<line x1="312.01" y1="488.3" x2="312.01" y2="489.9" stroke="#333" stroke-width="0.7"/>
<line x1="314.57" y1="488.3" x2="314.57" y2="489.9" stroke="#333" stroke-width="0.7"/>
<line x1="316.79" y1="488.3" x2="316.79" y2="489.9" stroke="#333" stroke-width="0.7"/>
<line x1="318.75" y1="488.3" x2="318.75" y2="489.9" stroke="#333" stroke-width="0.7"/>
<line x1="320.5" y1="488.3" x2="320.5" y2="491.3" stroke="#333" stroke-width="0.9"/>
<text x="46.4" y="492.8" font-size="10" text-anchor="end" fill="#1a1a1a">10<tspan font-size="6.5" dy="-5.0">0</tspan></text>
<text x="46.4" y="457" font-size="10" text-anchor="end" fill="#1a1a1a">10<tspan font-size="6.5" dy="-5.0">1</tspan></text>
<text x="46.4" y="421.2" font-size="10" text-anchor="end" fill="#1a1a1a">10<tspan font-size="6.5" dy="-5.0">2</tspan></text>
<text x="46.4" y="385.4" font-size="10" text-anchor="end" fill="#1a1a1a">10<tspan font-size="6.5" dy="-5.0">3</tspan></text>
<text x="46.4" y="349.6" font-size="10" text-anchor="end" fill="#1a1a1a">10<tspan font-size="6.5" dy="-5.0">4</tspan></text>
<text x="46.4" y="313.8" font-size="10" text-anchor="end" fill="#1a1a1a">10<tspan font-size="6.5" dy="-5.0">5</tspan></text>
<text x="46.4" y="278" font-size="10" text-anchor="end" fill="#1a1a1a">10<tspan font-size="6.5" dy="-5.0">6</tspan></text>
<text x="52.9" y="504.4" font-size="10" text-anchor="middle">10<tspan font-size="6.5" dy="-4.4">&#8722;2</tspan></text>
<text x="91.17" y="504.4" font-size="10" text-anchor="middle">10<tspan font-size="6.5" dy="-4.4">&#8722;1</tspan></text>
<text x="129.44" y="504.4" font-size="10" text-anchor="middle">10<tspan font-size="6.5" dy="-4.4">0</tspan></text>
<text x="167.71" y="504.4" font-size="10" text-anchor="middle">10<tspan font-size="6.5" dy="-4.4">1</tspan></text>
<text x="205.99" y="504.4" font-size="10" text-anchor="middle">10<tspan font-size="6.5" dy="-4.4">2</tspan></text>
<text x="244.26" y="504.4" font-size="10" text-anchor="middle">10<tspan font-size="6.5" dy="-4.4">3</tspan></text>
<text x="282.53" y="504.4" font-size="10" text-anchor="middle">10<tspan font-size="6.5" dy="-4.4">4</tspan></text>
<text x="320.8" y="504.4" font-size="10" text-anchor="middle">10<tspan font-size="6.5" dy="-4.4">5</tspan></text>
<text x="186.2" y="519.6" font-size="10.4" text-anchor="middle" fill="#1a1a1a">frequency / Hz</text>
<text x="26" y="381.9" font-size="10.2" text-anchor="middle" transform="rotate(-90 26 381.9)">impedance / &#937; cm<tspan font-size="6.6" dy="-4">2</tspan></text>
<text x="2.15" y="290.6" font-size="17.5" text-anchor="start" fill="#1a1a1a">c<tspan dx="1.1">)</tspan></text>
<path d="M219.25 281.15L221.95 283.85M219.25 283.85L221.95 281.15" stroke="#111" stroke-width="1.15"/>
<text x="235.8" y="286.1" font-size="10.3" text-anchor="start" fill="#1a1a1a">original</text>
<line x1="278.3" y1="282.5" x2="300.5" y2="282.5" stroke="#9a9a9a" stroke-width="1"/>
<text x="304.2" y="286.1" font-size="10.3" text-anchor="start" fill="#1a1a1a">fit</text>
<path d="M219.25 306.95L221.95 309.65M219.25 309.65L221.95 306.95" stroke="#440154" stroke-width="1.15"/>
<text x="255.2" y="311.8" font-size="10.3" text-anchor="end" fill="#1a1a1a">0 d</text>
<path d="M219.25 319.65L221.95 322.35M219.25 322.35L221.95 319.65" stroke="#3e4a89" stroke-width="1.15"/>
<text x="255.2" y="324.5" font-size="10.3" text-anchor="end" fill="#1a1a1a">7 d</text>
<path d="M219.25 332.35L221.95 335.05M219.25 335.05L221.95 332.35" stroke="#25858e" stroke-width="1.15"/>
<text x="255.2" y="337.2" font-size="10.3" text-anchor="end" fill="#1a1a1a">14 d</text>
<path d="M219.25 345.05L221.95 347.75M219.25 347.75L221.95 345.05" stroke="#3dbc74" stroke-width="1.15"/>
<text x="255.2" y="349.9" font-size="10.3" text-anchor="end" fill="#1a1a1a">21 d</text>
<path d="M219.25 357.75L221.95 360.45M219.25 360.45L221.95 357.75" stroke="#bddf26" stroke-width="1.15"/>
<text x="255.2" y="362.6" font-size="10.3" text-anchor="end" fill="#1a1a1a">28 d</text>
<defs><clipPath id="clipd"><rect x="395.5" y="274.5" width="262.05" height="210.9"/></clipPath></defs>
<g clip-path="url(#clipd)"><polyline points="395.5,343.68 396.38,341.89 397.25,340.16 398.13,338.47 399.01,336.85 399.88,335.27 400.76,333.76 401.63,332.29 402.51,330.88 403.39,329.52 404.26,328.21 405.14,326.96 406.02,325.75 406.89,324.6 407.77,323.49 408.65,322.43 409.52,321.41 410.4,320.44 411.28,319.51 412.15,318.62 413.03,317.77 413.9,316.95 414.78,316.18 415.66,315.44 416.53,314.73 417.41,314.06 418.29,313.41 419.16,312.8 420.04,312.22 420.92,311.66 421.79,311.13 422.67,310.62 423.55,310.14 424.42,309.68 425.3,309.25 426.17,308.83 427.05,308.43 427.93,308.06 428.8,307.7 429.68,307.36 430.56,307.03 431.43,306.72 432.31,306.43 433.19,306.15 434.06,305.88 434.94,305.63 435.82,305.39 436.69,305.16 437.57,304.94 438.44,304.73 439.32,304.53 440.2,304.35 441.07,304.17 441.95,304 442.83,303.84 443.7,303.68 444.58,303.54 445.46,303.4 446.33,303.27 447.21,303.14 448.09,303.02 448.96,302.91 449.84,302.8 450.71,302.7 451.59,302.6 452.47,302.51 453.34,302.42 454.22,302.34 455.1,302.26 455.97,302.19 456.85,302.11 457.73,302.05 458.6,301.98 459.48,301.92 460.36,301.86 461.23,301.81 462.11,301.76 462.98,301.71 463.86,301.66 464.74,301.62 465.61,301.58 466.49,301.54 467.37,301.5 468.24,301.46 469.12,301.43 470,301.4 470.87,301.37 471.75,301.34 472.63,301.32 473.5,301.29 474.38,301.27 475.25,301.25 476.13,301.23 477.01,301.21 477.88,301.19 478.76,301.17 479.64,301.16 480.51,301.14 481.39,301.13 482.27,301.12 483.14,301.11 484.02,301.1 484.89,301.09 485.77,301.08 486.65,301.08 487.52,301.07 488.4,301.07 489.28,301.06 490.15,301.06 491.03,301.06 491.91,301.06 492.78,301.06 493.66,301.06 494.54,301.06 495.41,301.06 496.29,301.07 497.16,301.07 498.04,301.08 498.92,301.08 499.79,301.09 500.67,301.1 501.55,301.11 502.42,301.12 503.3,301.13 504.18,301.14 505.05,301.16 505.93,301.17 506.81,301.19 507.68,301.21 508.56,301.23 509.43,301.25 510.31,301.27 511.19,301.29 512.06,301.32 512.94,301.34 513.82,301.37 514.69,301.4 515.57,301.43 516.45,301.47 517.32,301.5 518.2,301.54 519.08,301.58 519.95,301.62 520.83,301.67 521.7,301.71 522.58,301.76 523.46,301.81 524.33,301.87 525.21,301.93 526.09,301.99 526.96,302.05 527.84,302.12 528.72,302.19 529.59,302.27 530.47,302.35 531.35,302.43 532.22,302.52 533.1,302.61 533.97,302.71 534.85,302.81 535.73,302.92 536.6,303.03 537.48,303.15 538.36,303.28 539.23,303.41 540.11,303.55 540.99,303.7 541.86,303.85 542.74,304.01 543.62,304.18 544.49,304.36 545.37,304.55 546.24,304.75 547.12,304.96 548,305.17 548.87,305.41 549.75,305.65 550.63,305.9 551.5,306.17 552.38,306.45 553.26,306.75 554.13,307.06 555.01,307.38 555.89,307.73 556.76,308.09 557.64,308.46 558.51,308.86 559.39,309.28 560.27,309.72 561.14,310.18 562.02,310.66 562.9,311.17 563.77,311.7 564.65,312.26 565.53,312.85 566.4,313.46 567.28,314.11 568.16,314.79 569.03,315.5 569.91,316.24 570.78,317.02 571.66,317.83 572.54,318.69 573.41,319.58 574.29,320.51 575.17,321.49 576.04,322.51 576.92,323.58 577.8,324.69 578.67,325.85 579.55,327.06 580.42,328.32 581.3,329.63 582.18,330.99 583.05,332.41 583.93,333.88 584.81,335.4 585.68,336.98 586.56,338.61 587.44,340.29 588.31,342.03 589.19,343.82 590.07,345.66 590.94,347.55 591.82,349.49 592.69,351.47 593.57,353.49 594.45,355.56 595.32,357.65 596.2,359.78 597.08,361.94 597.95,364.12 598.83,366.31 599.71,368.52 600.58,370.74 601.46,372.96 602.34,375.18 603.21,377.39 604.09,379.58 604.96,381.77 605.84,383.92 606.72,386.05 607.59,388.16 608.47,390.22 609.35,392.25 610.22,394.23 611.1,396.18 611.98,398.07 612.85,399.92 613.73,401.71 614.61,403.45 615.48,405.14 616.36,406.78 617.23,408.36 618.11,409.89 618.99,411.37 619.86,412.79 620.74,414.16 621.62,415.47 622.49,416.74 623.37,417.95 624.25,419.12 625.12,420.23 626,421.3 626.88,422.33 627.75,423.31 628.63,424.25 629.5,425.15 630.38,426 631.26,426.82 632.13,427.6 633.01,428.35 633.89,429.06 634.76,429.74 635.64,430.39 636.52,431.01 637.39,431.6 638.27,432.16 639.15,432.7 640.02,433.21 640.9,433.69 641.77,434.16 642.65,434.6 643.53,435.02 644.4,435.42 645.28,435.8 646.16,436.16 647.03,436.5 647.91,436.83 648.79,437.15 649.66,437.44 650.54,437.73 651.42,437.99 652.29,438.25 653.17,438.49 654.04,438.73 654.92,438.95 655.8,439.16 656.67,439.36 657.55,439.55" fill="none" stroke="#440154" stroke-width="0.8" stroke-linejoin="round"/><polyline points="395.5,312.8 396.38,312 397.25,311.23 398.13,310.5 399.01,309.81 399.88,309.15 400.76,308.52 401.63,307.92 402.51,307.35 403.39,306.81 404.26,306.29 405.14,305.8 406.02,305.34 406.89,304.9 407.77,304.48 408.65,304.08 409.52,303.7 410.4,303.34 411.28,302.99 412.15,302.67 413.03,302.36 413.9,302.06 414.78,301.79 415.66,301.52 416.53,301.27 417.41,301.03 418.29,300.8 419.16,300.59 420.04,300.38 420.92,300.19 421.79,300 422.67,299.83 423.55,299.66 424.42,299.5 425.3,299.35 426.17,299.21 427.05,299.08 427.93,298.95 428.8,298.83 429.68,298.71 430.56,298.6 431.43,298.5 432.31,298.4 433.19,298.3 434.06,298.21 434.94,298.13 435.82,298.05 436.69,297.97 437.57,297.9 438.44,297.83 439.32,297.77 440.2,297.7 441.07,297.65 441.95,297.59 442.83,297.54 443.7,297.49 444.58,297.44 445.46,297.4 446.33,297.35 447.21,297.31 448.09,297.27 448.96,297.24 449.84,297.2 450.71,297.17 451.59,297.14 452.47,297.11 453.34,297.08 454.22,297.06 455.1,297.03 455.97,297.01 456.85,296.99 457.73,296.96 458.6,296.94 459.48,296.93 460.36,296.91 461.23,296.89 462.11,296.88 462.98,296.86 463.86,296.85 464.74,296.83 465.61,296.82 466.49,296.81 467.37,296.8 468.24,296.79 469.12,296.78 470,296.77 470.87,296.76 471.75,296.76 472.63,296.75 473.5,296.74 474.38,296.74 475.25,296.73 476.13,296.73 477.01,296.72 477.88,296.72 478.76,296.72 479.64,296.72 480.51,296.71 481.39,296.71 482.27,296.71 483.14,296.71 484.02,296.71 484.89,296.71 485.77,296.71 486.65,296.71 487.52,296.71 488.4,296.72 489.28,296.72 490.15,296.72 491.03,296.73 491.91,296.73 492.78,296.74 493.66,296.74 494.54,296.75 495.41,296.75 496.29,296.76 497.16,296.77 498.04,296.78 498.92,296.79 499.79,296.8 500.67,296.81 501.55,296.82 502.42,296.83 503.3,296.84 504.18,296.86 505.05,296.87 505.93,296.88 506.81,296.9 507.68,296.92 508.56,296.94 509.43,296.96 510.31,296.98 511.19,297 512.06,297.02 512.94,297.05 513.82,297.07 514.69,297.1 515.57,297.13 516.45,297.16 517.32,297.19 518.2,297.22 519.08,297.26 519.95,297.3 520.83,297.34 521.7,297.38 522.58,297.42 523.46,297.47 524.33,297.52 525.21,297.57 526.09,297.62 526.96,297.68 527.84,297.74 528.72,297.8 529.59,297.87 530.47,297.94 531.35,298.02 532.22,298.1 533.1,298.18 533.97,298.27 534.85,298.36 535.73,298.45 536.6,298.56 537.48,298.66 538.36,298.78 539.23,298.9 540.11,299.02 540.99,299.16 541.86,299.29 542.74,299.44 543.62,299.6 544.49,299.76 545.37,299.93 546.24,300.11 547.12,300.3 548,300.5 548.87,300.71 549.75,300.94 550.63,301.17 551.5,301.42 552.38,301.68 553.26,301.95 554.13,302.24 555.01,302.54 555.89,302.86 556.76,303.2 557.64,303.55 558.51,303.92 559.39,304.31 560.27,304.72 561.14,305.16 562.02,305.61 562.9,306.09 563.77,306.6 564.65,307.13 565.53,307.68 566.4,308.27 567.28,308.89 568.16,309.53 569.03,310.22 569.91,310.93 570.78,311.68 571.66,312.47 572.54,313.3 573.41,314.16 574.29,315.08 575.17,316.03 576.04,317.03 576.92,318.08 577.8,319.17 578.67,320.32 579.55,321.52 580.42,322.77 581.3,324.08 582.18,325.45 583.05,326.87 583.93,328.35 584.81,329.9 585.68,331.5 586.56,333.16 587.44,334.88 588.31,336.67 589.19,338.51 590.07,340.41 590.94,342.38 591.82,344.39 592.69,346.46 593.57,348.58 594.45,350.75 595.32,352.96 596.2,355.22 597.08,357.5 597.95,359.82 598.83,362.17 599.71,364.53 600.58,366.91 601.46,369.29 602.34,371.67 603.21,374.06 604.09,376.43 604.96,378.78 605.84,381.11 606.72,383.41 607.59,385.68 608.47,387.92 609.35,390.11 610.22,392.25 611.1,394.35 611.98,396.39 612.85,398.38 613.73,400.31 614.61,402.19 615.48,404 616.36,405.75 617.23,407.44 618.11,409.08 618.99,410.65 619.86,412.16 620.74,413.61 621.62,415.01 622.49,416.34 623.37,417.62 624.25,418.85 625.12,420.02 626,421.14 626.88,422.21 627.75,423.24 628.63,424.21 629.5,425.15 630.38,426.04 631.26,426.88 632.13,427.69 633.01,428.46 633.89,429.19 634.76,429.89 635.64,430.55 636.52,431.18 637.39,431.79 638.27,432.36 639.15,432.9 640.02,433.42 640.9,433.91 641.77,434.38 642.65,434.82 643.53,435.24 644.4,435.65 645.28,436.03 646.16,436.39 647.03,436.73 647.91,437.06 648.79,437.37 649.66,437.67 650.54,437.95 651.42,438.21 652.29,438.47 653.17,438.71 654.04,438.93 654.92,439.15 655.8,439.36 656.67,439.55 657.55,439.74" fill="none" stroke="#3e4a89" stroke-width="0.8" stroke-linejoin="round"/><polyline points="395.5,314.49 396.38,313.61 397.25,312.77 398.13,311.97 399.01,311.21 399.88,310.49 400.76,309.8 401.63,309.14 402.51,308.52 403.39,307.92 404.26,307.36 405.14,306.82 406.02,306.31 406.89,305.82 407.77,305.36 408.65,304.92 409.52,304.5 410.4,304.11 411.28,303.73 412.15,303.37 413.03,303.03 413.9,302.71 414.78,302.4 415.66,302.11 416.53,301.83 417.41,301.57 418.29,301.32 419.16,301.08 420.04,300.85 420.92,300.64 421.79,300.44 422.67,300.24 423.55,300.06 424.42,299.89 425.3,299.72 426.17,299.56 427.05,299.41 427.93,299.27 428.8,299.14 429.68,299.01 430.56,298.89 431.43,298.77 432.31,298.66 433.19,298.56 434.06,298.46 434.94,298.37 435.82,298.28 436.69,298.2 437.57,298.12 438.44,298.04 439.32,297.97 440.2,297.9 441.07,297.84 441.95,297.78 442.83,297.72 443.7,297.66 444.58,297.61 445.46,297.56 446.33,297.51 447.21,297.47 448.09,297.43 448.96,297.38 449.84,297.35 450.71,297.31 451.59,297.28 452.47,297.24 453.34,297.21 454.22,297.18 455.1,297.16 455.97,297.13 456.85,297.11 457.73,297.08 458.6,297.06 459.48,297.04 460.36,297.02 461.23,297 462.11,296.98 462.98,296.97 463.86,296.95 464.74,296.94 465.61,296.92 466.49,296.91 467.37,296.9 468.24,296.89 469.12,296.88 470,296.87 470.87,296.86 471.75,296.85 472.63,296.84 473.5,296.84 474.38,296.83 475.25,296.82 476.13,296.82 477.01,296.81 477.88,296.81 478.76,296.81 479.64,296.8 480.51,296.8 481.39,296.8 482.27,296.8 483.14,296.79 484.02,296.79 484.89,296.79 485.77,296.79 486.65,296.8 487.52,296.8 488.4,296.8 489.28,296.8 490.15,296.8 491.03,296.81 491.91,296.81 492.78,296.82 493.66,296.82 494.54,296.83 495.41,296.83 496.29,296.84 497.16,296.85 498.04,296.86 498.92,296.86 499.79,296.87 500.67,296.88 501.55,296.89 502.42,296.91 503.3,296.92 504.18,296.93 505.05,296.95 505.93,296.96 506.81,296.98 507.68,296.99 508.56,297.01 509.43,297.03 510.31,297.05 511.19,297.07 512.06,297.1 512.94,297.12 513.82,297.14 514.69,297.17 515.57,297.2 516.45,297.23 517.32,297.26 518.2,297.29 519.08,297.33 519.95,297.37 520.83,297.41 521.7,297.45 522.58,297.49 523.46,297.54 524.33,297.59 525.21,297.64 526.09,297.69 526.96,297.75 527.84,297.81 528.72,297.87 529.59,297.94 530.47,298.01 531.35,298.08 532.22,298.16 533.1,298.24 533.97,298.33 534.85,298.42 535.73,298.52 536.6,298.62 537.48,298.72 538.36,298.84 539.23,298.95 540.11,299.08 540.99,299.21 541.86,299.35 542.74,299.49 543.62,299.65 544.49,299.81 545.37,299.98 546.24,300.16 547.12,300.35 548,300.54 548.87,300.75 549.75,300.97 550.63,301.21 551.5,301.45 552.38,301.71 553.26,301.98 554.13,302.26 555.01,302.56 555.89,302.88 556.76,303.21 557.64,303.56 558.51,303.93 559.39,304.32 560.27,304.72 561.14,305.15 562.02,305.61 562.9,306.08 563.77,306.58 564.65,307.11 565.53,307.66 566.4,308.24 567.28,308.85 568.16,309.49 569.03,310.16 569.91,310.87 570.78,311.62 571.66,312.4 572.54,313.22 573.41,314.08 574.29,314.98 575.17,315.92 576.04,316.91 576.92,317.95 577.8,319.04 578.67,320.17 579.55,321.36 580.42,322.61 581.3,323.9 582.18,325.26 583.05,326.67 583.93,328.14 584.81,329.67 585.68,331.25 586.56,332.9 587.44,334.61 588.31,336.38 589.19,338.21 590.07,340.1 590.94,342.05 591.82,344.05 592.69,346.11 593.57,348.22 594.45,350.38 595.32,352.58 596.2,354.82 597.08,357.1 597.95,359.41 598.83,361.74 599.71,364.1 600.58,366.47 601.46,368.85 602.34,371.23 603.21,373.61 604.09,375.98 604.96,378.34 605.84,380.67 606.72,382.98 607.59,385.25 608.47,387.49 609.35,389.69 610.22,391.84 611.1,393.94 611.98,395.99 612.85,397.99 613.73,399.93 614.61,401.82 615.48,403.64 616.36,405.4 617.23,407.11 618.11,408.75 618.99,410.33 619.86,411.86 620.74,413.32 621.62,414.72 622.49,416.07 623.37,417.36 624.25,418.6 625.12,419.78 626,420.91 626.88,421.99 627.75,423.03 628.63,424.01 629.5,424.95 630.38,425.85 631.26,426.71 632.13,427.52 633.01,428.3 633.89,429.04 634.76,429.74 635.64,430.41 636.52,431.05 637.39,431.66 638.27,432.23 639.15,432.78 640.02,433.31 640.9,433.8 641.77,434.28 642.65,434.72 643.53,435.15 644.4,435.56 645.28,435.94 646.16,436.31 647.03,436.66 647.91,436.99 648.79,437.3 649.66,437.6 650.54,437.88 651.42,438.15 652.29,438.41 653.17,438.65 654.04,438.88 654.92,439.1 655.8,439.31 656.67,439.51 657.55,439.7" fill="none" stroke="#25858e" stroke-width="0.8" stroke-linejoin="round"/><polyline points="395.5,315.5 396.38,314.58 397.25,313.7 398.13,312.86 399.01,312.06 399.88,311.3 400.76,310.58 401.63,309.89 402.51,309.23 403.39,308.61 404.26,308.01 405.14,307.44 406.02,306.91 406.89,306.4 407.77,305.91 408.65,305.45 409.52,305.01 410.4,304.59 411.28,304.19 412.15,303.81 413.03,303.46 413.9,303.12 414.78,302.79 415.66,302.48 416.53,302.19 417.41,301.91 418.29,301.65 419.16,301.4 420.04,301.16 420.92,300.94 421.79,300.72 422.67,300.52 423.55,300.33 424.42,300.14 425.3,299.97 426.17,299.8 427.05,299.64 427.93,299.5 428.8,299.35 429.68,299.22 430.56,299.09 431.43,298.97 432.31,298.85 433.19,298.75 434.06,298.64 434.94,298.54 435.82,298.45 436.69,298.36 437.57,298.28 438.44,298.2 439.32,298.12 440.2,298.05 441.07,297.98 441.95,297.92 442.83,297.85 443.7,297.8 444.58,297.74 445.46,297.69 446.33,297.64 447.21,297.59 448.09,297.55 448.96,297.5 449.84,297.46 450.71,297.43 451.59,297.39 452.47,297.35 453.34,297.32 454.22,297.29 455.1,297.26 455.97,297.24 456.85,297.21 457.73,297.18 458.6,297.16 459.48,297.14 460.36,297.12 461.23,297.1 462.11,297.08 462.98,297.06 463.86,297.05 464.74,297.03 465.61,297.02 466.49,297 467.37,296.99 468.24,296.98 469.12,296.97 470,296.96 470.87,296.95 471.75,296.94 472.63,296.93 473.5,296.92 474.38,296.91 475.25,296.91 476.13,296.9 477.01,296.9 477.88,296.89 478.76,296.89 479.64,296.88 480.51,296.88 481.39,296.88 482.27,296.88 483.14,296.88 484.02,296.88 484.89,296.87 485.77,296.87 486.65,296.88 487.52,296.88 488.4,296.88 489.28,296.88 490.15,296.88 491.03,296.89 491.91,296.89 492.78,296.89 493.66,296.9 494.54,296.9 495.41,296.91 496.29,296.92 497.16,296.92 498.04,296.93 498.92,296.94 499.79,296.95 500.67,296.96 501.55,296.97 502.42,296.98 503.3,296.99 504.18,297.01 505.05,297.02 505.93,297.04 506.81,297.05 507.68,297.07 508.56,297.09 509.43,297.11 510.31,297.13 511.19,297.15 512.06,297.17 512.94,297.19 513.82,297.22 514.69,297.24 515.57,297.27 516.45,297.3 517.32,297.33 518.2,297.37 519.08,297.4 519.95,297.44 520.83,297.48 521.7,297.52 522.58,297.56 523.46,297.61 524.33,297.66 525.21,297.71 526.09,297.76 526.96,297.82 527.84,297.88 528.72,297.94 529.59,298 530.47,298.07 531.35,298.15 532.22,298.23 533.1,298.31 533.97,298.39 534.85,298.48 535.73,298.58 536.6,298.68 537.48,298.78 538.36,298.9 539.23,299.01 540.11,299.14 540.99,299.27 541.86,299.4 542.74,299.55 543.62,299.7 544.49,299.86 545.37,300.03 546.24,300.21 547.12,300.39 548,300.59 548.87,300.8 549.75,301.02 550.63,301.25 551.5,301.49 552.38,301.75 553.26,302.01 554.13,302.3 555.01,302.59 555.89,302.91 556.76,303.24 557.64,303.58 558.51,303.95 559.39,304.33 560.27,304.74 561.14,305.16 562.02,305.61 562.9,306.08 563.77,306.58 564.65,307.1 565.53,307.65 566.4,308.22 567.28,308.83 568.16,309.47 569.03,310.13 569.91,310.84 570.78,311.57 571.66,312.35 572.54,313.16 573.41,314.01 574.29,314.91 575.17,315.85 576.04,316.83 576.92,317.86 577.8,318.94 578.67,320.06 579.55,321.24 580.42,322.47 581.3,323.76 582.18,325.1 583.05,326.5 583.93,327.96 584.81,329.48 585.68,331.06 586.56,332.7 587.44,334.39 588.31,336.15 589.19,337.97 590.07,339.85 590.94,341.78 591.82,343.78 592.69,345.82 593.57,347.92 594.45,350.07 595.32,352.26 596.2,354.49 597.08,356.76 597.95,359.06 598.83,361.39 599.71,363.74 600.58,366.11 601.46,368.48 602.34,370.86 603.21,373.24 604.09,375.61 604.96,377.96 605.84,380.3 606.72,382.61 607.59,384.88 608.47,387.13 609.35,389.33 610.22,391.49 611.1,393.59 611.98,395.65 612.85,397.66 613.73,399.61 614.61,401.5 615.48,403.33 616.36,405.1 617.23,406.82 618.11,408.47 618.99,410.06 619.86,411.59 620.74,413.06 621.62,414.48 622.49,415.83 623.37,417.13 624.25,418.38 625.12,419.57 626,420.71 626.88,421.8 627.75,422.84 628.63,423.83 629.5,424.78 630.38,425.69 631.26,426.55 632.13,427.37 633.01,428.16 633.89,428.9 634.76,429.61 635.64,430.29 636.52,430.93 637.39,431.54 638.27,432.13 639.15,432.68 640.02,433.21 640.9,433.71 641.77,434.19 642.65,434.64 643.53,435.07 644.4,435.48 645.28,435.87 646.16,436.24 647.03,436.59 647.91,436.92 648.79,437.24 649.66,437.54 650.54,437.83 651.42,438.1 652.29,438.36 653.17,438.6 654.04,438.84 654.92,439.06 655.8,439.27 656.67,439.47 657.55,439.66" fill="none" stroke="#3dbc74" stroke-width="0.8" stroke-linejoin="round"/><polyline points="395.5,317.02 396.38,316.03 397.25,315.1 398.13,314.2 399.01,313.35 399.88,312.53 400.76,311.76 401.63,311.02 402.51,310.32 403.39,309.65 404.26,309.01 405.14,308.41 406.02,307.83 406.89,307.28 407.77,306.76 408.65,306.26 409.52,305.79 410.4,305.34 411.28,304.92 412.15,304.51 413.03,304.13 413.9,303.76 414.78,303.41 415.66,303.08 416.53,302.77 417.41,302.47 418.29,302.18 419.16,301.92 420.04,301.66 420.92,301.42 421.79,301.19 422.67,300.97 423.55,300.76 424.42,300.56 425.3,300.37 426.17,300.2 427.05,300.03 427.93,299.87 428.8,299.71 429.68,299.57 430.56,299.43 431.43,299.3 432.31,299.18 433.19,299.06 434.06,298.95 434.94,298.84 435.82,298.74 436.69,298.64 437.57,298.55 438.44,298.47 439.32,298.39 440.2,298.31 441.07,298.23 441.95,298.16 442.83,298.1 443.7,298.03 444.58,297.98 445.46,297.92 446.33,297.86 447.21,297.81 448.09,297.77 448.96,297.72 449.84,297.68 450.71,297.63 451.59,297.6 452.47,297.56 453.34,297.52 454.22,297.49 455.1,297.46 455.97,297.43 456.85,297.4 457.73,297.37 458.6,297.35 459.48,297.33 460.36,297.3 461.23,297.28 462.11,297.26 462.98,297.24 463.86,297.22 464.74,297.21 465.61,297.19 466.49,297.18 467.37,297.16 468.24,297.15 469.12,297.14 470,297.13 470.87,297.12 471.75,297.11 472.63,297.1 473.5,297.09 474.38,297.08 475.25,297.07 476.13,297.07 477.01,297.06 477.88,297.06 478.76,297.05 479.64,297.05 480.51,297.04 481.39,297.04 482.27,297.04 483.14,297.04 484.02,297.03 484.89,297.03 485.77,297.03 486.65,297.03 487.52,297.03 488.4,297.03 489.28,297.04 490.15,297.04 491.03,297.04 491.91,297.05 492.78,297.05 493.66,297.05 494.54,297.06 495.41,297.06 496.29,297.07 497.16,297.08 498.04,297.09 498.92,297.09 499.79,297.1 500.67,297.11 501.55,297.12 502.42,297.13 503.3,297.15 504.18,297.16 505.05,297.17 505.93,297.19 506.81,297.2 507.68,297.22 508.56,297.24 509.43,297.25 510.31,297.27 511.19,297.29 512.06,297.32 512.94,297.34 513.82,297.36 514.69,297.39 515.57,297.42 516.45,297.45 517.32,297.48 518.2,297.51 519.08,297.55 519.95,297.58 520.83,297.62 521.7,297.66 522.58,297.7 523.46,297.75 524.33,297.79 525.21,297.84 526.09,297.9 526.96,297.95 527.84,298.01 528.72,298.07 529.59,298.14 530.47,298.21 531.35,298.28 532.22,298.36 533.1,298.44 533.97,298.52 534.85,298.61 535.73,298.7 536.6,298.8 537.48,298.91 538.36,299.01 539.23,299.13 540.11,299.25 540.99,299.38 541.86,299.51 542.74,299.66 543.62,299.81 544.49,299.96 545.37,300.13 546.24,300.3 547.12,300.49 548,300.68 548.87,300.89 549.75,301.1 550.63,301.33 551.5,301.57 552.38,301.82 553.26,302.08 554.13,302.36 555.01,302.65 555.89,302.96 556.76,303.28 557.64,303.62 558.51,303.98 559.39,304.36 560.27,304.76 561.14,305.18 562.02,305.62 562.9,306.08 563.77,306.57 564.65,307.08 565.53,307.62 566.4,308.18 567.28,308.78 568.16,309.4 569.03,310.06 569.91,310.75 570.78,311.47 571.66,312.23 572.54,313.03 573.41,313.87 574.29,314.75 575.17,315.67 576.04,316.64 576.92,317.65 577.8,318.71 578.67,319.82 579.55,320.98 580.42,322.19 581.3,323.45 582.18,324.78 583.05,326.15 583.93,327.59 584.81,329.08 585.68,330.64 586.56,332.25 587.44,333.92 588.31,335.66 589.19,337.45 590.07,339.3 590.94,341.21 591.82,343.18 592.69,345.2 593.57,347.28 594.45,349.4 595.32,351.57 596.2,353.79 597.08,356.04 597.95,358.32 598.83,360.64 599.71,362.97 600.58,365.33 601.46,367.69 602.34,370.07 603.21,372.44 604.09,374.81 604.96,377.16 605.84,379.5 606.72,381.81 607.59,384.09 608.47,386.34 609.35,388.55 610.22,390.72 611.1,392.85 611.98,394.92 612.85,396.94 613.73,398.91 614.61,400.82 615.48,402.67 616.36,404.46 617.23,406.19 618.11,407.86 618.99,409.47 619.86,411.02 620.74,412.52 621.62,413.95 622.49,415.33 623.37,416.65 624.25,417.91 625.12,419.12 626,420.28 626.88,421.38 627.75,422.44 628.63,423.45 629.5,424.42 630.38,425.34 631.26,426.22 632.13,427.05 633.01,427.85 633.89,428.61 634.76,429.33 635.64,430.02 636.52,430.68 637.39,431.3 638.27,431.9 639.15,432.46 640.02,433 640.9,433.51 641.77,433.99 642.65,434.46 643.53,434.9 644.4,435.31 645.28,435.71 646.16,436.09 647.03,436.45 647.91,436.79 648.79,437.11 649.66,437.42 650.54,437.71 651.42,437.99 652.29,438.25 653.17,438.5 654.04,438.74 654.92,438.97 655.8,439.18 656.67,439.38 657.55,439.58" fill="none" stroke="#bddf26" stroke-width="0.8" stroke-linejoin="round"/><path d="M393.9 340.73L397.1 343.93M393.9 343.93L397.1 340.73" stroke="#440154" stroke-width="0.95"/><path d="M397.64 334.82L400.84 338.02M397.64 338.02L400.84 334.82" stroke="#440154" stroke-width="0.95"/><path d="M401.39 328.53L404.59 331.73M401.39 331.73L404.59 328.53" stroke="#440154" stroke-width="0.95"/><path d="M405.13 323.21L408.33 326.41M405.13 326.41L408.33 323.21" stroke="#440154" stroke-width="0.95"/><path d="M408.87 318.75L412.07 321.95M408.87 321.95L412.07 318.75" stroke="#440154" stroke-width="0.95"/><path d="M412.62 315.07L415.82 318.27M412.62 318.27L415.82 315.07" stroke="#440154" stroke-width="0.95"/><path d="M416.36 312.05L419.56 315.25M416.36 315.25L419.56 312.05" stroke="#440154" stroke-width="0.95"/><path d="M420.1 309.58L423.31 312.78M420.1 312.78L423.31 309.58" stroke="#440154" stroke-width="0.95"/><path d="M423.85 307.57L427.05 310.77M423.85 310.77L427.05 307.57" stroke="#440154" stroke-width="0.95"/><path d="M427.59 305.94L430.79 309.14M427.59 309.14L430.79 305.94" stroke="#440154" stroke-width="0.95"/><path d="M431.34 304.63L434.54 307.83M431.34 307.83L434.54 304.63" stroke="#440154" stroke-width="0.95"/><path d="M435.08 303.56L438.28 306.76M435.08 306.76L438.28 303.56" stroke="#440154" stroke-width="0.95"/><path d="M438.82 302.7L442.02 305.9M438.82 305.9L442.02 302.7" stroke="#440154" stroke-width="0.95"/><path d="M442.57 302.01L445.77 305.21M442.57 305.21L445.77 302.01" stroke="#440154" stroke-width="0.95"/><path d="M446.31 301.45L449.51 304.65M446.31 304.65L449.51 301.45" stroke="#440154" stroke-width="0.95"/><path d="M450.05 301L453.25 304.2M450.05 304.2L453.25 301" stroke="#440154" stroke-width="0.95"/><path d="M453.8 300.64L457 303.84M453.8 303.84L457 300.64" stroke="#440154" stroke-width="0.95"/><path d="M457.54 300.35L460.74 303.55M457.54 303.55L460.74 300.35" stroke="#440154" stroke-width="0.95"/><path d="M461.28 300.11L464.48 303.31M461.28 303.31L464.48 300.11" stroke="#440154" stroke-width="0.95"/><path d="M465.03 299.93L468.23 303.13M465.03 303.13L468.23 299.93" stroke="#440154" stroke-width="0.95"/><path d="M468.77 299.79L471.97 302.99M468.77 302.99L471.97 299.79" stroke="#440154" stroke-width="0.95"/><path d="M472.51 299.67L475.72 302.87M472.51 302.87L475.72 299.67" stroke="#440154" stroke-width="0.95"/><path d="M476.26 299.59L479.46 302.79M476.26 302.79L479.46 299.59" stroke="#440154" stroke-width="0.95"/><path d="M480 299.53L483.2 302.73M480 302.73L483.2 299.53" stroke="#440154" stroke-width="0.95"/><path d="M483.75 299.49L486.95 302.69M483.75 302.69L486.95 299.49" stroke="#440154" stroke-width="0.95"/><path d="M487.49 299.46L490.69 302.66M487.49 302.66L490.69 299.46" stroke="#440154" stroke-width="0.95"/><path d="M491.23 299.46L494.43 302.66M491.23 302.66L494.43 299.46" stroke="#440154" stroke-width="0.95"/><path d="M494.98 299.47L498.18 302.67M494.98 302.67L498.18 299.47" stroke="#440154" stroke-width="0.95"/><path d="M498.72 299.5L501.92 302.7M498.72 302.7L501.92 299.5" stroke="#440154" stroke-width="0.95"/><path d="M502.46 299.54L505.66 302.74M502.46 302.74L505.66 299.54" stroke="#440154" stroke-width="0.95"/><path d="M506.21 299.61L509.41 302.81M506.21 302.81L509.41 299.61" stroke="#440154" stroke-width="0.95"/><path d="M509.95 299.7L513.15 302.9M509.95 302.9L513.15 299.7" stroke="#440154" stroke-width="0.95"/><path d="M513.69 299.82L516.89 303.02M513.69 303.02L516.89 299.82" stroke="#440154" stroke-width="0.95"/><path d="M517.44 299.98L520.64 303.18M517.44 303.18L520.64 299.98" stroke="#440154" stroke-width="0.95"/><path d="M521.18 300.17L524.38 303.37M521.18 303.37L524.38 300.17" stroke="#440154" stroke-width="0.95"/><path d="M524.92 300.42L528.12 303.62M524.92 303.62L528.12 300.42" stroke="#440154" stroke-width="0.95"/><path d="M528.67 300.73L531.87 303.93M528.67 303.93L531.87 300.73" stroke="#440154" stroke-width="0.95"/><path d="M532.41 301.11L535.61 304.31M532.41 304.31L535.61 301.11" stroke="#440154" stroke-width="0.95"/><path d="M536.16 301.59L539.36 304.79M536.16 304.79L539.36 301.59" stroke="#440154" stroke-width="0.95"/><path d="M539.9 302.18L543.1 305.38M539.9 305.38L543.1 302.18" stroke="#440154" stroke-width="0.95"/><path d="M543.64 302.92L546.84 306.12M543.64 306.12L546.84 302.92" stroke="#440154" stroke-width="0.95"/><path d="M547.39 303.84L550.59 307.04M547.39 307.04L550.59 303.84" stroke="#440154" stroke-width="0.95"/><path d="M551.13 304.97L554.33 308.17M551.13 308.17L554.33 304.97" stroke="#440154" stroke-width="0.95"/><path d="M554.87 306.37L558.07 309.57M554.87 309.57L558.07 306.37" stroke="#440154" stroke-width="0.95"/><path d="M558.62 308.09L561.82 311.29M558.62 311.29L561.82 308.09" stroke="#440154" stroke-width="0.95"/><path d="M562.36 310.22L565.56 313.42M562.36 313.42L565.56 310.22" stroke="#440154" stroke-width="0.95"/><path d="M566.1 312.84L569.3 316.04M566.1 316.04L569.3 312.84" stroke="#440154" stroke-width="0.95"/><path d="M569.85 316.04L573.05 319.24M569.85 319.24L573.05 316.04" stroke="#440154" stroke-width="0.95"/><path d="M573.59 319.93L576.79 323.13M573.59 323.13L576.79 319.93" stroke="#440154" stroke-width="0.95"/><path d="M577.33 324.62L580.53 327.82M577.33 327.82L580.53 324.62" stroke="#440154" stroke-width="0.95"/><path d="M581.08 330.23L584.28 333.43M581.08 333.43L584.28 330.23" stroke="#440154" stroke-width="0.95"/><path d="M584.82 336.81L588.02 340.01M584.82 340.01L588.02 336.81" stroke="#440154" stroke-width="0.95"/><path d="M588.57 344.38L591.77 347.58M588.57 347.58L591.77 344.38" stroke="#440154" stroke-width="0.95"/><path d="M592.31 352.85L595.51 356.05M592.31 356.05L595.51 352.85" stroke="#440154" stroke-width="0.95"/><path d="M596.05 362.03L599.25 365.23M596.05 365.23L599.25 362.03" stroke="#440154" stroke-width="0.95"/><path d="M599.8 371.62L603 374.82M599.8 374.82L603 371.62" stroke="#440154" stroke-width="0.95"/><path d="M603.54 381.22L606.74 384.42M603.54 384.42L606.74 381.22" stroke="#440154" stroke-width="0.95"/><path d="M607.28 390.48L610.48 393.68M607.28 393.68L610.48 390.48" stroke="#440154" stroke-width="0.95"/><path d="M611.03 399.11L614.23 402.31M611.03 402.31L614.23 399.11" stroke="#440154" stroke-width="0.95"/><path d="M614.77 406.92L617.97 410.12M614.77 410.12L617.97 406.92" stroke="#440154" stroke-width="0.95"/><path d="M618.51 413.87L621.71 417.07M618.51 417.07L621.71 413.87" stroke="#440154" stroke-width="0.95"/><path d="M622.26 420L625.46 423.2M622.26 423.2L625.46 420" stroke="#440154" stroke-width="0.95"/><path d="M626 425.41L629.2 428.61M626 428.61L629.2 425.41" stroke="#440154" stroke-width="0.95"/><path d="M629.75 430.26L632.95 433.46M629.75 433.46L632.95 430.26" stroke="#440154" stroke-width="0.95"/><path d="M633.49 434.71L636.69 437.91M633.49 437.91L636.69 434.71" stroke="#440154" stroke-width="0.95"/><path d="M637.23 438.94L640.43 442.14M637.23 442.14L640.43 438.94" stroke="#440154" stroke-width="0.95"/><path d="M640.98 443.12L644.18 446.32M640.98 446.32L644.18 443.12" stroke="#440154" stroke-width="0.95"/><path d="M644.72 447.45L647.92 450.65M644.72 450.65L647.92 447.45" stroke="#440154" stroke-width="0.95"/><path d="M648.46 452.12L651.66 455.32M648.46 455.32L651.66 452.12" stroke="#440154" stroke-width="0.95"/><path d="M652.21 457.33L655.41 460.53M652.21 460.53L655.41 457.33" stroke="#440154" stroke-width="0.95"/><path d="M655.95 463.29L659.15 466.49M655.95 466.49L659.15 463.29" stroke="#440154" stroke-width="0.95"/><path d="M393.9 311.2L397.1 314.4M393.9 314.4L397.1 311.2" stroke="#3e4a89" stroke-width="0.95"/><path d="M397.64 308.02L400.84 311.22M397.64 311.22L400.84 308.02" stroke="#3e4a89" stroke-width="0.95"/><path d="M401.39 305.45L404.59 308.65M401.39 308.65L404.59 305.45" stroke="#3e4a89" stroke-width="0.95"/><path d="M405.13 303.38L408.33 306.58M405.13 306.58L408.33 303.38" stroke="#3e4a89" stroke-width="0.95"/><path d="M408.87 301.71L412.07 304.91M408.87 304.91L412.07 301.71" stroke="#3e4a89" stroke-width="0.95"/><path d="M412.62 300.36L415.82 303.56M412.62 303.56L415.82 300.36" stroke="#3e4a89" stroke-width="0.95"/><path d="M416.36 299.29L419.56 302.49M416.36 302.49L419.56 299.29" stroke="#3e4a89" stroke-width="0.95"/><path d="M420.1 298.42L423.31 301.62M420.1 301.62L423.31 298.42" stroke="#3e4a89" stroke-width="0.95"/><path d="M423.85 297.73L427.05 300.93M423.85 300.93L427.05 297.73" stroke="#3e4a89" stroke-width="0.95"/><path d="M427.59 297.17L430.79 300.37M427.59 300.37L430.79 297.17" stroke="#3e4a89" stroke-width="0.95"/><path d="M431.34 296.73L434.54 299.93M431.34 299.93L434.54 296.73" stroke="#3e4a89" stroke-width="0.95"/><path d="M435.08 296.37L438.28 299.57M435.08 299.57L438.28 296.37" stroke="#3e4a89" stroke-width="0.95"/><path d="M438.82 296.09L442.02 299.29M438.82 299.29L442.02 296.09" stroke="#3e4a89" stroke-width="0.95"/><path d="M442.57 295.86L445.77 299.06M442.57 299.06L445.77 295.86" stroke="#3e4a89" stroke-width="0.95"/><path d="M446.31 295.68L449.51 298.88M446.31 298.88L449.51 295.68" stroke="#3e4a89" stroke-width="0.95"/><path d="M450.05 295.54L453.25 298.74M450.05 298.74L453.25 295.54" stroke="#3e4a89" stroke-width="0.95"/><path d="M453.8 295.42L457 298.62M453.8 298.62L457 295.42" stroke="#3e4a89" stroke-width="0.95"/><path d="M457.54 295.33L460.74 298.53M457.54 298.53L460.74 295.33" stroke="#3e4a89" stroke-width="0.95"/><path d="M461.28 295.26L464.48 298.46M461.28 298.46L464.48 295.26" stroke="#3e4a89" stroke-width="0.95"/><path d="M465.03 295.21L468.23 298.41M465.03 298.41L468.23 295.21" stroke="#3e4a89" stroke-width="0.95"/><path d="M468.77 295.17L471.97 298.37M468.77 298.37L471.97 295.17" stroke="#3e4a89" stroke-width="0.95"/><path d="M472.51 295.14L475.72 298.34M472.51 298.34L475.72 295.14" stroke="#3e4a89" stroke-width="0.95"/><path d="M476.26 295.12L479.46 298.32M476.26 298.32L479.46 295.12" stroke="#3e4a89" stroke-width="0.95"/><path d="M480 295.11L483.2 298.31M480 298.31L483.2 295.11" stroke="#3e4a89" stroke-width="0.95"/><path d="M483.75 295.11L486.95 298.31M483.75 298.31L486.95 295.11" stroke="#3e4a89" stroke-width="0.95"/><path d="M487.49 295.12L490.69 298.32M487.49 298.32L490.69 295.12" stroke="#3e4a89" stroke-width="0.95"/><path d="M491.23 295.14L494.43 298.34M491.23 298.34L494.43 295.14" stroke="#3e4a89" stroke-width="0.95"/><path d="M494.98 295.16L498.18 298.36M494.98 298.36L498.18 295.16" stroke="#3e4a89" stroke-width="0.95"/><path d="M498.72 295.2L501.92 298.4M498.72 298.4L501.92 295.2" stroke="#3e4a89" stroke-width="0.95"/><path d="M502.46 295.25L505.66 298.45M502.46 298.45L505.66 295.25" stroke="#3e4a89" stroke-width="0.95"/><path d="M506.21 295.32L509.41 298.52M506.21 298.52L509.41 295.32" stroke="#3e4a89" stroke-width="0.95"/><path d="M509.95 295.41L513.15 298.61M509.95 298.61L513.15 295.41" stroke="#3e4a89" stroke-width="0.95"/><path d="M513.69 295.52L516.89 298.72M513.69 298.72L516.89 295.52" stroke="#3e4a89" stroke-width="0.95"/><path d="M517.44 295.66L520.64 298.86M517.44 298.86L520.64 295.66" stroke="#3e4a89" stroke-width="0.95"/><path d="M521.18 295.83L524.38 299.03M521.18 299.03L524.38 295.83" stroke="#3e4a89" stroke-width="0.95"/><path d="M524.92 296.05L528.12 299.25M524.92 299.25L528.12 296.05" stroke="#3e4a89" stroke-width="0.95"/><path d="M528.67 296.33L531.87 299.53M528.67 299.53L531.87 296.33" stroke="#3e4a89" stroke-width="0.95"/><path d="M532.41 296.67L535.61 299.87M532.41 299.87L535.61 296.67" stroke="#3e4a89" stroke-width="0.95"/><path d="M536.16 297.1L539.36 300.3M536.16 300.3L539.36 297.1" stroke="#3e4a89" stroke-width="0.95"/><path d="M539.9 297.64L543.1 300.84M539.9 300.84L543.1 297.64" stroke="#3e4a89" stroke-width="0.95"/><path d="M543.64 298.31L546.84 301.51M543.64 301.51L546.84 298.31" stroke="#3e4a89" stroke-width="0.95"/><path d="M547.39 299.14L550.59 302.34M547.39 302.34L550.59 299.14" stroke="#3e4a89" stroke-width="0.95"/><path d="M551.13 300.18L554.33 303.38M551.13 303.38L554.33 300.18" stroke="#3e4a89" stroke-width="0.95"/><path d="M554.87 301.48L558.07 304.68M554.87 304.68L558.07 301.48" stroke="#3e4a89" stroke-width="0.95"/><path d="M558.62 303.1L561.82 306.3M558.62 306.3L561.82 303.1" stroke="#3e4a89" stroke-width="0.95"/><path d="M562.36 305.11L565.56 308.31M562.36 308.31L565.56 305.11" stroke="#3e4a89" stroke-width="0.95"/><path d="M566.1 307.6L569.3 310.8M566.1 310.8L569.3 307.6" stroke="#3e4a89" stroke-width="0.95"/><path d="M569.85 310.68L573.05 313.88M569.85 313.88L573.05 310.68" stroke="#3e4a89" stroke-width="0.95"/><path d="M573.59 314.47L576.79 317.67M573.59 317.67L576.79 314.47" stroke="#3e4a89" stroke-width="0.95"/><path d="M577.33 319.09L580.53 322.29M577.33 322.29L580.53 319.09" stroke="#3e4a89" stroke-width="0.95"/><path d="M581.08 324.68L584.28 327.88M581.08 327.88L584.28 324.68" stroke="#3e4a89" stroke-width="0.95"/><path d="M584.82 331.35L588.02 334.55M584.82 334.55L588.02 331.35" stroke="#3e4a89" stroke-width="0.95"/><path d="M588.57 339.12L591.77 342.32M588.57 342.32L591.77 339.12" stroke="#3e4a89" stroke-width="0.95"/><path d="M592.31 347.97L595.51 351.17M592.31 351.17L595.51 347.97" stroke="#3e4a89" stroke-width="0.95"/><path d="M596.05 357.68L599.25 360.88M596.05 360.88L599.25 357.68" stroke="#3e4a89" stroke-width="0.95"/><path d="M599.8 367.92L603 371.12M599.8 371.12L603 367.92" stroke="#3e4a89" stroke-width="0.95"/><path d="M603.54 378.26L606.74 381.46M603.54 381.46L606.74 378.26" stroke="#3e4a89" stroke-width="0.95"/><path d="M607.28 388.26L610.48 391.46M607.28 391.46L610.48 388.26" stroke="#3e4a89" stroke-width="0.95"/><path d="M611.03 397.54L614.23 400.74M611.03 400.74L614.23 397.54" stroke="#3e4a89" stroke-width="0.95"/><path d="M614.77 405.91L617.97 409.11M614.77 409.11L617.97 405.91" stroke="#3e4a89" stroke-width="0.95"/><path d="M618.51 413.29L621.71 416.49M618.51 416.49L621.71 413.29" stroke="#3e4a89" stroke-width="0.95"/><path d="M622.26 419.73L625.46 422.93M622.26 422.93L625.46 419.73" stroke="#3e4a89" stroke-width="0.95"/><path d="M626 425.37L629.2 428.57M626 428.57L629.2 425.37" stroke="#3e4a89" stroke-width="0.95"/><path d="M629.75 430.36L632.95 433.56M629.75 433.56L632.95 430.36" stroke="#3e4a89" stroke-width="0.95"/><path d="M633.49 434.91L636.69 438.11M633.49 438.11L636.69 434.91" stroke="#3e4a89" stroke-width="0.95"/><path d="M637.23 439.18L640.43 442.38M637.23 442.38L640.43 439.18" stroke="#3e4a89" stroke-width="0.95"/><path d="M640.98 443.39L644.18 446.59M640.98 446.59L644.18 443.39" stroke="#3e4a89" stroke-width="0.95"/><path d="M644.72 447.72L647.92 450.92M644.72 450.92L647.92 447.72" stroke="#3e4a89" stroke-width="0.95"/><path d="M648.46 452.38L651.66 455.58M648.46 455.58L651.66 452.38" stroke="#3e4a89" stroke-width="0.95"/><path d="M652.21 457.57L655.41 460.77M652.21 460.77L655.41 457.57" stroke="#3e4a89" stroke-width="0.95"/><path d="M655.95 463.51L659.15 466.71M655.95 466.71L659.15 463.51" stroke="#3e4a89" stroke-width="0.95"/><path d="M393.9 312.89L397.1 316.09M393.9 316.09L397.1 312.89" stroke="#25858e" stroke-width="0.95"/><path d="M397.64 309.41L400.84 312.61M397.64 312.61L400.84 309.41" stroke="#25858e" stroke-width="0.95"/><path d="M401.39 306.59L404.59 309.79M401.39 309.79L404.59 306.59" stroke="#25858e" stroke-width="0.95"/><path d="M405.13 304.31L408.33 307.51M405.13 307.51L408.33 304.31" stroke="#25858e" stroke-width="0.95"/><path d="M408.87 302.47L412.07 305.67M408.87 305.67L412.07 302.47" stroke="#25858e" stroke-width="0.95"/><path d="M412.62 301L415.82 304.2M412.62 304.2L415.82 301" stroke="#25858e" stroke-width="0.95"/><path d="M416.36 299.81L419.56 303.01M416.36 303.01L419.56 299.81" stroke="#25858e" stroke-width="0.95"/><path d="M420.1 298.86L423.31 302.06M420.1 302.06L423.31 298.86" stroke="#25858e" stroke-width="0.95"/><path d="M423.85 298.09L427.05 301.29M423.85 301.29L427.05 298.09" stroke="#25858e" stroke-width="0.95"/><path d="M427.59 297.48L430.79 300.68M427.59 300.68L430.79 297.48" stroke="#25858e" stroke-width="0.95"/><path d="M431.34 296.99L434.54 300.19M431.34 300.19L434.54 296.99" stroke="#25858e" stroke-width="0.95"/><path d="M435.08 296.6L438.28 299.8M435.08 299.8L438.28 296.6" stroke="#25858e" stroke-width="0.95"/><path d="M438.82 296.28L442.02 299.48M438.82 299.48L442.02 296.28" stroke="#25858e" stroke-width="0.95"/><path d="M442.57 296.03L445.77 299.23M442.57 299.23L445.77 296.03" stroke="#25858e" stroke-width="0.95"/><path d="M446.31 295.83L449.51 299.03M446.31 299.03L449.51 295.83" stroke="#25858e" stroke-width="0.95"/><path d="M450.05 295.67L453.25 298.87M450.05 298.87L453.25 295.67" stroke="#25858e" stroke-width="0.95"/><path d="M453.8 295.55L457 298.75M453.8 298.75L457 295.55" stroke="#25858e" stroke-width="0.95"/><path d="M457.54 295.45L460.74 298.65M457.54 298.65L460.74 295.45" stroke="#25858e" stroke-width="0.95"/><path d="M461.28 295.37L464.48 298.57M461.28 298.57L464.48 295.37" stroke="#25858e" stroke-width="0.95"/><path d="M465.03 295.31L468.23 298.51M465.03 298.51L468.23 295.31" stroke="#25858e" stroke-width="0.95"/><path d="M468.77 295.26L471.97 298.46M468.77 298.46L471.97 295.26" stroke="#25858e" stroke-width="0.95"/><path d="M472.51 295.23L475.72 298.43M472.51 298.43L475.72 295.23" stroke="#25858e" stroke-width="0.95"/><path d="M476.26 295.21L479.46 298.41M476.26 298.41L479.46 295.21" stroke="#25858e" stroke-width="0.95"/><path d="M480 295.2L483.2 298.4M480 298.4L483.2 295.2" stroke="#25858e" stroke-width="0.95"/><path d="M483.75 295.19L486.95 298.39M483.75 298.39L486.95 295.19" stroke="#25858e" stroke-width="0.95"/><path d="M487.49 295.2L490.69 298.4M487.49 298.4L490.69 295.2" stroke="#25858e" stroke-width="0.95"/><path d="M491.23 295.22L494.43 298.42M491.23 298.42L494.43 295.22" stroke="#25858e" stroke-width="0.95"/><path d="M494.98 295.24L498.18 298.44M494.98 298.44L498.18 295.24" stroke="#25858e" stroke-width="0.95"/><path d="M498.72 295.28L501.92 298.48M498.72 298.48L501.92 295.28" stroke="#25858e" stroke-width="0.95"/><path d="M502.46 295.33L505.66 298.53M502.46 298.53L505.66 295.33" stroke="#25858e" stroke-width="0.95"/><path d="M506.21 295.4L509.41 298.6M506.21 298.6L509.41 295.4" stroke="#25858e" stroke-width="0.95"/><path d="M509.95 295.48L513.15 298.68M509.95 298.68L513.15 295.48" stroke="#25858e" stroke-width="0.95"/><path d="M513.69 295.59L516.89 298.79M513.69 298.79L516.89 295.59" stroke="#25858e" stroke-width="0.95"/><path d="M517.44 295.73L520.64 298.93M517.44 298.93L520.64 295.73" stroke="#25858e" stroke-width="0.95"/><path d="M521.18 295.9L524.38 299.1M521.18 299.1L524.38 295.9" stroke="#25858e" stroke-width="0.95"/><path d="M524.92 296.12L528.12 299.32M524.92 299.32L528.12 296.12" stroke="#25858e" stroke-width="0.95"/><path d="M528.67 296.39L531.87 299.59M528.67 299.59L531.87 296.39" stroke="#25858e" stroke-width="0.95"/><path d="M532.41 296.73L535.61 299.93M532.41 299.93L535.61 296.73" stroke="#25858e" stroke-width="0.95"/><path d="M536.16 297.16L539.36 300.36M536.16 300.36L539.36 297.16" stroke="#25858e" stroke-width="0.95"/><path d="M539.9 297.69L543.1 300.89M539.9 300.89L543.1 297.69" stroke="#25858e" stroke-width="0.95"/><path d="M543.64 298.35L546.84 301.55M543.64 301.55L546.84 298.35" stroke="#25858e" stroke-width="0.95"/><path d="M547.39 299.18L550.59 302.38M547.39 302.38L550.59 299.18" stroke="#25858e" stroke-width="0.95"/><path d="M551.13 300.21L554.33 303.41M551.13 303.41L554.33 300.21" stroke="#25858e" stroke-width="0.95"/><path d="M554.87 301.5L558.07 304.7M554.87 304.7L558.07 301.5" stroke="#25858e" stroke-width="0.95"/><path d="M558.62 303.1L561.82 306.3M558.62 306.3L561.82 303.1" stroke="#25858e" stroke-width="0.95"/><path d="M562.36 305.09L565.56 308.29M562.36 308.29L565.56 305.09" stroke="#25858e" stroke-width="0.95"/><path d="M566.1 307.56L569.3 310.76M566.1 310.76L569.3 307.56" stroke="#25858e" stroke-width="0.95"/><path d="M569.85 310.61L573.05 313.81M569.85 313.81L573.05 310.61" stroke="#25858e" stroke-width="0.95"/><path d="M573.59 314.36L576.79 317.56M573.59 317.56L576.79 314.36" stroke="#25858e" stroke-width="0.95"/><path d="M577.33 318.94L580.53 322.14M577.33 322.14L580.53 318.94" stroke="#25858e" stroke-width="0.95"/><path d="M581.08 324.48L584.28 327.68M581.08 327.68L584.28 324.48" stroke="#25858e" stroke-width="0.95"/><path d="M584.82 331.09L588.02 334.29M584.82 334.29L588.02 331.09" stroke="#25858e" stroke-width="0.95"/><path d="M588.57 338.81L591.77 342.01M588.57 342.01L591.77 338.81" stroke="#25858e" stroke-width="0.95"/><path d="M592.31 347.6L595.51 350.8M592.31 350.8L595.51 347.6" stroke="#25858e" stroke-width="0.95"/><path d="M596.05 357.26L599.25 360.46M596.05 360.46L599.25 357.26" stroke="#25858e" stroke-width="0.95"/><path d="M599.8 367.48L603 370.68M599.8 370.68L603 367.48" stroke="#25858e" stroke-width="0.95"/><path d="M603.54 377.82L606.74 381.02M603.54 381.02L606.74 377.82" stroke="#25858e" stroke-width="0.95"/><path d="M607.28 387.83L610.48 391.03M607.28 391.03L610.48 387.83" stroke="#25858e" stroke-width="0.95"/><path d="M611.03 397.15L614.23 400.35M611.03 400.35L614.23 397.15" stroke="#25858e" stroke-width="0.95"/><path d="M614.77 405.55L617.97 408.75M614.77 408.75L617.97 405.55" stroke="#25858e" stroke-width="0.95"/><path d="M618.51 412.98L621.71 416.18M618.51 416.18L621.71 412.98" stroke="#25858e" stroke-width="0.95"/><path d="M622.26 419.47L625.46 422.67M622.26 422.67L625.46 419.47" stroke="#25858e" stroke-width="0.95"/><path d="M626 425.15L629.2 428.35M626 428.35L629.2 425.15" stroke="#25858e" stroke-width="0.95"/><path d="M629.75 430.18L632.95 433.38M629.75 433.38L632.95 430.18" stroke="#25858e" stroke-width="0.95"/><path d="M633.49 434.76L636.69 437.96M633.49 437.96L636.69 434.76" stroke="#25858e" stroke-width="0.95"/><path d="M637.23 439.06L640.43 442.26M637.23 442.26L640.43 439.06" stroke="#25858e" stroke-width="0.95"/><path d="M640.98 443.29L644.18 446.49M640.98 446.49L644.18 443.29" stroke="#25858e" stroke-width="0.95"/><path d="M644.72 447.64L647.92 450.84M644.72 450.84L647.92 447.64" stroke="#25858e" stroke-width="0.95"/><path d="M648.46 452.32L651.66 455.52M648.46 455.52L651.66 452.32" stroke="#25858e" stroke-width="0.95"/><path d="M652.21 457.52L655.41 460.72M652.21 460.72L655.41 457.52" stroke="#25858e" stroke-width="0.95"/><path d="M655.95 463.47L659.15 466.67M655.95 466.67L659.15 463.47" stroke="#25858e" stroke-width="0.95"/><path d="M393.9 313.9L397.1 317.1M393.9 317.1L397.1 313.9" stroke="#3dbc74" stroke-width="0.95"/><path d="M397.64 310.25L400.84 313.45M397.64 313.45L400.84 310.25" stroke="#3dbc74" stroke-width="0.95"/><path d="M401.39 307.29L404.59 310.49M401.39 310.49L404.59 307.29" stroke="#3dbc74" stroke-width="0.95"/><path d="M405.13 304.89L408.33 308.09M405.13 308.09L408.33 304.89" stroke="#3dbc74" stroke-width="0.95"/><path d="M408.87 302.95L412.07 306.15M408.87 306.15L412.07 302.95" stroke="#3dbc74" stroke-width="0.95"/><path d="M412.62 301.4L415.82 304.6M412.62 304.6L415.82 301.4" stroke="#3dbc74" stroke-width="0.95"/><path d="M416.36 300.15L419.56 303.35M416.36 303.35L419.56 300.15" stroke="#3dbc74" stroke-width="0.95"/><path d="M420.1 299.14L423.31 302.34M420.1 302.34L423.31 299.14" stroke="#3dbc74" stroke-width="0.95"/><path d="M423.85 298.34L427.05 301.54M423.85 301.54L427.05 298.34" stroke="#3dbc74" stroke-width="0.95"/><path d="M427.59 297.69L430.79 300.89M427.59 300.89L430.79 297.69" stroke="#3dbc74" stroke-width="0.95"/><path d="M431.34 297.18L434.54 300.38M431.34 300.38L434.54 297.18" stroke="#3dbc74" stroke-width="0.95"/><path d="M435.08 296.76L438.28 299.96M435.08 299.96L438.28 296.76" stroke="#3dbc74" stroke-width="0.95"/><path d="M438.82 296.43L442.02 299.63M438.82 299.63L442.02 296.43" stroke="#3dbc74" stroke-width="0.95"/><path d="M442.57 296.17L445.77 299.37M442.57 299.37L445.77 296.17" stroke="#3dbc74" stroke-width="0.95"/><path d="M446.31 295.95L449.51 299.15M446.31 299.15L449.51 295.95" stroke="#3dbc74" stroke-width="0.95"/><path d="M450.05 295.79L453.25 298.99M450.05 298.99L453.25 295.79" stroke="#3dbc74" stroke-width="0.95"/><path d="M453.8 295.65L457 298.85M453.8 298.85L457 295.65" stroke="#3dbc74" stroke-width="0.95"/><path d="M457.54 295.55L460.74 298.75M457.54 298.75L460.74 295.55" stroke="#3dbc74" stroke-width="0.95"/><path d="M461.28 295.46L464.48 298.66M461.28 298.66L464.48 295.46" stroke="#3dbc74" stroke-width="0.95"/><path d="M465.03 295.4L468.23 298.6M465.03 298.6L468.23 295.4" stroke="#3dbc74" stroke-width="0.95"/><path d="M468.77 295.35L471.97 298.55M468.77 298.55L471.97 295.35" stroke="#3dbc74" stroke-width="0.95"/><path d="M472.51 295.32L475.72 298.52M472.51 298.52L475.72 295.32" stroke="#3dbc74" stroke-width="0.95"/><path d="M476.26 295.29L479.46 298.49M476.26 298.49L479.46 295.29" stroke="#3dbc74" stroke-width="0.95"/><path d="M480 295.28L483.2 298.48M480 298.48L483.2 295.28" stroke="#3dbc74" stroke-width="0.95"/><path d="M483.75 295.27L486.95 298.47M483.75 298.47L486.95 295.27" stroke="#3dbc74" stroke-width="0.95"/><path d="M487.49 295.28L490.69 298.48M487.49 298.48L490.69 295.28" stroke="#3dbc74" stroke-width="0.95"/><path d="M491.23 295.29L494.43 298.49M491.23 298.49L494.43 295.29" stroke="#3dbc74" stroke-width="0.95"/><path d="M494.98 295.32L498.18 298.52M494.98 298.52L498.18 295.32" stroke="#3dbc74" stroke-width="0.95"/><path d="M498.72 295.36L501.92 298.56M498.72 298.56L501.92 295.36" stroke="#3dbc74" stroke-width="0.95"/><path d="M502.46 295.41L505.66 298.61M502.46 298.61L505.66 295.41" stroke="#3dbc74" stroke-width="0.95"/><path d="M506.21 295.47L509.41 298.67M506.21 298.67L509.41 295.47" stroke="#3dbc74" stroke-width="0.95"/><path d="M509.95 295.56L513.15 298.76M509.95 298.76L513.15 295.56" stroke="#3dbc74" stroke-width="0.95"/><path d="M513.69 295.66L516.89 298.86M513.69 298.86L516.89 295.66" stroke="#3dbc74" stroke-width="0.95"/><path d="M517.44 295.8L520.64 299M517.44 299L520.64 295.8" stroke="#3dbc74" stroke-width="0.95"/><path d="M521.18 295.97L524.38 299.17M521.18 299.17L524.38 295.97" stroke="#3dbc74" stroke-width="0.95"/><path d="M524.92 296.19L528.12 299.39M524.92 299.39L528.12 296.19" stroke="#3dbc74" stroke-width="0.95"/><path d="M528.67 296.46L531.87 299.66M528.67 299.66L531.87 296.46" stroke="#3dbc74" stroke-width="0.95"/><path d="M532.41 296.8L535.61 300M532.41 300L535.61 296.8" stroke="#3dbc74" stroke-width="0.95"/><path d="M536.16 297.22L539.36 300.42M536.16 300.42L539.36 297.22" stroke="#3dbc74" stroke-width="0.95"/><path d="M539.9 297.75L543.1 300.95M539.9 300.95L543.1 297.75" stroke="#3dbc74" stroke-width="0.95"/><path d="M543.64 298.41L546.84 301.61M543.64 301.61L546.84 298.41" stroke="#3dbc74" stroke-width="0.95"/><path d="M547.39 299.23L550.59 302.43M547.39 302.43L550.59 299.23" stroke="#3dbc74" stroke-width="0.95"/><path d="M551.13 300.25L554.33 303.45M551.13 303.45L554.33 300.25" stroke="#3dbc74" stroke-width="0.95"/><path d="M554.87 301.53L558.07 304.73M554.87 304.73L558.07 301.53" stroke="#3dbc74" stroke-width="0.95"/><path d="M558.62 303.12L561.82 306.32M558.62 306.32L561.82 303.12" stroke="#3dbc74" stroke-width="0.95"/><path d="M562.36 305.09L565.56 308.29M562.36 308.29L565.56 305.09" stroke="#3dbc74" stroke-width="0.95"/><path d="M566.1 307.54L569.3 310.74M566.1 310.74L569.3 307.54" stroke="#3dbc74" stroke-width="0.95"/><path d="M569.85 310.56L573.05 313.76M569.85 313.76L573.05 310.56" stroke="#3dbc74" stroke-width="0.95"/><path d="M573.59 314.28L576.79 317.48M573.59 317.48L576.79 314.28" stroke="#3dbc74" stroke-width="0.95"/><path d="M577.33 318.83L580.53 322.03M577.33 322.03L580.53 318.83" stroke="#3dbc74" stroke-width="0.95"/><path d="M581.08 324.32L584.28 327.52M581.08 327.52L584.28 324.32" stroke="#3dbc74" stroke-width="0.95"/><path d="M584.82 330.88L588.02 334.08M584.82 334.08L588.02 330.88" stroke="#3dbc74" stroke-width="0.95"/><path d="M588.57 338.55L591.77 341.75M588.57 341.75L591.77 338.55" stroke="#3dbc74" stroke-width="0.95"/><path d="M592.31 347.29L595.51 350.49M592.31 350.49L595.51 347.29" stroke="#3dbc74" stroke-width="0.95"/><path d="M596.05 356.92L599.25 360.12M596.05 360.12L599.25 356.92" stroke="#3dbc74" stroke-width="0.95"/><path d="M599.8 367.11L603 370.31M599.8 370.31L603 367.11" stroke="#3dbc74" stroke-width="0.95"/><path d="M603.54 377.44L606.74 380.64M603.54 380.64L606.74 377.44" stroke="#3dbc74" stroke-width="0.95"/><path d="M607.28 387.46L610.48 390.66M607.28 390.66L610.48 387.46" stroke="#3dbc74" stroke-width="0.95"/><path d="M611.03 396.81L614.23 400.01M611.03 400.01L614.23 396.81" stroke="#3dbc74" stroke-width="0.95"/><path d="M614.77 405.25L617.97 408.45M614.77 408.45L617.97 405.25" stroke="#3dbc74" stroke-width="0.95"/><path d="M618.51 412.71L621.71 415.91M618.51 415.91L621.71 412.71" stroke="#3dbc74" stroke-width="0.95"/><path d="M622.26 419.24L625.46 422.44M622.26 422.44L625.46 419.24" stroke="#3dbc74" stroke-width="0.95"/><path d="M626 424.96L629.2 428.16M626 428.16L629.2 424.96" stroke="#3dbc74" stroke-width="0.95"/><path d="M629.75 430.03L632.95 433.23M629.75 433.23L632.95 430.03" stroke="#3dbc74" stroke-width="0.95"/><path d="M633.49 434.63L636.69 437.83M633.49 437.83L636.69 434.63" stroke="#3dbc74" stroke-width="0.95"/><path d="M637.23 438.95L640.43 442.15M637.23 442.15L640.43 438.95" stroke="#3dbc74" stroke-width="0.95"/><path d="M640.98 443.2L644.18 446.4M640.98 446.4L644.18 443.2" stroke="#3dbc74" stroke-width="0.95"/><path d="M644.72 447.57L647.92 450.77M644.72 450.77L647.92 447.57" stroke="#3dbc74" stroke-width="0.95"/><path d="M648.46 452.26L651.66 455.46M648.46 455.46L651.66 452.26" stroke="#3dbc74" stroke-width="0.95"/><path d="M652.21 457.48L655.41 460.68M652.21 460.68L655.41 457.48" stroke="#3dbc74" stroke-width="0.95"/><path d="M655.95 463.43L659.15 466.63M655.95 466.63L659.15 463.43" stroke="#3dbc74" stroke-width="0.95"/><path d="M393.9 315.42L397.1 318.62M393.9 318.62L397.1 315.42" stroke="#bddf26" stroke-width="0.95"/><path d="M397.64 311.52L400.84 314.72M397.64 314.72L400.84 311.52" stroke="#bddf26" stroke-width="0.95"/><path d="M401.39 308.35L404.59 311.55M401.39 311.55L404.59 308.35" stroke="#bddf26" stroke-width="0.95"/><path d="M405.13 305.78L408.33 308.98M405.13 308.98L408.33 305.78" stroke="#bddf26" stroke-width="0.95"/><path d="M408.87 303.7L412.07 306.9M408.87 306.9L412.07 303.7" stroke="#bddf26" stroke-width="0.95"/><path d="M412.62 302.03L415.82 305.23M412.62 305.23L415.82 302.03" stroke="#bddf26" stroke-width="0.95"/><path d="M416.36 300.69L419.56 303.89M416.36 303.89L419.56 300.69" stroke="#bddf26" stroke-width="0.95"/><path d="M420.1 299.61L423.31 302.81M420.1 302.81L423.31 299.61" stroke="#bddf26" stroke-width="0.95"/><path d="M423.85 298.74L427.05 301.94M423.85 301.94L427.05 298.74" stroke="#bddf26" stroke-width="0.95"/><path d="M427.59 298.05L430.79 301.25M427.59 301.25L430.79 298.05" stroke="#bddf26" stroke-width="0.95"/><path d="M431.34 297.49L434.54 300.69M431.34 300.69L434.54 297.49" stroke="#bddf26" stroke-width="0.95"/><path d="M435.08 297.05L438.28 300.25M435.08 300.25L438.28 297.05" stroke="#bddf26" stroke-width="0.95"/><path d="M438.82 296.69L442.02 299.89M438.82 299.89L442.02 296.69" stroke="#bddf26" stroke-width="0.95"/><path d="M442.57 296.4L445.77 299.6M442.57 299.6L445.77 296.4" stroke="#bddf26" stroke-width="0.95"/><path d="M446.31 296.17L449.51 299.37M446.31 299.37L449.51 296.17" stroke="#bddf26" stroke-width="0.95"/><path d="M450.05 295.99L453.25 299.19M450.05 299.19L453.25 295.99" stroke="#bddf26" stroke-width="0.95"/><path d="M453.8 295.85L457 299.05M453.8 299.05L457 295.85" stroke="#bddf26" stroke-width="0.95"/><path d="M457.54 295.73L460.74 298.93M457.54 298.93L460.74 295.73" stroke="#bddf26" stroke-width="0.95"/><path d="M461.28 295.64L464.48 298.84M461.28 298.84L464.48 295.64" stroke="#bddf26" stroke-width="0.95"/><path d="M465.03 295.57L468.23 298.77M465.03 298.77L468.23 295.57" stroke="#bddf26" stroke-width="0.95"/><path d="M468.77 295.52L471.97 298.72M468.77 298.72L471.97 295.52" stroke="#bddf26" stroke-width="0.95"/><path d="M472.51 295.48L475.72 298.68M472.51 298.68L475.72 295.48" stroke="#bddf26" stroke-width="0.95"/><path d="M476.26 295.46L479.46 298.66M476.26 298.66L479.46 295.46" stroke="#bddf26" stroke-width="0.95"/><path d="M480 295.44L483.2 298.64M480 298.64L483.2 295.44" stroke="#bddf26" stroke-width="0.95"/><path d="M483.75 295.43L486.95 298.63M483.75 298.63L486.95 295.43" stroke="#bddf26" stroke-width="0.95"/><path d="M487.49 295.44L490.69 298.64M487.49 298.64L490.69 295.44" stroke="#bddf26" stroke-width="0.95"/><path d="M491.23 295.45L494.43 298.65M491.23 298.65L494.43 295.45" stroke="#bddf26" stroke-width="0.95"/><path d="M494.98 295.47L498.18 298.67M494.98 298.67L498.18 295.47" stroke="#bddf26" stroke-width="0.95"/><path d="M498.72 295.51L501.92 298.71M498.72 298.71L501.92 295.51" stroke="#bddf26" stroke-width="0.95"/><path d="M502.46 295.56L505.66 298.76M502.46 298.76L505.66 295.56" stroke="#bddf26" stroke-width="0.95"/><path d="M506.21 295.62L509.41 298.82M506.21 298.82L509.41 295.62" stroke="#bddf26" stroke-width="0.95"/><path d="M509.95 295.7L513.15 298.9M509.95 298.9L513.15 295.7" stroke="#bddf26" stroke-width="0.95"/><path d="M513.69 295.81L516.89 299.01M513.69 299.01L516.89 295.81" stroke="#bddf26" stroke-width="0.95"/><path d="M517.44 295.94L520.64 299.14M517.44 299.14L520.64 295.94" stroke="#bddf26" stroke-width="0.95"/><path d="M521.18 296.11L524.38 299.31M521.18 299.31L524.38 296.11" stroke="#bddf26" stroke-width="0.95"/><path d="M524.92 296.32L528.12 299.52M524.92 299.52L528.12 296.32" stroke="#bddf26" stroke-width="0.95"/><path d="M528.67 296.59L531.87 299.79M528.67 299.79L531.87 296.59" stroke="#bddf26" stroke-width="0.95"/><path d="M532.41 296.92L535.61 300.12M532.41 300.12L535.61 296.92" stroke="#bddf26" stroke-width="0.95"/><path d="M536.16 297.34L539.36 300.54M536.16 300.54L539.36 297.34" stroke="#bddf26" stroke-width="0.95"/><path d="M539.9 297.86L543.1 301.06M539.9 301.06L543.1 297.86" stroke="#bddf26" stroke-width="0.95"/><path d="M543.64 298.51L546.84 301.71M543.64 301.71L546.84 298.51" stroke="#bddf26" stroke-width="0.95"/><path d="M547.39 299.31L550.59 302.51M547.39 302.51L550.59 299.31" stroke="#bddf26" stroke-width="0.95"/><path d="M551.13 300.32L554.33 303.52M551.13 303.52L554.33 300.32" stroke="#bddf26" stroke-width="0.95"/><path d="M554.87 301.58L558.07 304.78M554.87 304.78L558.07 301.58" stroke="#bddf26" stroke-width="0.95"/><path d="M558.62 303.14L561.82 306.34M558.62 306.34L561.82 303.14" stroke="#bddf26" stroke-width="0.95"/><path d="M562.36 305.08L565.56 308.28M562.36 308.28L565.56 305.08" stroke="#bddf26" stroke-width="0.95"/><path d="M566.1 307.48L569.3 310.68M566.1 310.68L569.3 307.48" stroke="#bddf26" stroke-width="0.95"/><path d="M569.85 310.45L573.05 313.65M569.85 313.65L573.05 310.45" stroke="#bddf26" stroke-width="0.95"/><path d="M573.59 314.11L576.79 317.31M573.59 317.31L576.79 314.11" stroke="#bddf26" stroke-width="0.95"/><path d="M577.33 318.57L580.53 321.77M577.33 321.77L580.53 318.57" stroke="#bddf26" stroke-width="0.95"/><path d="M581.08 323.98L584.28 327.18M581.08 327.18L584.28 323.98" stroke="#bddf26" stroke-width="0.95"/><path d="M584.82 330.44L588.02 333.64M584.82 333.64L588.02 330.44" stroke="#bddf26" stroke-width="0.95"/><path d="M588.57 338L591.77 341.2M588.57 341.2L591.77 338" stroke="#bddf26" stroke-width="0.95"/><path d="M592.31 346.64L595.51 349.84M592.31 349.84L595.51 346.64" stroke="#bddf26" stroke-width="0.95"/><path d="M596.05 356.18L599.25 359.38M596.05 359.38L599.25 356.18" stroke="#bddf26" stroke-width="0.95"/><path d="M599.8 366.31L603 369.51M599.8 369.51L603 366.31" stroke="#bddf26" stroke-width="0.95"/><path d="M603.54 376.63L606.74 379.83M603.54 379.83L606.74 376.63" stroke="#bddf26" stroke-width="0.95"/><path d="M607.28 386.67L610.48 389.87M607.28 389.87L610.48 386.67" stroke="#bddf26" stroke-width="0.95"/><path d="M611.03 396.07L614.23 399.27M611.03 399.27L614.23 396.07" stroke="#bddf26" stroke-width="0.95"/><path d="M614.77 404.59L617.97 407.79M614.77 407.79L617.97 404.59" stroke="#bddf26" stroke-width="0.95"/><path d="M618.51 412.14L621.71 415.34M618.51 415.34L621.71 412.14" stroke="#bddf26" stroke-width="0.95"/><path d="M622.26 418.76L625.46 421.96M622.26 421.96L625.46 418.76" stroke="#bddf26" stroke-width="0.95"/><path d="M626 424.55L629.2 427.75M626 427.75L629.2 424.55" stroke="#bddf26" stroke-width="0.95"/><path d="M629.75 429.68L632.95 432.88M629.75 432.88L632.95 429.68" stroke="#bddf26" stroke-width="0.95"/><path d="M633.49 434.35L636.69 437.55M633.49 437.55L636.69 434.35" stroke="#bddf26" stroke-width="0.95"/><path d="M637.23 438.72L640.43 441.92M637.23 441.92L640.43 438.72" stroke="#bddf26" stroke-width="0.95"/><path d="M640.98 443.01L644.18 446.21M640.98 446.21L644.18 443.01" stroke="#bddf26" stroke-width="0.95"/><path d="M644.72 447.42L647.92 450.62M644.72 450.62L647.92 447.42" stroke="#bddf26" stroke-width="0.95"/><path d="M648.46 452.14L651.66 455.34M648.46 455.34L651.66 452.14" stroke="#bddf26" stroke-width="0.95"/><path d="M652.21 457.38L655.41 460.58M652.21 460.58L655.41 457.38" stroke="#bddf26" stroke-width="0.95"/><path d="M655.95 463.36L659.15 466.56M655.95 466.56L659.15 463.36" stroke="#bddf26" stroke-width="0.95"/></g>
<rect x="395.5" y="274.5" width="262.05" height="210.9" fill="none" stroke="#555" stroke-width="1"/>
<line x1="392.5" y1="274.5" x2="395.5" y2="274.5" stroke="#333" stroke-width="0.9"/>
<text x="389.3" y="278.1" font-size="10" text-anchor="end" fill="#1a1a1a">&#8722;100</text>
<line x1="392.5" y1="308.24" x2="395.5" y2="308.24" stroke="#333" stroke-width="0.9"/>
<text x="389.3" y="311.84" font-size="10" text-anchor="end" fill="#1a1a1a">&#8722;80</text>
<line x1="392.5" y1="341.99" x2="395.5" y2="341.99" stroke="#333" stroke-width="0.9"/>
<text x="389.3" y="345.59" font-size="10" text-anchor="end" fill="#1a1a1a">&#8722;60</text>
<line x1="392.5" y1="375.73" x2="395.5" y2="375.73" stroke="#333" stroke-width="0.9"/>
<text x="389.3" y="379.33" font-size="10" text-anchor="end" fill="#1a1a1a">&#8722;40</text>
<line x1="392.5" y1="409.48" x2="395.5" y2="409.48" stroke="#333" stroke-width="0.9"/>
<text x="389.3" y="413.08" font-size="10" text-anchor="end" fill="#1a1a1a">&#8722;20</text>
<line x1="392.5" y1="443.22" x2="395.5" y2="443.22" stroke="#333" stroke-width="0.9"/>
<text x="389.3" y="446.82" font-size="10" text-anchor="end" fill="#1a1a1a">0</text>
<line x1="392.5" y1="476.96" x2="395.5" y2="476.96" stroke="#333" stroke-width="0.9"/>
<text x="389.3" y="480.56" font-size="10" text-anchor="end" fill="#1a1a1a">20</text>
<line x1="393.7" y1="291.37" x2="395.5" y2="291.37" stroke="#333" stroke-width="0.7"/>
<line x1="393.7" y1="325.12" x2="395.5" y2="325.12" stroke="#333" stroke-width="0.7"/>
<line x1="393.7" y1="358.86" x2="395.5" y2="358.86" stroke="#333" stroke-width="0.7"/>
<line x1="393.7" y1="392.6" x2="395.5" y2="392.6" stroke="#333" stroke-width="0.7"/>
<line x1="393.7" y1="426.35" x2="395.5" y2="426.35" stroke="#333" stroke-width="0.7"/>
<line x1="393.7" y1="460.09" x2="395.5" y2="460.09" stroke="#333" stroke-width="0.7"/>
<line x1="395.5" y1="485.4" x2="395.5" y2="488.4" stroke="#333" stroke-width="0.9"/>
<line x1="406.77" y1="485.4" x2="406.77" y2="487" stroke="#333" stroke-width="0.7"/>
<line x1="413.36" y1="485.4" x2="413.36" y2="487" stroke="#333" stroke-width="0.7"/>
<line x1="418.04" y1="485.4" x2="418.04" y2="487" stroke="#333" stroke-width="0.7"/>
<line x1="421.67" y1="485.4" x2="421.67" y2="487" stroke="#333" stroke-width="0.7"/>
<line x1="424.63" y1="485.4" x2="424.63" y2="487" stroke="#333" stroke-width="0.7"/>
<line x1="427.14" y1="485.4" x2="427.14" y2="487" stroke="#333" stroke-width="0.7"/>
<line x1="429.31" y1="485.4" x2="429.31" y2="487" stroke="#333" stroke-width="0.7"/>
<line x1="431.22" y1="485.4" x2="431.22" y2="487" stroke="#333" stroke-width="0.7"/>
<line x1="432.94" y1="485.4" x2="432.94" y2="488.4" stroke="#333" stroke-width="0.9"/>
<line x1="444.2" y1="485.4" x2="444.2" y2="487" stroke="#333" stroke-width="0.7"/>
<line x1="450.8" y1="485.4" x2="450.8" y2="487" stroke="#333" stroke-width="0.7"/>
<line x1="455.47" y1="485.4" x2="455.47" y2="487" stroke="#333" stroke-width="0.7"/>
<line x1="459.1" y1="485.4" x2="459.1" y2="487" stroke="#333" stroke-width="0.7"/>
<line x1="462.07" y1="485.4" x2="462.07" y2="487" stroke="#333" stroke-width="0.7"/>
<line x1="464.57" y1="485.4" x2="464.57" y2="487" stroke="#333" stroke-width="0.7"/>
<line x1="466.74" y1="485.4" x2="466.74" y2="487" stroke="#333" stroke-width="0.7"/>
<line x1="468.66" y1="485.4" x2="468.66" y2="487" stroke="#333" stroke-width="0.7"/>
<line x1="470.37" y1="485.4" x2="470.37" y2="488.4" stroke="#333" stroke-width="0.9"/>
<line x1="481.64" y1="485.4" x2="481.64" y2="487" stroke="#333" stroke-width="0.7"/>
<line x1="488.23" y1="485.4" x2="488.23" y2="487" stroke="#333" stroke-width="0.7"/>
<line x1="492.91" y1="485.4" x2="492.91" y2="487" stroke="#333" stroke-width="0.7"/>
<line x1="496.54" y1="485.4" x2="496.54" y2="487" stroke="#333" stroke-width="0.7"/>
<line x1="499.5" y1="485.4" x2="499.5" y2="487" stroke="#333" stroke-width="0.7"/>
<line x1="502.01" y1="485.4" x2="502.01" y2="487" stroke="#333" stroke-width="0.7"/>
<line x1="504.18" y1="485.4" x2="504.18" y2="487" stroke="#333" stroke-width="0.7"/>
<line x1="506.09" y1="485.4" x2="506.09" y2="487" stroke="#333" stroke-width="0.7"/>
<line x1="507.81" y1="485.4" x2="507.81" y2="488.4" stroke="#333" stroke-width="0.9"/>
<line x1="519.08" y1="485.4" x2="519.08" y2="487" stroke="#333" stroke-width="0.7"/>
<line x1="525.67" y1="485.4" x2="525.67" y2="487" stroke="#333" stroke-width="0.7"/>
<line x1="530.35" y1="485.4" x2="530.35" y2="487" stroke="#333" stroke-width="0.7"/>
<line x1="533.97" y1="485.4" x2="533.97" y2="487" stroke="#333" stroke-width="0.7"/>
<line x1="536.94" y1="485.4" x2="536.94" y2="487" stroke="#333" stroke-width="0.7"/>
<line x1="539.44" y1="485.4" x2="539.44" y2="487" stroke="#333" stroke-width="0.7"/>
<line x1="541.61" y1="485.4" x2="541.61" y2="487" stroke="#333" stroke-width="0.7"/>
<line x1="543.53" y1="485.4" x2="543.53" y2="487" stroke="#333" stroke-width="0.7"/>
<line x1="545.24" y1="485.4" x2="545.24" y2="488.4" stroke="#333" stroke-width="0.9"/>
<line x1="556.51" y1="485.4" x2="556.51" y2="487" stroke="#333" stroke-width="0.7"/>
<line x1="563.1" y1="485.4" x2="563.1" y2="487" stroke="#333" stroke-width="0.7"/>
<line x1="567.78" y1="485.4" x2="567.78" y2="487" stroke="#333" stroke-width="0.7"/>
<line x1="571.41" y1="485.4" x2="571.41" y2="487" stroke="#333" stroke-width="0.7"/>
<line x1="574.37" y1="485.4" x2="574.37" y2="487" stroke="#333" stroke-width="0.7"/>
<line x1="576.88" y1="485.4" x2="576.88" y2="487" stroke="#333" stroke-width="0.7"/>
<line x1="579.05" y1="485.4" x2="579.05" y2="487" stroke="#333" stroke-width="0.7"/>
<line x1="580.97" y1="485.4" x2="580.97" y2="487" stroke="#333" stroke-width="0.7"/>
<line x1="582.68" y1="485.4" x2="582.68" y2="488.4" stroke="#333" stroke-width="0.9"/>
<line x1="593.95" y1="485.4" x2="593.95" y2="487" stroke="#333" stroke-width="0.7"/>
<line x1="600.54" y1="485.4" x2="600.54" y2="487" stroke="#333" stroke-width="0.7"/>
<line x1="605.22" y1="485.4" x2="605.22" y2="487" stroke="#333" stroke-width="0.7"/>
<line x1="608.85" y1="485.4" x2="608.85" y2="487" stroke="#333" stroke-width="0.7"/>
<line x1="611.81" y1="485.4" x2="611.81" y2="487" stroke="#333" stroke-width="0.7"/>
<line x1="614.32" y1="485.4" x2="614.32" y2="487" stroke="#333" stroke-width="0.7"/>
<line x1="616.49" y1="485.4" x2="616.49" y2="487" stroke="#333" stroke-width="0.7"/>
<line x1="618.4" y1="485.4" x2="618.4" y2="487" stroke="#333" stroke-width="0.7"/>
<line x1="620.11" y1="485.4" x2="620.11" y2="488.4" stroke="#333" stroke-width="0.9"/>
<line x1="631.38" y1="485.4" x2="631.38" y2="487" stroke="#333" stroke-width="0.7"/>
<line x1="637.98" y1="485.4" x2="637.98" y2="487" stroke="#333" stroke-width="0.7"/>
<line x1="642.65" y1="485.4" x2="642.65" y2="487" stroke="#333" stroke-width="0.7"/>
<line x1="646.28" y1="485.4" x2="646.28" y2="487" stroke="#333" stroke-width="0.7"/>
<line x1="649.24" y1="485.4" x2="649.24" y2="487" stroke="#333" stroke-width="0.7"/>
<line x1="651.75" y1="485.4" x2="651.75" y2="487" stroke="#333" stroke-width="0.7"/>
<line x1="653.92" y1="485.4" x2="653.92" y2="487" stroke="#333" stroke-width="0.7"/>
<line x1="655.84" y1="485.4" x2="655.84" y2="487" stroke="#333" stroke-width="0.7"/>
<line x1="657.55" y1="485.4" x2="657.55" y2="488.4" stroke="#333" stroke-width="0.9"/>
<text x="395.8" y="500.2" font-size="10" text-anchor="middle">10<tspan font-size="6.5" dy="-4.4">&#8722;2</tspan></text>
<text x="433.24" y="500.2" font-size="10" text-anchor="middle">10<tspan font-size="6.5" dy="-4.4">&#8722;1</tspan></text>
<text x="470.67" y="500.2" font-size="10" text-anchor="middle">10<tspan font-size="6.5" dy="-4.4">0</tspan></text>
<text x="508.11" y="500.2" font-size="10" text-anchor="middle">10<tspan font-size="6.5" dy="-4.4">1</tspan></text>
<text x="545.54" y="500.2" font-size="10" text-anchor="middle">10<tspan font-size="6.5" dy="-4.4">2</tspan></text>
<text x="582.98" y="500.2" font-size="10" text-anchor="middle">10<tspan font-size="6.5" dy="-4.4">3</tspan></text>
<text x="620.41" y="500.2" font-size="10" text-anchor="middle">10<tspan font-size="6.5" dy="-4.4">4</tspan></text>
<text x="657.85" y="500.2" font-size="10" text-anchor="middle">10<tspan font-size="6.5" dy="-4.4">5</tspan></text>
<text x="526.5" y="516.5" font-size="10.4" text-anchor="middle" fill="#1a1a1a">frequency / Hz</text>
<text x="361.6" y="380" font-size="10.3" text-anchor="middle" fill="#1a1a1a" transform="rotate(-90 361.6 380)">phase angle / &#176;</text>
<text x="339.3" y="290.6" font-size="17.5" text-anchor="start" fill="#1a1a1a">d<tspan dx="1.1">)</tspan></text>
<path d="M411.95 356.55L414.65 359.25M411.95 359.25L414.65 356.55" stroke="#111" stroke-width="1.15"/>
<text x="428" y="361.5" font-size="10.3" text-anchor="start" fill="#1a1a1a">original</text>
<line x1="470.1" y1="357.9" x2="493.4" y2="357.9" stroke="#333" stroke-width="1"/>
<text x="496.5" y="361.5" font-size="10.3" text-anchor="start" fill="#1a1a1a">fit</text>
<path d="M411.95 381.85L414.65 384.55M411.95 384.55L414.65 381.85" stroke="#440154" stroke-width="1.15"/>
<text x="448" y="386.7" font-size="10.3" text-anchor="end" fill="#1a1a1a">0 d</text>
<path d="M411.95 394.65L414.65 397.35M411.95 397.35L414.65 394.65" stroke="#3e4a89" stroke-width="1.15"/>
<text x="448" y="399.5" font-size="10.3" text-anchor="end" fill="#1a1a1a">7 d</text>
<path d="M411.95 407.45L414.65 410.15M411.95 410.15L414.65 407.45" stroke="#25858e" stroke-width="1.15"/>
<text x="448" y="412.3" font-size="10.3" text-anchor="end" fill="#1a1a1a">14 d</text>
<path d="M411.95 420.25L414.65 422.95M411.95 422.95L414.65 420.25" stroke="#3dbc74" stroke-width="1.15"/>
<text x="448" y="425.1" font-size="10.3" text-anchor="end" fill="#1a1a1a">21 d</text>
<path d="M411.95 433.05L414.65 435.75M411.95 435.75L414.65 433.05" stroke="#bddf26" stroke-width="1.15"/>
<text x="448" y="437.9" font-size="10.3" text-anchor="end" fill="#1a1a1a">28 d</text>
<defs><clipPath id="clipe"><rect x="64" y="538.4" width="247.8" height="199.1"/></clipPath></defs>
<g clip-path="url(#clipe)"><polyline points="132.83,645.46 129.27,647.41 125.84,649.4 122.57,651.42 119.43,653.46 116.43,655.51 113.57,657.56 110.85,659.62 108.25,661.68 105.79,663.73 103.45,665.76 101.22,667.78 99.12,669.77 97.12,671.75 95.23,673.69 93.44,675.61 91.75,677.49 90.16,679.34 88.65,681.15 87.23,682.93 85.89,684.67 84.63,686.37 83.44,688.03 82.31,689.65 81.26,691.23 80.26,692.77 79.33,694.26 78.45,695.72 77.62,697.14 76.84,698.51 76.11,699.85 75.42,701.14 74.77,702.4 74.16,703.62 73.59,704.8 73.05,705.95 72.55,707.06 72.07,708.13 71.62,709.17 71.2,710.17 70.8,711.14 70.43,712.08 70.08,712.99 69.75,713.87 69.44,714.72 69.15,715.54 68.87,716.33 68.61,717.09 68.37,717.83 68.14,718.54 67.92,719.23 67.72,719.89 67.53,720.53 67.35,721.15 67.17,721.74 67.01,722.32 66.86,722.87 66.72,723.41 66.58,723.92 66.45,724.42 66.33,724.9 66.22,725.36 66.11,725.81 66.01,726.24 65.91,726.65 65.82,727.05 65.73,727.43 65.65,727.8 65.57,728.16 65.5,728.51 65.43,728.84 65.36,729.16 65.3,729.46 65.24,729.76 65.18,730.05 65.13,730.32 65.08,730.59 65.03,730.84 64.98,731.09 64.94,731.33 64.9,731.55 64.86,731.77 64.82,731.99 64.78,732.19 64.75,732.39 64.72,732.58 64.69,732.76 64.66,732.93 64.63,733.1 64.6,733.27 64.58,733.42 64.55,733.57 64.53,733.72 64.51,733.86 64.49,734 64.47,734.13 64.45,734.25 64.43,734.37 64.41,734.49 64.39,734.6 64.38,734.71 64.36,734.81 64.35,734.91 64.33,735.01 64.32,735.1 64.31,735.19 64.29,735.27 64.28,735.36 64.27,735.44 64.26,735.51 64.25,735.59 64.24,735.66 64.23,735.73 64.22,735.79 64.21,735.86 64.2,735.92 64.2,735.98 64.19,736.03 64.18,736.09 64.17,736.14 64.17,736.19 64.16,736.24 64.15,736.29 64.15,736.33 64.14,736.37 64.14,736.42 64.13,736.46 64.13,736.49 64.12,736.53 64.12,736.57 64.11,736.6 64.11,736.64 64.1,736.67 64.1,736.7 64.1,736.73 64.09,736.76 64.09,736.79 64.09,736.81 64.08,736.84 64.08,736.86 64.08,736.89 64.07,736.91 64.07,736.93 64.07,736.95 64.07,736.97 64.06,736.99 64.06,737.01 64.06,737.03 64.06,737.05 64.05,737.06 64.05,737.08 64.05,737.1 64.05,737.11 64.05,737.12 64.05,737.14 64.04,737.15 64.04,737.17 64.04,737.18 64.04,737.19 64.04,737.2 64.04,737.21 64.03,737.22 64.03,737.23 64.03,737.24 64.03,737.25 64.03,737.26 64.03,737.27 64.03,737.28 64.03,737.29 64.03,737.3 64.03,737.3 64.02,737.31 64.02,737.32 64.02,737.32 64.02,737.33 64.02,737.34 64.02,737.34 64.02,737.35 64.02,737.35 64.02,737.36 64.02,737.37 64.02,737.37 64.02,737.38 64.02,737.38 64.02,737.38 64.01,737.39 64.01,737.39 64.01,737.4 64.01,737.4 64.01,737.4 64.01,737.41 64.01,737.41 64.01,737.41 64.01,737.42 64.01,737.42 64.01,737.42 64.01,737.43 64.01,737.43 64.01,737.43 64.01,737.43 64.01,737.44 64.01,737.44 64.01,737.44 64.01,737.44 64.01,737.45 64.01,737.45 64.01,737.45 64.01,737.45 64.01,737.45 64.01,737.46 64.01,737.46 64.01,737.46 64.01,737.46 64.01,737.46 64.01,737.46 64.01,737.46 64.01,737.47 64.01,737.47 64,737.47 64,737.47 64,737.47 64,737.47 64,737.47 64,737.47 64,737.47 64,737.48 64,737.48 64,737.48 64,737.48 64,737.48 64,737.48 64,737.48 64,737.48 64,737.48 64,737.48 64,737.48 64,737.48 64,737.48 64,737.49 64,737.49 64,737.49 64,737.49 64,737.49 64,737.49 64,737.49 64,737.49 64,737.49 64,737.49 64,737.49 64,737.49 64,737.49 64,737.49 64,737.49 64,737.49 64,737.49 64,737.49 64,737.49 64,737.49 64,737.49 64,737.49 64,737.49 64,737.49 64,737.49 64,737.49 64,737.49 64,737.49 64,737.49 64,737.5 64,737.5 64,737.5 64,737.5 64,737.5 64,737.5 64,737.5 64,737.5 64,737.5 64,737.5 64,737.5 64,737.5 64,737.5 64,737.5 64,737.5 64,737.5 64,737.5 64,737.5 64,737.5 64,737.5 64,737.5 64,737.5 64,737.5 64,737.5 64,737.5 64,737.5 64,737.5 64,737.5 64,737.5 64,737.5 64,737.5 64,737.5 64,737.5 64,737.5 64,737.5 64,737.5 64,737.5 64,737.5 64,737.5 64,737.5 64,737.5 64,737.5 64,737.5 64,737.5 64,737.5 64,737.5 64,737.5 64,737.5 64,737.5 64,737.5 64,737.5 64,737.5 64,737.5 64,737.5 64,737.5 64,737.5 64,737.5 64,737.5 64,737.5 64,737.5 64,737.5 64,737.5 64,737.5 64,737.5 64,737.5 64,737.5 64,737.5 64,737.5 64,737.5 64,737.5 64,737.5 64,737.5 64,737.5 64,737.5 64,737.5 64,737.5 64,737.5 64,737.5 64,737.5 64,737.5 64,737.5 64,737.5 64,737.5 64,737.5 64,737.5 64,737.5 64,737.5 64,737.5 64,737.5 64,737.5 64,737.5 64,737.5 64,737.5 64,737.5 64,737.5 64,737.5 64,737.5 64,737.5 64,737.5 64,737.5 64,737.5 64,737.5 64,737.5 64,737.5 64,737.5 64,737.5 64,737.5 64,737.5 64,737.5 64,737.5 64,737.5 64,737.5 64,737.5 64,737.5 64,737.5 64,737.5 64,737.5 64,737.5 64,737.5 64,737.5 64,737.5 64,737.5 64,737.5 64,737.5 64,737.5 64,737.5 64,737.5 64,737.5 64,737.5 64,737.5 64,737.5 64,737.5 64,737.5" fill="none" stroke="#440154" stroke-width="1.0" stroke-linejoin="round"/><polyline points="112.87,563.25 109.76,569.46 106.85,575.46 104.12,581.29 101.58,586.92 99.2,592.37 96.98,597.65 94.91,602.75 92.97,607.67 91.15,612.44 89.46,617.04 87.88,621.48 86.4,625.77 85.02,629.91 83.73,633.9 82.52,637.75 81.39,641.47 80.34,645.05 79.35,648.51 78.43,651.84 77.57,655.05 76.76,658.14 76.01,661.12 75.3,664 74.64,666.76 74.02,669.43 73.44,672 72.9,674.47 72.39,676.85 71.91,679.14 71.46,681.35 71.04,683.48 70.65,685.52 70.28,687.49 69.93,689.39 69.61,691.22 69.3,692.97 69.01,694.66 68.74,696.29 68.49,697.86 68.25,699.37 68.03,700.82 67.81,702.21 67.62,703.56 67.43,704.85 67.25,706.09 67.08,707.29 66.93,708.44 66.78,709.55 66.64,710.61 66.51,711.64 66.38,712.62 66.27,713.57 66.15,714.48 66.05,715.36 65.95,716.21 65.86,717.02 65.77,717.8 65.68,718.55 65.6,719.28 65.53,719.97 65.46,720.64 65.39,721.29 65.32,721.91 65.26,722.5 65.21,723.07 65.15,723.63 65.1,724.16 65.05,724.67 65,725.16 64.96,725.63 64.91,726.08 64.87,726.52 64.83,726.94 64.8,727.34 64.76,727.73 64.73,728.1 64.7,728.46 64.67,728.81 64.64,729.14 64.61,729.46 64.59,729.77 64.56,730.06 64.54,730.35 64.51,730.62 64.49,730.88 64.47,731.14 64.45,731.38 64.43,731.61 64.42,731.84 64.4,732.06 64.38,732.26 64.37,732.46 64.35,732.66 64.34,732.84 64.32,733.02 64.31,733.19 64.3,733.36 64.28,733.52 64.27,733.67 64.26,733.81 64.25,733.96 64.24,734.09 64.23,734.22 64.22,734.35 64.21,734.47 64.21,734.58 64.2,734.69 64.19,734.8 64.18,734.91 64.17,735 64.17,735.1 64.16,735.19 64.15,735.28 64.15,735.37 64.14,735.45 64.14,735.53 64.13,735.6 64.13,735.67 64.12,735.74 64.12,735.81 64.11,735.88 64.11,735.94 64.1,736 64.1,736.05 64.1,736.11 64.09,736.16 64.09,736.21 64.09,736.26 64.08,736.31 64.08,736.36 64.08,736.4 64.07,736.44 64.07,736.48 64.07,736.52 64.06,736.56 64.06,736.6 64.06,736.63 64.06,736.66 64.06,736.7 64.05,736.73 64.05,736.76 64.05,736.78 64.05,736.81 64.05,736.84 64.04,736.86 64.04,736.89 64.04,736.91 64.04,736.93 64.04,736.96 64.04,736.98 64.03,737 64.03,737.02 64.03,737.03 64.03,737.05 64.03,737.07 64.03,737.09 64.03,737.1 64.03,737.12 64.03,737.13 64.02,737.15 64.02,737.16 64.02,737.17 64.02,737.18 64.02,737.2 64.02,737.21 64.02,737.22 64.02,737.23 64.02,737.24 64.02,737.25 64.02,737.26 64.02,737.27 64.02,737.28 64.02,737.29 64.01,737.29 64.01,737.3 64.01,737.31 64.01,737.32 64.01,737.32 64.01,737.33 64.01,737.34 64.01,737.34 64.01,737.35 64.01,737.36 64.01,737.36 64.01,737.37 64.01,737.37 64.01,737.38 64.01,737.38 64.01,737.39 64.01,737.39 64.01,737.39 64.01,737.4 64.01,737.4 64.01,737.41 64.01,737.41 64.01,737.41 64.01,737.42 64.01,737.42 64.01,737.42 64.01,737.43 64.01,737.43 64.01,737.43 64.01,737.43 64.01,737.44 64.01,737.44 64.01,737.44 64,737.44 64,737.45 64,737.45 64,737.45 64,737.45 64,737.45 64,737.46 64,737.46 64,737.46 64,737.46 64,737.46 64,737.46 64,737.46 64,737.47 64,737.47 64,737.47 64,737.47 64,737.47 64,737.47 64,737.47 64,737.47 64,737.48 64,737.48 64,737.48 64,737.48 64,737.48 64,737.48 64,737.48 64,737.48 64,737.48 64,737.48 64,737.48 64,737.48 64,737.48 64,737.48 64,737.49 64,737.49 64,737.49 64,737.49 64,737.49 64,737.49 64,737.49 64,737.49 64,737.49 64,737.49 64,737.49 64,737.49 64,737.49 64,737.49 64,737.49 64,737.49 64,737.49 64,737.49 64,737.49 64,737.49 64,737.49 64,737.49 64,737.49 64,737.49 64,737.49 64,737.49 64,737.49 64,737.49 64,737.5 64,737.5 64,737.5 64,737.5 64,737.5 64,737.5 64,737.5 64,737.5 64,737.5 64,737.5 64,737.5 64,737.5 64,737.5 64,737.5 64,737.5 64,737.5 64,737.5 64,737.5 64,737.5 64,737.5 64,737.5 64,737.5 64,737.5 64,737.5 64,737.5 64,737.5 64,737.5 64,737.5 64,737.5 64,737.5 64,737.5 64,737.5 64,737.5 64,737.5 64,737.5 64,737.5 64,737.5 64,737.5 64,737.5 64,737.5 64,737.5 64,737.5 64,737.5 64,737.5 64,737.5 64,737.5 64,737.5 64,737.5 64,737.5 64,737.5 64,737.5 64,737.5 64,737.5 64,737.5 64,737.5 64,737.5 64,737.5 64,737.5 64,737.5 64,737.5 64,737.5 64,737.5 64,737.5 64,737.5 64,737.5 64,737.5 64,737.5 64,737.5 64,737.5 64,737.5 64,737.5 64,737.5 64,737.5 64,737.5 64,737.5 64,737.5 64,737.5 64,737.5 64,737.5 64,737.5 64,737.5 64,737.5 64,737.5 64,737.5 64,737.5 64,737.5 64,737.5 64,737.5 64,737.5 64,737.5 64,737.5 64,737.5 64,737.5 64,737.5 64,737.5 64,737.5 64,737.5 64,737.5 64,737.5 64,737.5 64,737.5 64,737.5 64,737.5 64,737.5 64,737.5 64,737.5 64,737.5 64,737.5 64,737.5 64,737.5 64,737.5 64,737.5 64,737.5 64,737.5 64,737.5 64,737.5 64,737.5 64,737.5 64,737.5 64,737.5 64,737.5 64,737.5 64,737.5 64,737.5 64,737.5 64,737.5 64,737.5 64,737.5 64,737.5 64,737.5" fill="none" stroke="#3e4a89" stroke-width="1.0" stroke-linejoin="round"/><polyline points="116.65,563.97 113.29,570.05 110.15,575.96 107.21,581.69 104.47,587.25 101.9,592.63 99.5,597.84 97.26,602.88 95.16,607.76 93.2,612.48 91.37,617.04 89.66,621.45 88.06,625.71 86.57,629.83 85.17,633.8 83.87,637.63 82.65,641.33 81.51,644.9 80.44,648.35 79.45,651.67 78.51,654.87 77.64,657.96 76.83,660.94 76.06,663.81 75.35,666.57 74.68,669.24 74.06,671.81 73.47,674.28 72.92,676.66 72.41,678.96 71.93,681.16 71.48,683.29 71.05,685.34 70.66,687.31 70.29,689.21 69.94,691.04 69.61,692.8 69.3,694.5 69.01,696.13 68.74,697.7 68.48,699.21 68.24,700.66 68.02,702.06 67.81,703.41 67.61,704.71 67.42,705.95 67.24,707.15 67.07,708.31 66.92,709.42 66.77,710.49 66.63,711.52 66.49,712.51 66.37,713.46 66.25,714.38 66.14,715.26 66.04,716.11 65.94,716.92 65.84,717.71 65.75,718.46 65.67,719.19 65.59,719.89 65.52,720.56 65.44,721.2 65.38,721.83 65.31,722.42 65.25,723 65.19,723.55 65.14,724.09 65.09,724.6 65.04,725.09 64.99,725.56 64.95,726.02 64.9,726.46 64.86,726.88 64.83,727.29 64.79,727.68 64.75,728.05 64.72,728.41 64.69,728.76 64.66,729.09 64.63,729.42 64.6,729.72 64.58,730.02 64.55,730.31 64.53,730.58 64.51,730.85 64.49,731.1 64.47,731.35 64.45,731.58 64.43,731.81 64.41,732.02 64.39,732.23 64.38,732.44 64.36,732.63 64.35,732.81 64.33,732.99 64.32,733.17 64.3,733.33 64.29,733.49 64.28,733.64 64.27,733.79 64.26,733.93 64.25,734.07 64.24,734.2 64.23,734.33 64.22,734.45 64.21,734.57 64.2,734.68 64.19,734.79 64.19,734.89 64.18,734.99 64.17,735.09 64.16,735.18 64.16,735.27 64.15,735.35 64.15,735.43 64.14,735.51 64.13,735.59 64.13,735.66 64.12,735.73 64.12,735.8 64.11,735.86 64.11,735.93 64.11,735.99 64.1,736.05 64.1,736.1 64.09,736.15 64.09,736.21 64.09,736.26 64.08,736.3 64.08,736.35 64.08,736.39 64.07,736.44 64.07,736.48 64.07,736.52 64.07,736.55 64.06,736.59 64.06,736.62 64.06,736.66 64.06,736.69 64.05,736.72 64.05,736.75 64.05,736.78 64.05,736.81 64.05,736.83 64.04,736.86 64.04,736.88 64.04,736.91 64.04,736.93 64.04,736.95 64.04,736.97 64.04,736.99 64.03,737.01 64.03,737.03 64.03,737.05 64.03,737.07 64.03,737.08 64.03,737.1 64.03,737.11 64.03,737.13 64.03,737.14 64.02,737.16 64.02,737.17 64.02,737.18 64.02,737.19 64.02,737.21 64.02,737.22 64.02,737.23 64.02,737.24 64.02,737.25 64.02,737.26 64.02,737.27 64.02,737.28 64.02,737.28 64.02,737.29 64.01,737.3 64.01,737.31 64.01,737.32 64.01,737.32 64.01,737.33 64.01,737.34 64.01,737.34 64.01,737.35 64.01,737.35 64.01,737.36 64.01,737.37 64.01,737.37 64.01,737.38 64.01,737.38 64.01,737.38 64.01,737.39 64.01,737.39 64.01,737.4 64.01,737.4 64.01,737.41 64.01,737.41 64.01,737.41 64.01,737.42 64.01,737.42 64.01,737.42 64.01,737.42 64.01,737.43 64.01,737.43 64.01,737.43 64.01,737.44 64.01,737.44 64.01,737.44 64,737.44 64,737.45 64,737.45 64,737.45 64,737.45 64,737.45 64,737.45 64,737.46 64,737.46 64,737.46 64,737.46 64,737.46 64,737.46 64,737.47 64,737.47 64,737.47 64,737.47 64,737.47 64,737.47 64,737.47 64,737.47 64,737.47 64,737.48 64,737.48 64,737.48 64,737.48 64,737.48 64,737.48 64,737.48 64,737.48 64,737.48 64,737.48 64,737.48 64,737.48 64,737.48 64,737.49 64,737.49 64,737.49 64,737.49 64,737.49 64,737.49 64,737.49 64,737.49 64,737.49 64,737.49 64,737.49 64,737.49 64,737.49 64,737.49 64,737.49 64,737.49 64,737.49 64,737.49 64,737.49 64,737.49 64,737.49 64,737.49 64,737.49 64,737.49 64,737.49 64,737.49 64,737.49 64,737.49 64,737.5 64,737.5 64,737.5 64,737.5 64,737.5 64,737.5 64,737.5 64,737.5 64,737.5 64,737.5 64,737.5 64,737.5 64,737.5 64,737.5 64,737.5 64,737.5 64,737.5 64,737.5 64,737.5 64,737.5 64,737.5 64,737.5 64,737.5 64,737.5 64,737.5 64,737.5 64,737.5 64,737.5 64,737.5 64,737.5 64,737.5 64,737.5 64,737.5 64,737.5 64,737.5 64,737.5 64,737.5 64,737.5 64,737.5 64,737.5 64,737.5 64,737.5 64,737.5 64,737.5 64,737.5 64,737.5 64,737.5 64,737.5 64,737.5 64,737.5 64,737.5 64,737.5 64,737.5 64,737.5 64,737.5 64,737.5 64,737.5 64,737.5 64,737.5 64,737.5 64,737.5 64,737.5 64,737.5 64,737.5 64,737.5 64,737.5 64,737.5 64,737.5 64,737.5 64,737.5 64,737.5 64,737.5 64,737.5 64,737.5 64,737.5 64,737.5 64,737.5 64,737.5 64,737.5 64,737.5 64,737.5 64,737.5 64,737.5 64,737.5 64,737.5 64,737.5 64,737.5 64,737.5 64,737.5 64,737.5 64,737.5 64,737.5 64,737.5 64,737.5 64,737.5 64,737.5 64,737.5 64,737.5 64,737.5 64,737.5 64,737.5 64,737.5 64,737.5 64,737.5 64,737.5 64,737.5 64,737.5 64,737.5 64,737.5 64,737.5 64,737.5 64,737.5 64,737.5 64,737.5 64,737.5 64,737.5 64,737.5 64,737.5 64,737.5 64,737.5 64,737.5 64,737.5 64,737.5 64,737.5 64,737.5 64,737.5 64,737.5 64,737.5 64,737.5 64,737.5" fill="none" stroke="#25858e" stroke-width="1.0" stroke-linejoin="round"/><polyline points="118.91,564.42 115.41,570.43 112.14,576.28 109.08,581.95 106.21,587.45 103.53,592.79 101.03,597.96 98.69,602.97 96.5,607.81 94.45,612.51 92.54,617.04 90.75,621.43 89.08,625.67 87.52,629.77 86.06,633.73 84.7,637.55 83.43,641.24 82.24,644.8 81.12,648.24 80.08,651.56 79.11,654.75 78.2,657.84 77.35,660.81 76.55,663.68 75.8,666.44 75.11,669.11 74.45,671.67 73.84,674.15 73.27,676.53 72.73,678.82 72.23,681.04 71.76,683.16 71.32,685.21 70.9,687.19 70.52,689.09 70.15,690.92 69.81,692.68 69.49,694.38 69.19,696.01 68.91,697.59 68.64,699.1 68.39,700.56 68.15,701.96 67.93,703.31 67.73,704.61 67.53,705.86 67.35,707.06 67.17,708.22 67.01,709.33 66.86,710.4 66.71,711.43 66.57,712.43 66.44,713.38 66.32,714.3 66.21,715.18 66.1,716.03 65.99,716.85 65.9,717.64 65.81,718.39 65.72,719.12 65.64,719.82 65.56,720.5 65.48,721.15 65.41,721.77 65.35,722.37 65.29,722.95 65.23,723.5 65.17,724.04 65.12,724.55 65.06,725.04 65.02,725.52 64.97,725.98 64.93,726.42 64.89,726.84 64.85,727.25 64.81,727.64 64.77,728.01 64.74,728.38 64.71,728.72 64.68,729.06 64.65,729.38 64.62,729.69 64.59,729.99 64.57,730.28 64.54,730.55 64.52,730.82 64.5,731.07 64.48,731.32 64.46,731.56 64.44,731.78 64.42,732 64.4,732.21 64.38,732.41 64.37,732.61 64.35,732.79 64.34,732.97 64.32,733.15 64.31,733.31 64.3,733.47 64.29,733.63 64.27,733.78 64.26,733.92 64.25,734.05 64.24,734.19 64.23,734.31 64.22,734.43 64.21,734.55 64.21,734.66 64.2,734.77 64.19,734.88 64.18,734.98 64.18,735.07 64.17,735.17 64.16,735.26 64.16,735.34 64.15,735.42 64.14,735.5 64.14,735.58 64.13,735.65 64.13,735.72 64.12,735.79 64.12,735.86 64.11,735.92 64.11,735.98 64.1,736.04 64.1,736.09 64.1,736.15 64.09,736.2 64.09,736.25 64.09,736.3 64.08,736.34 64.08,736.39 64.08,736.43 64.07,736.47 64.07,736.51 64.07,736.55 64.06,736.58 64.06,736.62 64.06,736.65 64.06,736.69 64.06,736.72 64.05,736.75 64.05,736.78 64.05,736.8 64.05,736.83 64.05,736.86 64.04,736.88 64.04,736.9 64.04,736.93 64.04,736.95 64.04,736.97 64.04,736.99 64.04,737.01 64.03,737.03 64.03,737.05 64.03,737.06 64.03,737.08 64.03,737.1 64.03,737.11 64.03,737.13 64.03,737.14 64.02,737.15 64.02,737.17 64.02,737.18 64.02,737.19 64.02,737.2 64.02,737.22 64.02,737.23 64.02,737.24 64.02,737.25 64.02,737.26 64.02,737.27 64.02,737.27 64.02,737.28 64.02,737.29 64.01,737.3 64.01,737.31 64.01,737.31 64.01,737.32 64.01,737.33 64.01,737.34 64.01,737.34 64.01,737.35 64.01,737.35 64.01,737.36 64.01,737.36 64.01,737.37 64.01,737.37 64.01,737.38 64.01,737.38 64.01,737.39 64.01,737.39 64.01,737.4 64.01,737.4 64.01,737.4 64.01,737.41 64.01,737.41 64.01,737.42 64.01,737.42 64.01,737.42 64.01,737.42 64.01,737.43 64.01,737.43 64.01,737.43 64.01,737.44 64.01,737.44 64.01,737.44 64.01,737.44 64,737.44 64,737.45 64,737.45 64,737.45 64,737.45 64,737.45 64,737.46 64,737.46 64,737.46 64,737.46 64,737.46 64,737.46 64,737.47 64,737.47 64,737.47 64,737.47 64,737.47 64,737.47 64,737.47 64,737.47 64,737.47 64,737.48 64,737.48 64,737.48 64,737.48 64,737.48 64,737.48 64,737.48 64,737.48 64,737.48 64,737.48 64,737.48 64,737.48 64,737.48 64,737.49 64,737.49 64,737.49 64,737.49 64,737.49 64,737.49 64,737.49 64,737.49 64,737.49 64,737.49 64,737.49 64,737.49 64,737.49 64,737.49 64,737.49 64,737.49 64,737.49 64,737.49 64,737.49 64,737.49 64,737.49 64,737.49 64,737.49 64,737.49 64,737.49 64,737.49 64,737.49 64,737.49 64,737.5 64,737.5 64,737.5 64,737.5 64,737.5 64,737.5 64,737.5 64,737.5 64,737.5 64,737.5 64,737.5 64,737.5 64,737.5 64,737.5 64,737.5 64,737.5 64,737.5 64,737.5 64,737.5 64,737.5 64,737.5 64,737.5 64,737.5 64,737.5 64,737.5 64,737.5 64,737.5 64,737.5 64,737.5 64,737.5 64,737.5 64,737.5 64,737.5 64,737.5 64,737.5 64,737.5 64,737.5 64,737.5 64,737.5 64,737.5 64,737.5 64,737.5 64,737.5 64,737.5 64,737.5 64,737.5 64,737.5 64,737.5 64,737.5 64,737.5 64,737.5 64,737.5 64,737.5 64,737.5 64,737.5 64,737.5 64,737.5 64,737.5 64,737.5 64,737.5 64,737.5 64,737.5 64,737.5 64,737.5 64,737.5 64,737.5 64,737.5 64,737.5 64,737.5 64,737.5 64,737.5 64,737.5 64,737.5 64,737.5 64,737.5 64,737.5 64,737.5 64,737.5 64,737.5 64,737.5 64,737.5 64,737.5 64,737.5 64,737.5 64,737.5 64,737.5 64,737.5 64,737.5 64,737.5 64,737.5 64,737.5 64,737.5 64,737.5 64,737.5 64,737.5 64,737.5 64,737.5 64,737.5 64,737.5 64,737.5 64,737.5 64,737.5 64,737.5 64,737.5 64,737.5 64,737.5 64,737.5 64,737.5 64,737.5 64,737.5 64,737.5 64,737.5 64,737.5 64,737.5 64,737.5 64,737.5 64,737.5 64,737.5 64,737.5 64,737.5 64,737.5 64,737.5 64,737.5 64,737.5 64,737.5 64,737.5 64,737.5 64,737.5 64,737.5 64,737.5" fill="none" stroke="#3dbc74" stroke-width="1.0" stroke-linejoin="round"/><polyline points="122.42,564.74 118.71,570.65 115.24,576.41 111.99,582 108.95,587.43 106.1,592.71 103.44,597.83 100.95,602.79 98.62,607.6 96.44,612.25 94.4,616.76 92.5,621.13 90.72,625.35 89.05,629.43 87.5,633.37 86.04,637.18 84.68,640.87 83.41,644.42 82.22,647.85 81.11,651.17 80.07,654.36 79.1,657.45 78.19,660.42 77.34,663.29 76.54,666.06 75.8,668.73 75.1,671.3 74.45,673.78 73.84,676.17 73.27,678.47 72.73,680.69 72.23,682.82 71.76,684.88 71.32,686.86 70.9,688.77 70.52,690.61 70.15,692.38 69.81,694.09 69.49,695.73 69.19,697.31 68.91,698.83 68.64,700.29 68.39,701.7 68.16,703.06 67.93,704.36 67.73,705.62 67.53,706.83 67.35,707.99 67.17,709.11 67.01,710.19 66.86,711.23 66.71,712.23 66.57,713.19 66.44,714.11 66.32,715 66.21,715.86 66.1,716.68 65.99,717.47 65.9,718.24 65.81,718.97 65.72,719.67 65.64,720.35 65.56,721.01 65.48,721.63 65.41,722.24 65.35,722.82 65.29,723.38 65.23,723.92 65.17,724.43 65.12,724.93 65.06,725.41 65.02,725.87 64.97,726.32 64.93,726.74 64.89,727.15 64.85,727.55 64.81,727.93 64.77,728.29 64.74,728.64 64.71,728.98 64.68,729.31 64.65,729.62 64.62,729.92 64.59,730.21 64.57,730.49 64.54,730.75 64.52,731.01 64.5,731.26 64.48,731.5 64.46,731.73 64.44,731.95 64.42,732.16 64.4,732.36 64.38,732.56 64.37,732.75 64.35,732.93 64.34,733.1 64.32,733.27 64.31,733.43 64.3,733.59 64.29,733.74 64.28,733.88 64.26,734.02 64.25,734.15 64.24,734.28 64.23,734.4 64.22,734.52 64.21,734.63 64.21,734.74 64.2,734.85 64.19,734.95 64.18,735.05 64.18,735.14 64.17,735.23 64.16,735.32 64.16,735.4 64.15,735.48 64.14,735.56 64.14,735.63 64.13,735.7 64.13,735.77 64.12,735.84 64.12,735.9 64.11,735.96 64.11,736.02 64.1,736.08 64.1,736.13 64.1,736.18 64.09,736.23 64.09,736.28 64.09,736.33 64.08,736.37 64.08,736.42 64.08,736.46 64.07,736.5 64.07,736.54 64.07,736.57 64.07,736.61 64.06,736.64 64.06,736.68 64.06,736.71 64.06,736.74 64.05,736.77 64.05,736.79 64.05,736.82 64.05,736.85 64.05,736.87 64.04,736.9 64.04,736.92 64.04,736.94 64.04,736.96 64.04,736.98 64.04,737 64.04,737.02 64.03,737.04 64.03,737.06 64.03,737.07 64.03,737.09 64.03,737.11 64.03,737.12 64.03,737.14 64.03,737.15 64.02,737.16 64.02,737.18 64.02,737.19 64.02,737.2 64.02,737.21 64.02,737.22 64.02,737.23 64.02,737.24 64.02,737.25 64.02,737.26 64.02,737.27 64.02,737.28 64.02,737.29 64.02,737.3 64.01,737.3 64.01,737.31 64.01,737.32 64.01,737.33 64.01,737.33 64.01,737.34 64.01,737.35 64.01,737.35 64.01,737.36 64.01,737.36 64.01,737.37 64.01,737.37 64.01,737.38 64.01,737.38 64.01,737.39 64.01,737.39 64.01,737.4 64.01,737.4 64.01,737.4 64.01,737.41 64.01,737.41 64.01,737.41 64.01,737.42 64.01,737.42 64.01,737.42 64.01,737.43 64.01,737.43 64.01,737.43 64.01,737.43 64.01,737.44 64.01,737.44 64.01,737.44 64.01,737.44 64,737.45 64,737.45 64,737.45 64,737.45 64,737.45 64,737.46 64,737.46 64,737.46 64,737.46 64,737.46 64,737.46 64,737.46 64,737.47 64,737.47 64,737.47 64,737.47 64,737.47 64,737.47 64,737.47 64,737.47 64,737.48 64,737.48 64,737.48 64,737.48 64,737.48 64,737.48 64,737.48 64,737.48 64,737.48 64,737.48 64,737.48 64,737.48 64,737.48 64,737.49 64,737.49 64,737.49 64,737.49 64,737.49 64,737.49 64,737.49 64,737.49 64,737.49 64,737.49 64,737.49 64,737.49 64,737.49 64,737.49 64,737.49 64,737.49 64,737.49 64,737.49 64,737.49 64,737.49 64,737.49 64,737.49 64,737.49 64,737.49 64,737.49 64,737.49 64,737.49 64,737.49 64,737.49 64,737.5 64,737.5 64,737.5 64,737.5 64,737.5 64,737.5 64,737.5 64,737.5 64,737.5 64,737.5 64,737.5 64,737.5 64,737.5 64,737.5 64,737.5 64,737.5 64,737.5 64,737.5 64,737.5 64,737.5 64,737.5 64,737.5 64,737.5 64,737.5 64,737.5 64,737.5 64,737.5 64,737.5 64,737.5 64,737.5 64,737.5 64,737.5 64,737.5 64,737.5 64,737.5 64,737.5 64,737.5 64,737.5 64,737.5 64,737.5 64,737.5 64,737.5 64,737.5 64,737.5 64,737.5 64,737.5 64,737.5 64,737.5 64,737.5 64,737.5 64,737.5 64,737.5 64,737.5 64,737.5 64,737.5 64,737.5 64,737.5 64,737.5 64,737.5 64,737.5 64,737.5 64,737.5 64,737.5 64,737.5 64,737.5 64,737.5 64,737.5 64,737.5 64,737.5 64,737.5 64,737.5 64,737.5 64,737.5 64,737.5 64,737.5 64,737.5 64,737.5 64,737.5 64,737.5 64,737.5 64,737.5 64,737.5 64,737.5 64,737.5 64,737.5 64,737.5 64,737.5 64,737.5 64,737.5 64,737.5 64,737.5 64,737.5 64,737.5 64,737.5 64,737.5 64,737.5 64,737.5 64,737.5 64,737.5 64,737.5 64,737.5 64,737.5 64,737.5 64,737.5 64,737.5 64,737.5 64,737.5 64,737.5 64,737.5 64,737.5 64,737.5 64,737.5 64,737.5 64,737.5 64,737.5 64,737.5 64,737.5 64,737.5 64,737.5 64,737.5 64,737.5 64,737.5 64,737.5 64,737.5 64,737.5 64,737.5 64,737.5 64,737.5 64,737.5" fill="none" stroke="#bddf26" stroke-width="1.0" stroke-linejoin="round"/><path d="M134.23 636.26L137.83 639.86M134.23 639.86L137.83 636.26" stroke="#440154" stroke-width="0.95"/><path d="M112.62 655.15L116.22 658.75M112.62 658.75L116.22 655.15" stroke="#440154" stroke-width="0.95"/><path d="M98.57 666.78L102.17 670.38M98.57 670.38L102.17 666.78" stroke="#440154" stroke-width="0.95"/><path d="M88.2 677.72L91.8 681.32M88.2 681.32L91.8 677.72" stroke="#440154" stroke-width="0.95"/><path d="M80.73 687.53L84.33 691.13M80.73 691.13L84.33 687.53" stroke="#440154" stroke-width="0.95"/><path d="M75.43 696.03L79.03 699.63M75.43 699.63L79.03 696.03" stroke="#440154" stroke-width="0.95"/><path d="M71.68 703.23L75.28 706.83M71.68 706.83L75.28 703.23" stroke="#440154" stroke-width="0.95"/><path d="M69.04 709.25L72.64 712.85M69.04 712.85L72.64 709.25" stroke="#440154" stroke-width="0.95"/><path d="M67.18 714.21L70.78 717.81M67.18 717.81L70.78 714.21" stroke="#440154" stroke-width="0.95"/><path d="M65.86 718.29L69.46 721.89M65.86 721.89L69.46 718.29" stroke="#440154" stroke-width="0.95"/><path d="M64.92 721.61L68.52 725.21M64.92 725.21L68.52 721.61" stroke="#440154" stroke-width="0.95"/><path d="M64.24 724.31L67.84 727.91M64.24 727.91L67.84 724.31" stroke="#440154" stroke-width="0.95"/><path d="M63.74 726.5L67.34 730.1M63.74 730.1L67.34 726.5" stroke="#440154" stroke-width="0.95"/><path d="M63.38 728.27L66.98 731.87M63.38 731.87L66.98 728.27" stroke="#440154" stroke-width="0.95"/><path d="M63.1 729.71L66.7 733.31M63.1 733.31L66.7 729.71" stroke="#440154" stroke-width="0.95"/><path d="M62.9 730.87L66.5 734.47M62.9 734.47L66.5 730.87" stroke="#440154" stroke-width="0.95"/><path d="M62.75 731.8L66.35 735.4M62.75 735.4L66.35 731.8" stroke="#440154" stroke-width="0.95"/><path d="M62.63 732.56L66.23 736.16M62.63 736.16L66.23 732.56" stroke="#440154" stroke-width="0.95"/><path d="M62.54 733.17L66.14 736.77M62.54 736.77L66.14 733.17" stroke="#440154" stroke-width="0.95"/><path d="M62.47 733.66L66.07 737.26M62.47 737.26L66.07 733.66" stroke="#440154" stroke-width="0.95"/><path d="M62.41 734.06L66.01 737.66M62.41 737.66L66.01 734.06" stroke="#440154" stroke-width="0.95"/><path d="M62.37 734.37L65.97 737.97M62.37 737.97L65.97 734.37" stroke="#440154" stroke-width="0.95"/><path d="M62.34 734.63L65.94 738.23M62.34 738.23L65.94 734.63" stroke="#440154" stroke-width="0.95"/><path d="M62.31 734.84L65.91 738.44M62.31 738.44L65.91 734.84" stroke="#440154" stroke-width="0.95"/><path d="M62.29 735.01L65.89 738.61M62.29 738.61L65.89 735.01" stroke="#440154" stroke-width="0.95"/><path d="M62.27 735.14L65.87 738.74M62.27 738.74L65.87 735.14" stroke="#440154" stroke-width="0.95"/><path d="M62.26 735.25L65.86 738.85M62.26 738.85L65.86 735.25" stroke="#440154" stroke-width="0.95"/><path d="M62.25 735.34L65.85 738.94M62.25 738.94L65.85 735.34" stroke="#440154" stroke-width="0.95"/><path d="M62.24 735.41L65.84 739.01M62.24 739.01L65.84 735.41" stroke="#440154" stroke-width="0.95"/><path d="M62.23 735.46L65.83 739.06M62.23 739.06L65.83 735.46" stroke="#440154" stroke-width="0.95"/><path d="M62.22 735.51L65.82 739.11M62.22 739.11L65.82 735.51" stroke="#440154" stroke-width="0.95"/><path d="M62.22 735.55L65.82 739.15M62.22 739.15L65.82 735.55" stroke="#440154" stroke-width="0.95"/><path d="M62.22 735.58L65.82 739.18M62.22 739.18L65.82 735.58" stroke="#440154" stroke-width="0.95"/><path d="M62.21 735.6L65.81 739.2M62.21 739.2L65.81 735.6" stroke="#440154" stroke-width="0.95"/><path d="M62.21 735.62L65.81 739.22M62.21 739.22L65.81 735.62" stroke="#440154" stroke-width="0.95"/><path d="M62.21 735.64L65.81 739.24M62.21 739.24L65.81 735.64" stroke="#440154" stroke-width="0.95"/><path d="M62.21 735.65L65.81 739.25M62.21 739.25L65.81 735.65" stroke="#440154" stroke-width="0.95"/><path d="M62.21 735.66L65.81 739.26M62.21 739.26L65.81 735.66" stroke="#440154" stroke-width="0.95"/><path d="M62.21 735.67L65.81 739.27M62.21 739.27L65.81 735.67" stroke="#440154" stroke-width="0.95"/><path d="M62.2 735.67L65.8 739.27M62.2 739.27L65.8 735.67" stroke="#440154" stroke-width="0.95"/><path d="M62.2 735.68L65.8 739.28M62.2 739.28L65.8 735.68" stroke="#440154" stroke-width="0.95"/><path d="M62.2 735.68L65.8 739.28M62.2 739.28L65.8 735.68" stroke="#440154" stroke-width="0.95"/><path d="M62.2 735.69L65.8 739.29M62.2 739.29L65.8 735.69" stroke="#440154" stroke-width="0.95"/><path d="M62.2 735.69L65.8 739.29M62.2 739.29L65.8 735.69" stroke="#440154" stroke-width="0.95"/><path d="M62.2 735.69L65.8 739.29M62.2 739.29L65.8 735.69" stroke="#440154" stroke-width="0.95"/><path d="M62.2 735.69L65.8 739.29M62.2 739.29L65.8 735.69" stroke="#440154" stroke-width="0.95"/><path d="M62.2 735.69L65.8 739.29M62.2 739.29L65.8 735.69" stroke="#440154" stroke-width="0.95"/><path d="M62.2 735.7L65.8 739.3M62.2 739.3L65.8 735.7" stroke="#440154" stroke-width="0.95"/><path d="M62.2 735.7L65.8 739.3M62.2 739.3L65.8 735.7" stroke="#440154" stroke-width="0.95"/><path d="M62.2 735.7L65.8 739.3M62.2 739.3L65.8 735.7" stroke="#440154" stroke-width="0.95"/><path d="M62.2 735.7L65.8 739.3M62.2 739.3L65.8 735.7" stroke="#440154" stroke-width="0.95"/><path d="M62.2 735.7L65.8 739.3M62.2 739.3L65.8 735.7" stroke="#440154" stroke-width="0.95"/><path d="M62.2 735.7L65.8 739.3M62.2 739.3L65.8 735.7" stroke="#440154" stroke-width="0.95"/><path d="M62.2 735.7L65.8 739.3M62.2 739.3L65.8 735.7" stroke="#440154" stroke-width="0.95"/><path d="M62.2 735.7L65.8 739.3M62.2 739.3L65.8 735.7" stroke="#440154" stroke-width="0.95"/><path d="M62.2 735.7L65.8 739.3M62.2 739.3L65.8 735.7" stroke="#440154" stroke-width="0.95"/><path d="M62.2 735.7L65.8 739.3M62.2 739.3L65.8 735.7" stroke="#440154" stroke-width="0.95"/><path d="M62.2 735.7L65.8 739.3M62.2 739.3L65.8 735.7" stroke="#440154" stroke-width="0.95"/><path d="M62.2 735.7L65.8 739.3M62.2 739.3L65.8 735.7" stroke="#440154" stroke-width="0.95"/><path d="M62.2 735.7L65.8 739.3M62.2 739.3L65.8 735.7" stroke="#440154" stroke-width="0.95"/><path d="M62.2 735.7L65.8 739.3M62.2 739.3L65.8 735.7" stroke="#440154" stroke-width="0.95"/><path d="M62.2 735.7L65.8 739.3M62.2 739.3L65.8 735.7" stroke="#440154" stroke-width="0.95"/><path d="M62.2 735.7L65.8 739.3M62.2 739.3L65.8 735.7" stroke="#440154" stroke-width="0.95"/><path d="M62.2 735.7L65.8 739.3M62.2 739.3L65.8 735.7" stroke="#440154" stroke-width="0.95"/><path d="M62.2 735.7L65.8 739.3M62.2 739.3L65.8 735.7" stroke="#440154" stroke-width="0.95"/><path d="M62.2 735.7L65.8 739.3M62.2 739.3L65.8 735.7" stroke="#440154" stroke-width="0.95"/><path d="M62.2 735.7L65.8 739.3M62.2 739.3L65.8 735.7" stroke="#440154" stroke-width="0.95"/><path d="M62.2 735.7L65.8 739.3M62.2 739.3L65.8 735.7" stroke="#440154" stroke-width="0.95"/><path d="M62.2 735.7L65.8 739.3M62.2 739.3L65.8 735.7" stroke="#440154" stroke-width="0.95"/><path d="M62.2 735.7L65.8 739.3M62.2 739.3L65.8 735.7" stroke="#440154" stroke-width="0.95"/><path d="M62.2 735.7L65.8 739.3M62.2 739.3L65.8 735.7" stroke="#440154" stroke-width="0.95"/><path d="M111.07 561.45L114.67 565.05M111.07 565.05L114.67 561.45" stroke="#3e4a89" stroke-width="0.95"/><path d="M95.83 594.28L99.43 597.88M95.83 597.88L99.43 594.28" stroke="#3e4a89" stroke-width="0.95"/><path d="M85.48 621.41L89.08 625.01M85.48 625.01L89.08 621.41" stroke="#3e4a89" stroke-width="0.95"/><path d="M78.44 643.6L82.04 647.2M78.44 647.2L82.04 643.6" stroke="#3e4a89" stroke-width="0.95"/><path d="M73.64 661.63L77.24 665.23M73.64 665.23L77.24 661.63" stroke="#3e4a89" stroke-width="0.95"/><path d="M70.34 676.21L73.94 679.81M70.34 679.81L73.94 676.21" stroke="#3e4a89" stroke-width="0.95"/><path d="M68.07 687.96L71.67 691.56M68.07 691.56L71.67 687.96" stroke="#3e4a89" stroke-width="0.95"/><path d="M66.47 697.42L70.07 701.02M66.47 701.02L70.07 697.42" stroke="#3e4a89" stroke-width="0.95"/><path d="M65.35 705.01L68.95 708.61M65.35 708.61L68.95 705.01" stroke="#3e4a89" stroke-width="0.95"/><path d="M64.55 711.11L68.15 714.71M64.55 714.71L68.15 711.11" stroke="#3e4a89" stroke-width="0.95"/><path d="M63.97 716L67.57 719.6M63.97 719.6L67.57 716" stroke="#3e4a89" stroke-width="0.95"/><path d="M63.54 719.92L67.14 723.52M63.54 723.52L67.14 719.92" stroke="#3e4a89" stroke-width="0.95"/><path d="M63.23 723.06L66.83 726.66M63.23 726.66L66.83 723.06" stroke="#3e4a89" stroke-width="0.95"/><path d="M62.99 725.58L66.59 729.18M62.99 729.18L66.59 725.58" stroke="#3e4a89" stroke-width="0.95"/><path d="M62.82 727.6L66.42 731.2M62.82 731.2L66.42 727.6" stroke="#3e4a89" stroke-width="0.95"/><path d="M62.68 729.21L66.28 732.81M62.68 732.81L66.28 729.21" stroke="#3e4a89" stroke-width="0.95"/><path d="M62.58 730.5L66.18 734.1M62.58 734.1L66.18 730.5" stroke="#3e4a89" stroke-width="0.95"/><path d="M62.5 731.54L66.1 735.14M62.5 735.14L66.1 731.54" stroke="#3e4a89" stroke-width="0.95"/><path d="M62.44 732.37L66.04 735.97M62.44 735.97L66.04 732.37" stroke="#3e4a89" stroke-width="0.95"/><path d="M62.39 733.03L65.99 736.63M62.39 736.63L65.99 733.03" stroke="#3e4a89" stroke-width="0.95"/><path d="M62.35 733.57L65.95 737.17M62.35 737.17L65.95 733.57" stroke="#3e4a89" stroke-width="0.95"/><path d="M62.32 733.99L65.92 737.59M62.32 737.59L65.92 733.99" stroke="#3e4a89" stroke-width="0.95"/><path d="M62.29 734.33L65.89 737.93M62.29 737.93L65.89 734.33" stroke="#3e4a89" stroke-width="0.95"/><path d="M62.28 734.6L65.88 738.2M62.28 738.2L65.88 734.6" stroke="#3e4a89" stroke-width="0.95"/><path d="M62.26 734.82L65.86 738.42M62.26 738.42L65.86 734.82" stroke="#3e4a89" stroke-width="0.95"/><path d="M62.25 735L65.85 738.6M62.25 738.6L65.85 735" stroke="#3e4a89" stroke-width="0.95"/><path d="M62.24 735.14L65.84 738.74M62.24 738.74L65.84 735.14" stroke="#3e4a89" stroke-width="0.95"/><path d="M62.23 735.25L65.83 738.85M62.23 738.85L65.83 735.25" stroke="#3e4a89" stroke-width="0.95"/><path d="M62.23 735.34L65.83 738.94M62.23 738.94L65.83 735.34" stroke="#3e4a89" stroke-width="0.95"/><path d="M62.22 735.41L65.82 739.01M62.22 739.01L65.82 735.41" stroke="#3e4a89" stroke-width="0.95"/><path d="M62.22 735.47L65.82 739.07M62.22 739.07L65.82 735.47" stroke="#3e4a89" stroke-width="0.95"/><path d="M62.21 735.52L65.81 739.12M62.21 739.12L65.81 735.52" stroke="#3e4a89" stroke-width="0.95"/><path d="M62.21 735.55L65.81 739.15M62.21 739.15L65.81 735.55" stroke="#3e4a89" stroke-width="0.95"/><path d="M62.21 735.58L65.81 739.18M62.21 739.18L65.81 735.58" stroke="#3e4a89" stroke-width="0.95"/><path d="M62.21 735.61L65.81 739.21M62.21 739.21L65.81 735.61" stroke="#3e4a89" stroke-width="0.95"/><path d="M62.21 735.62L65.81 739.22M62.21 739.22L65.81 735.62" stroke="#3e4a89" stroke-width="0.95"/><path d="M62.21 735.64L65.81 739.24M62.21 739.24L65.81 735.64" stroke="#3e4a89" stroke-width="0.95"/><path d="M62.2 735.65L65.8 739.25M62.2 739.25L65.8 735.65" stroke="#3e4a89" stroke-width="0.95"/><path d="M62.2 735.66L65.8 739.26M62.2 739.26L65.8 735.66" stroke="#3e4a89" stroke-width="0.95"/><path d="M62.2 735.67L65.8 739.27M62.2 739.27L65.8 735.67" stroke="#3e4a89" stroke-width="0.95"/><path d="M62.2 735.68L65.8 739.28M62.2 739.28L65.8 735.68" stroke="#3e4a89" stroke-width="0.95"/><path d="M62.2 735.68L65.8 739.28M62.2 739.28L65.8 735.68" stroke="#3e4a89" stroke-width="0.95"/><path d="M62.2 735.68L65.8 739.28M62.2 739.28L65.8 735.68" stroke="#3e4a89" stroke-width="0.95"/><path d="M62.2 735.69L65.8 739.29M62.2 739.29L65.8 735.69" stroke="#3e4a89" stroke-width="0.95"/><path d="M62.2 735.69L65.8 739.29M62.2 739.29L65.8 735.69" stroke="#3e4a89" stroke-width="0.95"/><path d="M62.2 735.69L65.8 739.29M62.2 739.29L65.8 735.69" stroke="#3e4a89" stroke-width="0.95"/><path d="M62.2 735.69L65.8 739.29M62.2 739.29L65.8 735.69" stroke="#3e4a89" stroke-width="0.95"/><path d="M62.2 735.69L65.8 739.29M62.2 739.29L65.8 735.69" stroke="#3e4a89" stroke-width="0.95"/><path d="M62.2 735.7L65.8 739.3M62.2 739.3L65.8 735.7" stroke="#3e4a89" stroke-width="0.95"/><path d="M62.2 735.7L65.8 739.3M62.2 739.3L65.8 735.7" stroke="#3e4a89" stroke-width="0.95"/><path d="M62.2 735.7L65.8 739.3M62.2 739.3L65.8 735.7" stroke="#3e4a89" stroke-width="0.95"/><path d="M62.2 735.7L65.8 739.3M62.2 739.3L65.8 735.7" stroke="#3e4a89" stroke-width="0.95"/><path d="M62.2 735.7L65.8 739.3M62.2 739.3L65.8 735.7" stroke="#3e4a89" stroke-width="0.95"/><path d="M62.2 735.7L65.8 739.3M62.2 739.3L65.8 735.7" stroke="#3e4a89" stroke-width="0.95"/><path d="M62.2 735.7L65.8 739.3M62.2 739.3L65.8 735.7" stroke="#3e4a89" stroke-width="0.95"/><path d="M62.2 735.7L65.8 739.3M62.2 739.3L65.8 735.7" stroke="#3e4a89" stroke-width="0.95"/><path d="M62.2 735.7L65.8 739.3M62.2 739.3L65.8 735.7" stroke="#3e4a89" stroke-width="0.95"/><path d="M62.2 735.7L65.8 739.3M62.2 739.3L65.8 735.7" stroke="#3e4a89" stroke-width="0.95"/><path d="M62.2 735.7L65.8 739.3M62.2 739.3L65.8 735.7" stroke="#3e4a89" stroke-width="0.95"/><path d="M62.2 735.7L65.8 739.3M62.2 739.3L65.8 735.7" stroke="#3e4a89" stroke-width="0.95"/><path d="M62.2 735.7L65.8 739.3M62.2 739.3L65.8 735.7" stroke="#3e4a89" stroke-width="0.95"/><path d="M62.2 735.7L65.8 739.3M62.2 739.3L65.8 735.7" stroke="#3e4a89" stroke-width="0.95"/><path d="M62.2 735.7L65.8 739.3M62.2 739.3L65.8 735.7" stroke="#3e4a89" stroke-width="0.95"/><path d="M62.2 735.7L65.8 739.3M62.2 739.3L65.8 735.7" stroke="#3e4a89" stroke-width="0.95"/><path d="M62.2 735.7L65.8 739.3M62.2 739.3L65.8 735.7" stroke="#3e4a89" stroke-width="0.95"/><path d="M62.2 735.7L65.8 739.3M62.2 739.3L65.8 735.7" stroke="#3e4a89" stroke-width="0.95"/><path d="M62.2 735.7L65.8 739.3M62.2 739.3L65.8 735.7" stroke="#3e4a89" stroke-width="0.95"/><path d="M62.2 735.7L65.8 739.3M62.2 739.3L65.8 735.7" stroke="#3e4a89" stroke-width="0.95"/><path d="M62.2 735.7L65.8 739.3M62.2 739.3L65.8 735.7" stroke="#3e4a89" stroke-width="0.95"/><path d="M62.2 735.7L65.8 739.3M62.2 739.3L65.8 735.7" stroke="#3e4a89" stroke-width="0.95"/><path d="M62.2 735.7L65.8 739.3M62.2 739.3L65.8 735.7" stroke="#3e4a89" stroke-width="0.95"/><path d="M114.85 562.17L118.45 565.77M114.85 565.77L118.45 562.17" stroke="#25858e" stroke-width="0.95"/><path d="M98.4 594.49L102 598.09M98.4 598.09L102 594.49" stroke="#25858e" stroke-width="0.95"/><path d="M87.21 621.37L90.81 624.97M87.21 624.97L90.81 621.37" stroke="#25858e" stroke-width="0.95"/><path d="M79.6 643.45L83.2 647.05M79.6 647.05L83.2 643.45" stroke="#25858e" stroke-width="0.95"/><path d="M74.41 661.44L78.01 665.04M74.41 665.04L78.01 661.44" stroke="#25858e" stroke-width="0.95"/><path d="M70.86 676.02L74.46 679.62M70.86 679.62L74.46 676.02" stroke="#25858e" stroke-width="0.95"/><path d="M68.41 687.79L72.01 691.39M68.41 691.39L72.01 687.79" stroke="#25858e" stroke-width="0.95"/><path d="M66.71 697.26L70.31 700.86M66.71 700.86L70.31 697.26" stroke="#25858e" stroke-width="0.95"/><path d="M65.51 704.88L69.11 708.48M65.51 708.48L69.11 704.88" stroke="#25858e" stroke-width="0.95"/><path d="M64.66 711L68.26 714.6M64.66 714.6L68.26 711" stroke="#25858e" stroke-width="0.95"/><path d="M64.04 715.91L67.64 719.51M64.04 719.51L67.64 715.91" stroke="#25858e" stroke-width="0.95"/><path d="M63.6 719.84L67.2 723.44M63.6 723.44L67.2 719.84" stroke="#25858e" stroke-width="0.95"/><path d="M63.27 723L66.87 726.6M63.27 726.6L66.87 723" stroke="#25858e" stroke-width="0.95"/><path d="M63.02 725.53L66.62 729.13M63.02 729.13L66.62 725.53" stroke="#25858e" stroke-width="0.95"/><path d="M62.84 727.55L66.44 731.15M62.84 731.15L66.44 727.55" stroke="#25858e" stroke-width="0.95"/><path d="M62.7 729.17L66.3 732.77M62.7 732.77L66.3 729.17" stroke="#25858e" stroke-width="0.95"/><path d="M62.59 730.47L66.19 734.07M62.59 734.07L66.19 730.47" stroke="#25858e" stroke-width="0.95"/><path d="M62.51 731.52L66.11 735.12M62.51 735.12L66.11 731.52" stroke="#25858e" stroke-width="0.95"/><path d="M62.44 732.35L66.04 735.95M62.44 735.95L66.04 732.35" stroke="#25858e" stroke-width="0.95"/><path d="M62.39 733.02L65.99 736.62M62.39 736.62L65.99 733.02" stroke="#25858e" stroke-width="0.95"/><path d="M62.35 733.55L65.95 737.15M62.35 737.15L65.95 733.55" stroke="#25858e" stroke-width="0.95"/><path d="M62.32 733.98L65.92 737.58M62.32 737.58L65.92 733.98" stroke="#25858e" stroke-width="0.95"/><path d="M62.3 734.32L65.9 737.92M62.3 737.92L65.9 734.32" stroke="#25858e" stroke-width="0.95"/><path d="M62.28 734.6L65.88 738.2M62.28 738.2L65.88 734.6" stroke="#25858e" stroke-width="0.95"/><path d="M62.26 734.82L65.86 738.42M62.26 738.42L65.86 734.82" stroke="#25858e" stroke-width="0.95"/><path d="M62.25 734.99L65.85 738.59M62.25 738.59L65.85 734.99" stroke="#25858e" stroke-width="0.95"/><path d="M62.24 735.13L65.84 738.73M62.24 738.73L65.84 735.13" stroke="#25858e" stroke-width="0.95"/><path d="M62.23 735.25L65.83 738.85M62.23 738.85L65.83 735.25" stroke="#25858e" stroke-width="0.95"/><path d="M62.23 735.34L65.83 738.94M62.23 738.94L65.83 735.34" stroke="#25858e" stroke-width="0.95"/><path d="M62.22 735.41L65.82 739.01M62.22 739.01L65.82 735.41" stroke="#25858e" stroke-width="0.95"/><path d="M62.22 735.47L65.82 739.07M62.22 739.07L65.82 735.47" stroke="#25858e" stroke-width="0.95"/><path d="M62.21 735.51L65.81 739.11M62.21 739.11L65.81 735.51" stroke="#25858e" stroke-width="0.95"/><path d="M62.21 735.55L65.81 739.15M62.21 739.15L65.81 735.55" stroke="#25858e" stroke-width="0.95"/><path d="M62.21 735.58L65.81 739.18M62.21 739.18L65.81 735.58" stroke="#25858e" stroke-width="0.95"/><path d="M62.21 735.6L65.81 739.2M62.21 739.2L65.81 735.6" stroke="#25858e" stroke-width="0.95"/><path d="M62.21 735.62L65.81 739.22M62.21 739.22L65.81 735.62" stroke="#25858e" stroke-width="0.95"/><path d="M62.21 735.64L65.81 739.24M62.21 739.24L65.81 735.64" stroke="#25858e" stroke-width="0.95"/><path d="M62.2 735.65L65.8 739.25M62.2 739.25L65.8 735.65" stroke="#25858e" stroke-width="0.95"/><path d="M62.2 735.66L65.8 739.26M62.2 739.26L65.8 735.66" stroke="#25858e" stroke-width="0.95"/><path d="M62.2 735.67L65.8 739.27M62.2 739.27L65.8 735.67" stroke="#25858e" stroke-width="0.95"/><path d="M62.2 735.67L65.8 739.27M62.2 739.27L65.8 735.67" stroke="#25858e" stroke-width="0.95"/><path d="M62.2 735.68L65.8 739.28M62.2 739.28L65.8 735.68" stroke="#25858e" stroke-width="0.95"/><path d="M62.2 735.68L65.8 739.28M62.2 739.28L65.8 735.68" stroke="#25858e" stroke-width="0.95"/><path d="M62.2 735.69L65.8 739.29M62.2 739.29L65.8 735.69" stroke="#25858e" stroke-width="0.95"/><path d="M62.2 735.69L65.8 739.29M62.2 739.29L65.8 735.69" stroke="#25858e" stroke-width="0.95"/><path d="M62.2 735.69L65.8 739.29M62.2 739.29L65.8 735.69" stroke="#25858e" stroke-width="0.95"/><path d="M62.2 735.69L65.8 739.29M62.2 739.29L65.8 735.69" stroke="#25858e" stroke-width="0.95"/><path d="M62.2 735.69L65.8 739.29M62.2 739.29L65.8 735.69" stroke="#25858e" stroke-width="0.95"/><path d="M62.2 735.7L65.8 739.3M62.2 739.3L65.8 735.7" stroke="#25858e" stroke-width="0.95"/><path d="M62.2 735.7L65.8 739.3M62.2 739.3L65.8 735.7" stroke="#25858e" stroke-width="0.95"/><path d="M62.2 735.7L65.8 739.3M62.2 739.3L65.8 735.7" stroke="#25858e" stroke-width="0.95"/><path d="M62.2 735.7L65.8 739.3M62.2 739.3L65.8 735.7" stroke="#25858e" stroke-width="0.95"/><path d="M62.2 735.7L65.8 739.3M62.2 739.3L65.8 735.7" stroke="#25858e" stroke-width="0.95"/><path d="M62.2 735.7L65.8 739.3M62.2 739.3L65.8 735.7" stroke="#25858e" stroke-width="0.95"/><path d="M62.2 735.7L65.8 739.3M62.2 739.3L65.8 735.7" stroke="#25858e" stroke-width="0.95"/><path d="M62.2 735.7L65.8 739.3M62.2 739.3L65.8 735.7" stroke="#25858e" stroke-width="0.95"/><path d="M62.2 735.7L65.8 739.3M62.2 739.3L65.8 735.7" stroke="#25858e" stroke-width="0.95"/><path d="M62.2 735.7L65.8 739.3M62.2 739.3L65.8 735.7" stroke="#25858e" stroke-width="0.95"/><path d="M62.2 735.7L65.8 739.3M62.2 739.3L65.8 735.7" stroke="#25858e" stroke-width="0.95"/><path d="M62.2 735.7L65.8 739.3M62.2 739.3L65.8 735.7" stroke="#25858e" stroke-width="0.95"/><path d="M62.2 735.7L65.8 739.3M62.2 739.3L65.8 735.7" stroke="#25858e" stroke-width="0.95"/><path d="M62.2 735.7L65.8 739.3M62.2 739.3L65.8 735.7" stroke="#25858e" stroke-width="0.95"/><path d="M62.2 735.7L65.8 739.3M62.2 739.3L65.8 735.7" stroke="#25858e" stroke-width="0.95"/><path d="M62.2 735.7L65.8 739.3M62.2 739.3L65.8 735.7" stroke="#25858e" stroke-width="0.95"/><path d="M62.2 735.7L65.8 739.3M62.2 739.3L65.8 735.7" stroke="#25858e" stroke-width="0.95"/><path d="M62.2 735.7L65.8 739.3M62.2 739.3L65.8 735.7" stroke="#25858e" stroke-width="0.95"/><path d="M62.2 735.7L65.8 739.3M62.2 739.3L65.8 735.7" stroke="#25858e" stroke-width="0.95"/><path d="M62.2 735.7L65.8 739.3M62.2 739.3L65.8 735.7" stroke="#25858e" stroke-width="0.95"/><path d="M62.2 735.7L65.8 739.3M62.2 739.3L65.8 735.7" stroke="#25858e" stroke-width="0.95"/><path d="M62.2 735.7L65.8 739.3M62.2 739.3L65.8 735.7" stroke="#25858e" stroke-width="0.95"/><path d="M62.2 735.7L65.8 739.3M62.2 739.3L65.8 735.7" stroke="#25858e" stroke-width="0.95"/><path d="M117.11 562.62L120.71 566.22M117.11 566.22L120.71 562.62" stroke="#3dbc74" stroke-width="0.95"/><path d="M99.96 594.62L103.56 598.22M99.96 598.22L103.56 594.62" stroke="#3dbc74" stroke-width="0.95"/><path d="M88.27 621.35L91.87 624.95M88.27 624.95L91.87 621.35" stroke="#3dbc74" stroke-width="0.95"/><path d="M80.32 643.35L83.92 646.95M80.32 646.95L83.92 643.35" stroke="#3dbc74" stroke-width="0.95"/><path d="M74.9 661.31L78.5 664.91M74.9 664.91L78.5 661.31" stroke="#3dbc74" stroke-width="0.95"/><path d="M71.2 675.89L74.8 679.49M71.2 679.49L74.8 675.89" stroke="#3dbc74" stroke-width="0.95"/><path d="M68.64 687.66L72.24 691.26M68.64 691.26L72.24 687.66" stroke="#3dbc74" stroke-width="0.95"/><path d="M66.87 697.15L70.47 700.75M66.87 700.75L70.47 697.15" stroke="#3dbc74" stroke-width="0.95"/><path d="M65.62 704.78L69.22 708.38M65.62 708.38L69.22 704.78" stroke="#3dbc74" stroke-width="0.95"/><path d="M64.73 710.92L68.33 714.52M64.73 714.52L68.33 710.92" stroke="#3dbc74" stroke-width="0.95"/><path d="M64.1 715.84L67.7 719.44M64.1 719.44L67.7 715.84" stroke="#3dbc74" stroke-width="0.95"/><path d="M63.63 719.78L67.23 723.38M63.63 723.38L67.23 719.78" stroke="#3dbc74" stroke-width="0.95"/><path d="M63.29 722.95L66.89 726.55M63.29 726.55L66.89 722.95" stroke="#3dbc74" stroke-width="0.95"/><path d="M63.04 725.49L66.64 729.09M63.04 729.09L66.64 725.49" stroke="#3dbc74" stroke-width="0.95"/><path d="M62.85 727.52L66.45 731.12M62.85 731.12L66.45 727.52" stroke="#3dbc74" stroke-width="0.95"/><path d="M62.71 729.15L66.31 732.75M62.71 732.75L66.31 729.15" stroke="#3dbc74" stroke-width="0.95"/><path d="M62.6 730.45L66.2 734.05M62.6 734.05L66.2 730.45" stroke="#3dbc74" stroke-width="0.95"/><path d="M62.51 731.5L66.11 735.1M62.51 735.1L66.11 731.5" stroke="#3dbc74" stroke-width="0.95"/><path d="M62.45 732.33L66.05 735.93M62.45 735.93L66.05 732.33" stroke="#3dbc74" stroke-width="0.95"/><path d="M62.4 733L66 736.6M62.4 736.6L66 733" stroke="#3dbc74" stroke-width="0.95"/><path d="M62.36 733.54L65.96 737.14M62.36 737.14L65.96 733.54" stroke="#3dbc74" stroke-width="0.95"/><path d="M62.32 733.97L65.92 737.57M62.32 737.57L65.92 733.97" stroke="#3dbc74" stroke-width="0.95"/><path d="M62.3 734.32L65.9 737.92M62.3 737.92L65.9 734.32" stroke="#3dbc74" stroke-width="0.95"/><path d="M62.28 734.59L65.88 738.19M62.28 738.19L65.88 734.59" stroke="#3dbc74" stroke-width="0.95"/><path d="M62.26 734.81L65.86 738.41M62.26 738.41L65.86 734.81" stroke="#3dbc74" stroke-width="0.95"/><path d="M62.25 734.99L65.85 738.59M62.25 738.59L65.85 734.99" stroke="#3dbc74" stroke-width="0.95"/><path d="M62.24 735.13L65.84 738.73M62.24 738.73L65.84 735.13" stroke="#3dbc74" stroke-width="0.95"/><path d="M62.23 735.24L65.83 738.84M62.23 738.84L65.83 735.24" stroke="#3dbc74" stroke-width="0.95"/><path d="M62.23 735.34L65.83 738.94M62.23 738.94L65.83 735.34" stroke="#3dbc74" stroke-width="0.95"/><path d="M62.22 735.41L65.82 739.01M62.22 739.01L65.82 735.41" stroke="#3dbc74" stroke-width="0.95"/><path d="M62.22 735.47L65.82 739.07M62.22 739.07L65.82 735.47" stroke="#3dbc74" stroke-width="0.95"/><path d="M62.21 735.51L65.81 739.11M62.21 739.11L65.81 735.51" stroke="#3dbc74" stroke-width="0.95"/><path d="M62.21 735.55L65.81 739.15M62.21 739.15L65.81 735.55" stroke="#3dbc74" stroke-width="0.95"/><path d="M62.21 735.58L65.81 739.18M62.21 739.18L65.81 735.58" stroke="#3dbc74" stroke-width="0.95"/><path d="M62.21 735.6L65.81 739.2M62.21 739.2L65.81 735.6" stroke="#3dbc74" stroke-width="0.95"/><path d="M62.21 735.62L65.81 739.22M62.21 739.22L65.81 735.62" stroke="#3dbc74" stroke-width="0.95"/><path d="M62.21 735.64L65.81 739.24M62.21 739.24L65.81 735.64" stroke="#3dbc74" stroke-width="0.95"/><path d="M62.2 735.65L65.8 739.25M62.2 739.25L65.8 735.65" stroke="#3dbc74" stroke-width="0.95"/><path d="M62.2 735.66L65.8 739.26M62.2 739.26L65.8 735.66" stroke="#3dbc74" stroke-width="0.95"/><path d="M62.2 735.67L65.8 739.27M62.2 739.27L65.8 735.67" stroke="#3dbc74" stroke-width="0.95"/><path d="M62.2 735.67L65.8 739.27M62.2 739.27L65.8 735.67" stroke="#3dbc74" stroke-width="0.95"/><path d="M62.2 735.68L65.8 739.28M62.2 739.28L65.8 735.68" stroke="#3dbc74" stroke-width="0.95"/><path d="M62.2 735.68L65.8 739.28M62.2 739.28L65.8 735.68" stroke="#3dbc74" stroke-width="0.95"/><path d="M62.2 735.69L65.8 739.29M62.2 739.29L65.8 735.69" stroke="#3dbc74" stroke-width="0.95"/><path d="M62.2 735.69L65.8 739.29M62.2 739.29L65.8 735.69" stroke="#3dbc74" stroke-width="0.95"/><path d="M62.2 735.69L65.8 739.29M62.2 739.29L65.8 735.69" stroke="#3dbc74" stroke-width="0.95"/><path d="M62.2 735.69L65.8 739.29M62.2 739.29L65.8 735.69" stroke="#3dbc74" stroke-width="0.95"/><path d="M62.2 735.69L65.8 739.29M62.2 739.29L65.8 735.69" stroke="#3dbc74" stroke-width="0.95"/><path d="M62.2 735.7L65.8 739.3M62.2 739.3L65.8 735.7" stroke="#3dbc74" stroke-width="0.95"/><path d="M62.2 735.7L65.8 739.3M62.2 739.3L65.8 735.7" stroke="#3dbc74" stroke-width="0.95"/><path d="M62.2 735.7L65.8 739.3M62.2 739.3L65.8 735.7" stroke="#3dbc74" stroke-width="0.95"/><path d="M62.2 735.7L65.8 739.3M62.2 739.3L65.8 735.7" stroke="#3dbc74" stroke-width="0.95"/><path d="M62.2 735.7L65.8 739.3M62.2 739.3L65.8 735.7" stroke="#3dbc74" stroke-width="0.95"/><path d="M62.2 735.7L65.8 739.3M62.2 739.3L65.8 735.7" stroke="#3dbc74" stroke-width="0.95"/><path d="M62.2 735.7L65.8 739.3M62.2 739.3L65.8 735.7" stroke="#3dbc74" stroke-width="0.95"/><path d="M62.2 735.7L65.8 739.3M62.2 739.3L65.8 735.7" stroke="#3dbc74" stroke-width="0.95"/><path d="M62.2 735.7L65.8 739.3M62.2 739.3L65.8 735.7" stroke="#3dbc74" stroke-width="0.95"/><path d="M62.2 735.7L65.8 739.3M62.2 739.3L65.8 735.7" stroke="#3dbc74" stroke-width="0.95"/><path d="M62.2 735.7L65.8 739.3M62.2 739.3L65.8 735.7" stroke="#3dbc74" stroke-width="0.95"/><path d="M62.2 735.7L65.8 739.3M62.2 739.3L65.8 735.7" stroke="#3dbc74" stroke-width="0.95"/><path d="M62.2 735.7L65.8 739.3M62.2 739.3L65.8 735.7" stroke="#3dbc74" stroke-width="0.95"/><path d="M62.2 735.7L65.8 739.3M62.2 739.3L65.8 735.7" stroke="#3dbc74" stroke-width="0.95"/><path d="M62.2 735.7L65.8 739.3M62.2 739.3L65.8 735.7" stroke="#3dbc74" stroke-width="0.95"/><path d="M62.2 735.7L65.8 739.3M62.2 739.3L65.8 735.7" stroke="#3dbc74" stroke-width="0.95"/><path d="M62.2 735.7L65.8 739.3M62.2 739.3L65.8 735.7" stroke="#3dbc74" stroke-width="0.95"/><path d="M62.2 735.7L65.8 739.3M62.2 739.3L65.8 735.7" stroke="#3dbc74" stroke-width="0.95"/><path d="M62.2 735.7L65.8 739.3M62.2 739.3L65.8 735.7" stroke="#3dbc74" stroke-width="0.95"/><path d="M62.2 735.7L65.8 739.3M62.2 739.3L65.8 735.7" stroke="#3dbc74" stroke-width="0.95"/><path d="M62.2 735.7L65.8 739.3M62.2 739.3L65.8 735.7" stroke="#3dbc74" stroke-width="0.95"/><path d="M62.2 735.7L65.8 739.3M62.2 739.3L65.8 735.7" stroke="#3dbc74" stroke-width="0.95"/><path d="M62.2 735.7L65.8 739.3M62.2 739.3L65.8 735.7" stroke="#3dbc74" stroke-width="0.95"/><path d="M120.62 562.94L124.22 566.54M120.62 566.54L124.22 562.94" stroke="#bddf26" stroke-width="0.95"/><path d="M102.42 594.51L106.02 598.11M102.42 598.11L106.02 594.51" stroke="#bddf26" stroke-width="0.95"/><path d="M89.97 621.03L93.57 624.63M89.97 624.63L93.57 621.03" stroke="#bddf26" stroke-width="0.95"/><path d="M81.49 642.97L85.09 646.57M81.49 646.57L85.09 642.97" stroke="#bddf26" stroke-width="0.95"/><path d="M75.71 660.93L79.31 664.53M75.71 664.53L79.31 660.93" stroke="#bddf26" stroke-width="0.95"/><path d="M71.75 675.53L75.35 679.13M71.75 679.13L75.35 675.53" stroke="#bddf26" stroke-width="0.95"/><path d="M69.03 687.35L72.63 690.95M69.03 690.95L72.63 687.35" stroke="#bddf26" stroke-width="0.95"/><path d="M67.13 696.88L70.73 700.48M67.13 700.48L70.73 696.88" stroke="#bddf26" stroke-width="0.95"/><path d="M65.81 704.55L69.41 708.15M65.81 708.15L69.41 704.55" stroke="#bddf26" stroke-width="0.95"/><path d="M64.87 710.72L68.47 714.32M64.87 714.32L68.47 710.72" stroke="#bddf26" stroke-width="0.95"/><path d="M64.19 715.67L67.79 719.27M64.19 719.27L67.79 715.67" stroke="#bddf26" stroke-width="0.95"/><path d="M63.71 719.65L67.31 723.25M63.71 723.25L67.31 719.65" stroke="#bddf26" stroke-width="0.95"/><path d="M63.35 722.84L66.95 726.44M63.35 726.44L66.95 722.84" stroke="#bddf26" stroke-width="0.95"/><path d="M63.08 725.39L66.68 728.99M63.08 728.99L66.68 725.39" stroke="#bddf26" stroke-width="0.95"/><path d="M62.88 727.44L66.48 731.04M62.88 731.04L66.48 727.44" stroke="#bddf26" stroke-width="0.95"/><path d="M62.73 729.08L66.33 732.68M62.73 732.68L66.33 729.08" stroke="#bddf26" stroke-width="0.95"/><path d="M62.62 730.4L66.22 734M62.62 734L66.22 730.4" stroke="#bddf26" stroke-width="0.95"/><path d="M62.53 731.45L66.13 735.05M62.53 735.05L66.13 731.45" stroke="#bddf26" stroke-width="0.95"/><path d="M62.46 732.3L66.06 735.9M62.46 735.9L66.06 732.3" stroke="#bddf26" stroke-width="0.95"/><path d="M62.4 732.98L66 736.58M62.4 736.58L66 732.98" stroke="#bddf26" stroke-width="0.95"/><path d="M62.36 733.52L65.96 737.12M62.36 737.12L65.96 733.52" stroke="#bddf26" stroke-width="0.95"/><path d="M62.33 733.95L65.93 737.55M62.33 737.55L65.93 733.95" stroke="#bddf26" stroke-width="0.95"/><path d="M62.3 734.3L65.9 737.9M62.3 737.9L65.9 734.3" stroke="#bddf26" stroke-width="0.95"/><path d="M62.28 734.58L65.88 738.18M62.28 738.18L65.88 734.58" stroke="#bddf26" stroke-width="0.95"/><path d="M62.27 734.8L65.87 738.4M62.27 738.4L65.87 734.8" stroke="#bddf26" stroke-width="0.95"/><path d="M62.25 734.98L65.85 738.58M62.25 738.58L65.85 734.98" stroke="#bddf26" stroke-width="0.95"/><path d="M62.24 735.12L65.84 738.72M62.24 738.72L65.84 735.12" stroke="#bddf26" stroke-width="0.95"/><path d="M62.23 735.24L65.83 738.84M62.23 738.84L65.83 735.24" stroke="#bddf26" stroke-width="0.95"/><path d="M62.23 735.33L65.83 738.93M62.23 738.93L65.83 735.33" stroke="#bddf26" stroke-width="0.95"/><path d="M62.22 735.4L65.82 739M62.22 739L65.82 735.4" stroke="#bddf26" stroke-width="0.95"/><path d="M62.22 735.46L65.82 739.06M62.22 739.06L65.82 735.46" stroke="#bddf26" stroke-width="0.95"/><path d="M62.21 735.51L65.81 739.11M62.21 739.11L65.81 735.51" stroke="#bddf26" stroke-width="0.95"/><path d="M62.21 735.55L65.81 739.15M62.21 739.15L65.81 735.55" stroke="#bddf26" stroke-width="0.95"/><path d="M62.21 735.58L65.81 739.18M62.21 739.18L65.81 735.58" stroke="#bddf26" stroke-width="0.95"/><path d="M62.21 735.6L65.81 739.2M62.21 739.2L65.81 735.6" stroke="#bddf26" stroke-width="0.95"/><path d="M62.21 735.62L65.81 739.22M62.21 739.22L65.81 735.62" stroke="#bddf26" stroke-width="0.95"/><path d="M62.21 735.64L65.81 739.24M62.21 739.24L65.81 735.64" stroke="#bddf26" stroke-width="0.95"/><path d="M62.2 735.65L65.8 739.25M62.2 739.25L65.8 735.65" stroke="#bddf26" stroke-width="0.95"/><path d="M62.2 735.66L65.8 739.26M62.2 739.26L65.8 735.66" stroke="#bddf26" stroke-width="0.95"/><path d="M62.2 735.67L65.8 739.27M62.2 739.27L65.8 735.67" stroke="#bddf26" stroke-width="0.95"/><path d="M62.2 735.67L65.8 739.27M62.2 739.27L65.8 735.67" stroke="#bddf26" stroke-width="0.95"/><path d="M62.2 735.68L65.8 739.28M62.2 739.28L65.8 735.68" stroke="#bddf26" stroke-width="0.95"/><path d="M62.2 735.68L65.8 739.28M62.2 739.28L65.8 735.68" stroke="#bddf26" stroke-width="0.95"/><path d="M62.2 735.69L65.8 739.29M62.2 739.29L65.8 735.69" stroke="#bddf26" stroke-width="0.95"/><path d="M62.2 735.69L65.8 739.29M62.2 739.29L65.8 735.69" stroke="#bddf26" stroke-width="0.95"/><path d="M62.2 735.69L65.8 739.29M62.2 739.29L65.8 735.69" stroke="#bddf26" stroke-width="0.95"/><path d="M62.2 735.69L65.8 739.29M62.2 739.29L65.8 735.69" stroke="#bddf26" stroke-width="0.95"/><path d="M62.2 735.69L65.8 739.29M62.2 739.29L65.8 735.69" stroke="#bddf26" stroke-width="0.95"/><path d="M62.2 735.7L65.8 739.3M62.2 739.3L65.8 735.7" stroke="#bddf26" stroke-width="0.95"/><path d="M62.2 735.7L65.8 739.3M62.2 739.3L65.8 735.7" stroke="#bddf26" stroke-width="0.95"/><path d="M62.2 735.7L65.8 739.3M62.2 739.3L65.8 735.7" stroke="#bddf26" stroke-width="0.95"/><path d="M62.2 735.7L65.8 739.3M62.2 739.3L65.8 735.7" stroke="#bddf26" stroke-width="0.95"/><path d="M62.2 735.7L65.8 739.3M62.2 739.3L65.8 735.7" stroke="#bddf26" stroke-width="0.95"/><path d="M62.2 735.7L65.8 739.3M62.2 739.3L65.8 735.7" stroke="#bddf26" stroke-width="0.95"/><path d="M62.2 735.7L65.8 739.3M62.2 739.3L65.8 735.7" stroke="#bddf26" stroke-width="0.95"/><path d="M62.2 735.7L65.8 739.3M62.2 739.3L65.8 735.7" stroke="#bddf26" stroke-width="0.95"/><path d="M62.2 735.7L65.8 739.3M62.2 739.3L65.8 735.7" stroke="#bddf26" stroke-width="0.95"/><path d="M62.2 735.7L65.8 739.3M62.2 739.3L65.8 735.7" stroke="#bddf26" stroke-width="0.95"/><path d="M62.2 735.7L65.8 739.3M62.2 739.3L65.8 735.7" stroke="#bddf26" stroke-width="0.95"/><path d="M62.2 735.7L65.8 739.3M62.2 739.3L65.8 735.7" stroke="#bddf26" stroke-width="0.95"/><path d="M62.2 735.7L65.8 739.3M62.2 739.3L65.8 735.7" stroke="#bddf26" stroke-width="0.95"/><path d="M62.2 735.7L65.8 739.3M62.2 739.3L65.8 735.7" stroke="#bddf26" stroke-width="0.95"/><path d="M62.2 735.7L65.8 739.3M62.2 739.3L65.8 735.7" stroke="#bddf26" stroke-width="0.95"/><path d="M62.2 735.7L65.8 739.3M62.2 739.3L65.8 735.7" stroke="#bddf26" stroke-width="0.95"/><path d="M62.2 735.7L65.8 739.3M62.2 739.3L65.8 735.7" stroke="#bddf26" stroke-width="0.95"/><path d="M62.2 735.7L65.8 739.3M62.2 739.3L65.8 735.7" stroke="#bddf26" stroke-width="0.95"/><path d="M62.2 735.7L65.8 739.3M62.2 739.3L65.8 735.7" stroke="#bddf26" stroke-width="0.95"/><path d="M62.2 735.7L65.8 739.3M62.2 739.3L65.8 735.7" stroke="#bddf26" stroke-width="0.95"/><path d="M62.2 735.7L65.8 739.3M62.2 739.3L65.8 735.7" stroke="#bddf26" stroke-width="0.95"/><path d="M62.2 735.7L65.8 739.3M62.2 739.3L65.8 735.7" stroke="#bddf26" stroke-width="0.95"/><path d="M62.2 735.7L65.8 739.3M62.2 739.3L65.8 735.7" stroke="#bddf26" stroke-width="0.95"/></g>
<rect x="64" y="538.4" width="247.8" height="199.1" fill="none" stroke="#444" stroke-width="1"/>
<line x1="64" y1="537.9" x2="64" y2="738" stroke="#a4a4a4" stroke-width="1.7"/>
<line x1="311.8" y1="537.9" x2="311.8" y2="740.7" stroke="#a4a4a4" stroke-width="1.7"/>
<line x1="61" y1="737.5" x2="64" y2="737.5" stroke="#333" stroke-width="0.9"/>
<text x="58.2" y="741.1" font-size="10" text-anchor="end" fill="#1a1a1a">0</text>
<line x1="64" y1="737.5" x2="64" y2="740.5" stroke="#333" stroke-width="0.9"/>
<text x="64" y="751.5" font-size="10" text-anchor="middle" fill="#1a1a1a">0</text>
<line x1="61" y1="671.13" x2="64" y2="671.13" stroke="#333" stroke-width="0.9"/>
<text x="58.2" y="674.73" font-size="10" text-anchor="end" fill="#1a1a1a">200000</text>
<line x1="146.6" y1="737.5" x2="146.6" y2="740.5" stroke="#333" stroke-width="0.9"/>
<text x="146.6" y="751.5" font-size="10" text-anchor="middle" fill="#1a1a1a">200000</text>
<line x1="61" y1="604.77" x2="64" y2="604.77" stroke="#333" stroke-width="0.9"/>
<text x="58.2" y="608.37" font-size="10" text-anchor="end" fill="#1a1a1a">400000</text>
<line x1="229.2" y1="737.5" x2="229.2" y2="740.5" stroke="#333" stroke-width="0.9"/>
<text x="229.2" y="751.5" font-size="10" text-anchor="middle" fill="#1a1a1a">400000</text>
<line x1="61" y1="538.4" x2="64" y2="538.4" stroke="#333" stroke-width="0.9"/>
<text x="58.2" y="542" font-size="10" text-anchor="end" fill="#1a1a1a">600000</text>
<line x1="311.8" y1="737.5" x2="311.8" y2="740.5" stroke="#333" stroke-width="0.9"/>
<text x="311.8" y="751.5" font-size="10" text-anchor="middle" fill="#1a1a1a">600000</text>
<line x1="62.2" y1="704.32" x2="64" y2="704.32" stroke="#333" stroke-width="0.7"/>
<line x1="105.3" y1="737.5" x2="105.3" y2="739.3" stroke="#333" stroke-width="0.7"/>
<line x1="62.2" y1="637.95" x2="64" y2="637.95" stroke="#333" stroke-width="0.7"/>
<line x1="187.9" y1="737.5" x2="187.9" y2="739.3" stroke="#333" stroke-width="0.7"/>
<line x1="62.2" y1="571.58" x2="64" y2="571.58" stroke="#333" stroke-width="0.7"/>
<line x1="270.5" y1="737.5" x2="270.5" y2="739.3" stroke="#333" stroke-width="0.7"/>
<text x="189" y="770" font-size="10.2" text-anchor="middle">real impedance / &#937; cm<tspan font-size="6.6" dy="-4">2</tspan></text>
<text x="22" y="638.7" font-size="10.2" text-anchor="middle" transform="rotate(-90 22 638.7)">imaginary impedance / &#937; cm<tspan font-size="6.6" dy="-4">2</tspan></text>
<text x="1.3" y="551.5" font-size="17.5" text-anchor="start" fill="#1a1a1a">e<tspan dx="1.1">)</tspan></text>
<path d="M213.25 546.35L215.95 549.05M213.25 549.05L215.95 546.35" stroke="#111" stroke-width="1.15"/>
<text x="229" y="551.3" font-size="10.3" text-anchor="start" fill="#1a1a1a">original</text>
<line x1="273.4" y1="547.7" x2="296.1" y2="547.7" stroke="#333" stroke-width="1"/>
<text x="299.1" y="551.3" font-size="10.3" text-anchor="start" fill="#1a1a1a">fit</text>
<path d="M213.25 571.55L215.95 574.25M213.25 574.25L215.95 571.55" stroke="#440154" stroke-width="1.15"/>
<text x="248.9" y="576.4" font-size="10.3" text-anchor="end" fill="#1a1a1a">0 d</text>
<path d="M213.25 584.1L215.95 586.8M213.25 586.8L215.95 584.1" stroke="#3e4a89" stroke-width="1.15"/>
<text x="248.9" y="588.95" font-size="10.3" text-anchor="end" fill="#1a1a1a">7 d</text>
<path d="M213.25 596.65L215.95 599.35M213.25 599.35L215.95 596.65" stroke="#25858e" stroke-width="1.15"/>
<text x="248.9" y="601.5" font-size="10.3" text-anchor="end" fill="#1a1a1a">14 d</text>
<path d="M213.25 609.2L215.95 611.9M213.25 611.9L215.95 609.2" stroke="#3dbc74" stroke-width="1.15"/>
<text x="248.9" y="614.05" font-size="10.3" text-anchor="end" fill="#1a1a1a">21 d</text>
<path d="M213.25 621.75L215.95 624.45M213.25 624.45L215.95 621.75" stroke="#bddf26" stroke-width="1.15"/>
<text x="248.9" y="626.6" font-size="10.3" text-anchor="end" fill="#1a1a1a">28 d</text>
<polyline points="399.6,718.41 404.17,680.54 408.74,654.76 413.31,643.62 417.88,628.51 422.45,622.14 427.02,612.6 431.59,601.85 436.16,590.88 440.73,595.33 445.3,587.3 449.87,591.03 454.44,586.58 459.01,582.68 463.58,580.53 468.14,580.37 472.71,578.38 477.28,577.35 481.85,576 486.42,575.2 490.99,574.41 495.56,573.21 500.13,572.82 504.7,572.26 509.27,571.62 513.84,571.38 518.41,571.06 522.98,570.75 527.55,570.43 532.12,570.59 536.69,570.67 541.26,570.83 545.83,571.06 550.4,572.82 554.97,572.02 559.54,571.86 564.11,571.62 568.68,574.96 573.25,575.2 577.82,574.8 582.39,574.01 586.96,575.76 591.52,573.45 596.09,574.09 600.66,571.86 605.23,568.84 609.8,568.44 614.37,569.16 618.94,567.25 623.51,567.09 628.08,566.77 632.65,567.56 637.22,566.61 641.79,565.65 646.36,566.93 650.93,566.77 655.5,566.61" fill="none" stroke="#222" stroke-width="1.1" stroke-linejoin="round"/>
<g><path d="M397.7 716.51L401.5 720.31M397.7 720.31L401.5 716.51" stroke="#333" stroke-width="0.75"/><path d="M402.27 678.64L406.07 682.44M402.27 682.44L406.07 678.64" stroke="#333" stroke-width="0.75"/><path d="M406.84 652.86L410.64 656.66M406.84 656.66L410.64 652.86" stroke="#333" stroke-width="0.75"/><path d="M411.41 641.72L415.21 645.52M411.41 645.52L415.21 641.72" stroke="#333" stroke-width="0.75"/><path d="M415.98 626.61L419.78 630.41M415.98 630.41L419.78 626.61" stroke="#333" stroke-width="0.75"/><path d="M420.55 620.24L424.35 624.04M420.55 624.04L424.35 620.24" stroke="#333" stroke-width="0.75"/><path d="M425.12 610.7L428.92 614.5M425.12 614.5L428.92 610.7" stroke="#333" stroke-width="0.75"/><path d="M429.69 599.95L433.49 603.75M429.69 603.75L433.49 599.95" stroke="#333" stroke-width="0.75"/><path d="M434.26 588.98L438.06 592.78M434.26 592.78L438.06 588.98" stroke="#333" stroke-width="0.75"/><path d="M438.83 593.43L442.63 597.23M438.83 597.23L442.63 593.43" stroke="#333" stroke-width="0.75"/><path d="M443.4 585.4L447.2 589.2M443.4 589.2L447.2 585.4" stroke="#333" stroke-width="0.75"/><path d="M447.97 589.13L451.77 592.93M447.97 592.93L451.77 589.13" stroke="#333" stroke-width="0.75"/><path d="M452.54 584.68L456.34 588.48M452.54 588.48L456.34 584.68" stroke="#333" stroke-width="0.75"/><path d="M457.11 580.78L460.91 584.58M457.11 584.58L460.91 580.78" stroke="#333" stroke-width="0.75"/><path d="M461.68 578.63L465.48 582.43M461.68 582.43L465.48 578.63" stroke="#333" stroke-width="0.75"/><path d="M466.24 578.47L470.04 582.27M466.24 582.27L470.04 578.47" stroke="#333" stroke-width="0.75"/><path d="M470.81 576.48L474.61 580.28M470.81 580.28L474.61 576.48" stroke="#333" stroke-width="0.75"/><path d="M475.38 575.45L479.18 579.25M475.38 579.25L479.18 575.45" stroke="#333" stroke-width="0.75"/><path d="M479.95 574.1L483.75 577.9M479.95 577.9L483.75 574.1" stroke="#333" stroke-width="0.75"/><path d="M484.52 573.3L488.32 577.1M484.52 577.1L488.32 573.3" stroke="#333" stroke-width="0.75"/><path d="M489.09 572.51L492.89 576.31M489.09 576.31L492.89 572.51" stroke="#333" stroke-width="0.75"/><path d="M493.66 571.31L497.46 575.11M493.66 575.11L497.46 571.31" stroke="#333" stroke-width="0.75"/><path d="M498.23 570.92L502.03 574.72M498.23 574.72L502.03 570.92" stroke="#333" stroke-width="0.75"/><path d="M502.8 570.36L506.6 574.16M502.8 574.16L506.6 570.36" stroke="#333" stroke-width="0.75"/><path d="M507.37 569.72L511.17 573.52M507.37 573.52L511.17 569.72" stroke="#333" stroke-width="0.75"/><path d="M511.94 569.48L515.74 573.28M511.94 573.28L515.74 569.48" stroke="#333" stroke-width="0.75"/><path d="M516.51 569.16L520.31 572.96M516.51 572.96L520.31 569.16" stroke="#333" stroke-width="0.75"/><path d="M521.08 568.85L524.88 572.65M521.08 572.65L524.88 568.85" stroke="#333" stroke-width="0.75"/><path d="M525.65 568.53L529.45 572.33M525.65 572.33L529.45 568.53" stroke="#333" stroke-width="0.75"/><path d="M530.22 568.69L534.02 572.49M530.22 572.49L534.02 568.69" stroke="#333" stroke-width="0.75"/><path d="M534.79 568.77L538.59 572.57M534.79 572.57L538.59 568.77" stroke="#333" stroke-width="0.75"/><path d="M539.36 568.93L543.16 572.73M539.36 572.73L543.16 568.93" stroke="#333" stroke-width="0.75"/><path d="M543.93 569.16L547.73 572.96M543.93 572.96L547.73 569.16" stroke="#333" stroke-width="0.75"/><path d="M548.5 570.92L552.3 574.72M548.5 574.72L552.3 570.92" stroke="#333" stroke-width="0.75"/><path d="M553.07 570.12L556.87 573.92M553.07 573.92L556.87 570.12" stroke="#333" stroke-width="0.75"/><path d="M557.64 569.96L561.44 573.76M557.64 573.76L561.44 569.96" stroke="#333" stroke-width="0.75"/><path d="M562.21 569.72L566.01 573.52M562.21 573.52L566.01 569.72" stroke="#333" stroke-width="0.75"/><path d="M566.78 573.06L570.58 576.86M566.78 576.86L570.58 573.06" stroke="#333" stroke-width="0.75"/><path d="M571.35 573.3L575.15 577.1M571.35 577.1L575.15 573.3" stroke="#333" stroke-width="0.75"/><path d="M575.92 572.9L579.72 576.7M575.92 576.7L579.72 572.9" stroke="#333" stroke-width="0.75"/><path d="M580.49 572.11L584.29 575.91M580.49 575.91L584.29 572.11" stroke="#333" stroke-width="0.75"/><path d="M585.06 573.86L588.86 577.66M585.06 577.66L588.86 573.86" stroke="#333" stroke-width="0.75"/><path d="M589.62 571.55L593.42 575.35M589.62 575.35L593.42 571.55" stroke="#333" stroke-width="0.75"/><path d="M594.19 572.19L597.99 575.99M594.19 575.99L597.99 572.19" stroke="#333" stroke-width="0.75"/><path d="M598.76 569.96L602.56 573.76M598.76 573.76L602.56 569.96" stroke="#333" stroke-width="0.75"/><path d="M603.33 566.94L607.13 570.74M603.33 570.74L607.13 566.94" stroke="#333" stroke-width="0.75"/><path d="M607.9 566.54L611.7 570.34M607.9 570.34L611.7 566.54" stroke="#333" stroke-width="0.75"/><path d="M612.47 567.26L616.27 571.06M612.47 571.06L616.27 567.26" stroke="#333" stroke-width="0.75"/><path d="M617.04 565.35L620.84 569.15M617.04 569.15L620.84 565.35" stroke="#333" stroke-width="0.75"/><path d="M621.61 565.19L625.41 568.99M621.61 568.99L625.41 565.19" stroke="#333" stroke-width="0.75"/><path d="M626.18 564.87L629.98 568.67M626.18 568.67L629.98 564.87" stroke="#333" stroke-width="0.75"/><path d="M630.75 565.66L634.55 569.46M630.75 569.46L634.55 565.66" stroke="#333" stroke-width="0.75"/><path d="M635.32 564.71L639.12 568.51M635.32 568.51L639.12 564.71" stroke="#333" stroke-width="0.75"/><path d="M639.89 563.75L643.69 567.55M639.89 567.55L643.69 563.75" stroke="#333" stroke-width="0.75"/><path d="M644.46 565.03L648.26 568.83M644.46 568.83L648.26 565.03" stroke="#333" stroke-width="0.75"/><path d="M649.03 564.87L652.83 568.67M649.03 568.67L652.83 564.87" stroke="#333" stroke-width="0.75"/><path d="M653.6 564.71L657.4 568.51M653.6 568.51L657.4 564.71" stroke="#333" stroke-width="0.75"/></g>
<rect x="399.6" y="539.4" width="255.9" height="198.9" fill="none" stroke="#333" stroke-width="1"/>
<line x1="396.6" y1="718.41" x2="399.6" y2="718.41" stroke="#333" stroke-width="0.9"/>
<text x="394" y="722.81" font-size="12.2" text-anchor="end" fill="#1a1a1a">150</text>
<line x1="396.6" y1="678.63" x2="399.6" y2="678.63" stroke="#333" stroke-width="0.9"/>
<text x="394" y="683.03" font-size="12.2" text-anchor="end" fill="#1a1a1a">200</text>
<line x1="396.6" y1="638.85" x2="399.6" y2="638.85" stroke="#333" stroke-width="0.9"/>
<text x="394" y="643.25" font-size="12.2" text-anchor="end" fill="#1a1a1a">250</text>
<line x1="396.6" y1="599.07" x2="399.6" y2="599.07" stroke="#333" stroke-width="0.9"/>
<text x="394" y="603.47" font-size="12.2" text-anchor="end" fill="#1a1a1a">300</text>
<line x1="396.6" y1="559.29" x2="399.6" y2="559.29" stroke="#333" stroke-width="0.9"/>
<text x="394" y="563.69" font-size="12.2" text-anchor="end" fill="#1a1a1a">350</text>
<line x1="397.8" y1="738.3" x2="399.6" y2="738.3" stroke="#333" stroke-width="0.7"/>
<line x1="397.8" y1="698.52" x2="399.6" y2="698.52" stroke="#333" stroke-width="0.7"/>
<line x1="397.8" y1="658.74" x2="399.6" y2="658.74" stroke="#333" stroke-width="0.7"/>
<line x1="397.8" y1="618.96" x2="399.6" y2="618.96" stroke="#333" stroke-width="0.7"/>
<line x1="397.8" y1="579.18" x2="399.6" y2="579.18" stroke="#333" stroke-width="0.7"/>
<line x1="397.8" y1="539.4" x2="399.6" y2="539.4" stroke="#333" stroke-width="0.7"/>
<line x1="399.6" y1="738.3" x2="399.6" y2="741.3" stroke="#333" stroke-width="0.9"/>
<text x="399.6" y="754" font-size="11.6" text-anchor="middle" fill="#1a1a1a">0</text>
<line x1="463.58" y1="738.3" x2="463.58" y2="741.3" stroke="#333" stroke-width="0.9"/>
<text x="463.58" y="754" font-size="11.6" text-anchor="middle" fill="#1a1a1a">7</text>
<line x1="527.55" y1="738.3" x2="527.55" y2="741.3" stroke="#333" stroke-width="0.9"/>
<text x="527.55" y="754" font-size="11.6" text-anchor="middle" fill="#1a1a1a">14</text>
<line x1="591.52" y1="738.3" x2="591.52" y2="741.3" stroke="#333" stroke-width="0.9"/>
<text x="591.52" y="754" font-size="11.6" text-anchor="middle" fill="#1a1a1a">21</text>
<line x1="655.5" y1="738.3" x2="655.5" y2="741.3" stroke="#333" stroke-width="0.9"/>
<text x="655.5" y="754" font-size="11.6" text-anchor="middle" fill="#1a1a1a">28</text>
<line x1="431.59" y1="738.3" x2="431.59" y2="740.1" stroke="#333" stroke-width="0.7"/>
<line x1="495.56" y1="738.3" x2="495.56" y2="740.1" stroke="#333" stroke-width="0.7"/>
<line x1="559.54" y1="738.3" x2="559.54" y2="740.1" stroke="#333" stroke-width="0.7"/>
<line x1="623.51" y1="738.3" x2="623.51" y2="740.1" stroke="#333" stroke-width="0.7"/>
<text x="527.5" y="769.6" font-size="11.6" text-anchor="middle" fill="#1a1a1a">time / d</text>
<text x="355.4" y="617.6" font-size="12.4" text-anchor="middle" transform="rotate(-90 355.4 617.6)"><tspan font-style="italic">E</tspan><tspan font-size="8.6" dy="2.6">OCP</tspan><tspan dy="-2.6"> / mV vs. Ag/AgCl</tspan></text>
<text x="341.6" y="551.5" font-size="17.5" text-anchor="start" fill="#1a1a1a">f<tspan dx="1.1">)</tspan></text>
</svg></body></html>
